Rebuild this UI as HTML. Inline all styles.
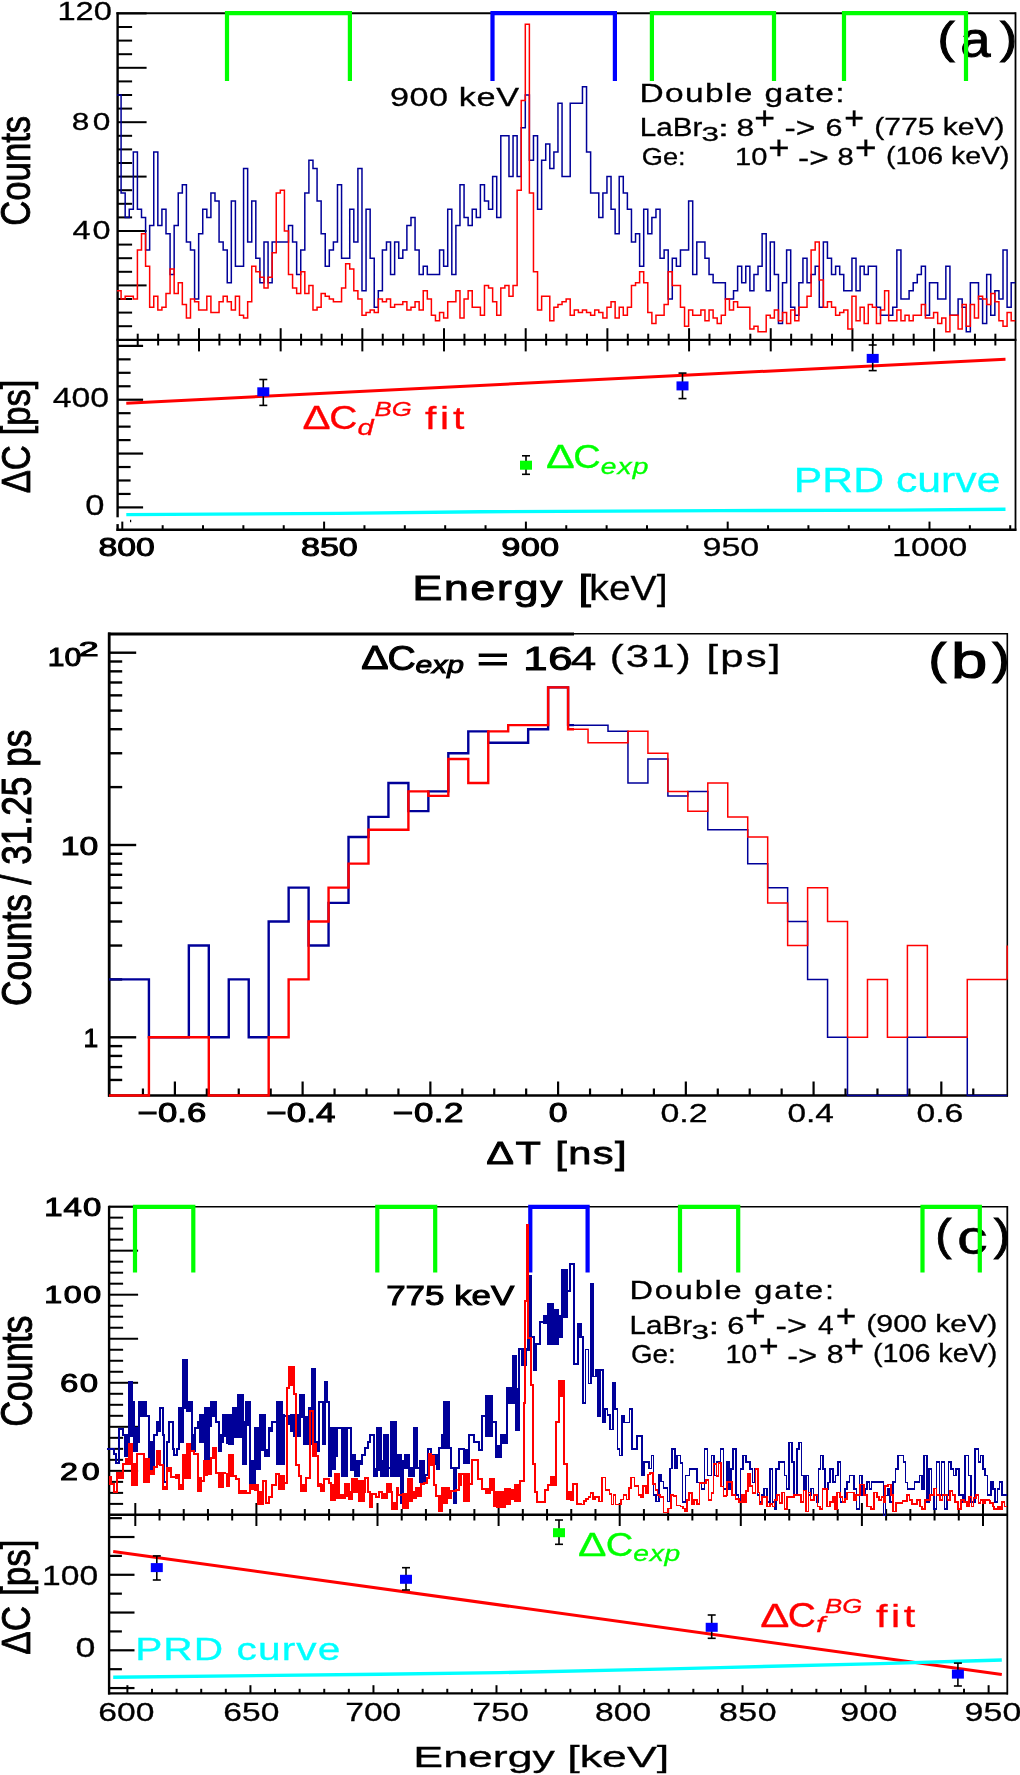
<!DOCTYPE html>
<html><head><meta charset="utf-8"><style>
html,body{margin:0;padding:0;background:#fff;}
svg{display:block;will-change:transform;font-family:"Liberation Sans",sans-serif;font-kerning:none;font-variant-ligatures:none;}
text{font-kerning:none;}
</style></head><body>
<svg width="1020" height="1775" viewBox="0 0 1020 1775">
<rect x="0" y="0" width="1020" height="1775" fill="#fff"/>
<line x1="117.6" y1="12.3" x2="117.6" y2="530.8" stroke="#000" stroke-width="2.4" stroke-linecap="butt"/>
<line x1="116.4" y1="13.3" x2="1015.5" y2="13.3" stroke="#000" stroke-width="2" stroke-linecap="butt"/>
<line x1="1015.5" y1="12.3" x2="1015.5" y2="530.8" stroke="#000" stroke-width="1.8" stroke-linecap="butt"/>
<line x1="116.4" y1="339.9" x2="1016.4" y2="339.9" stroke="#000" stroke-width="2.4" stroke-linecap="butt"/>
<line x1="116.4" y1="529.8" x2="1016.4" y2="529.8" stroke="#000" stroke-width="2.4" stroke-linecap="butt"/>
<line x1="117.6" y1="326.2" x2="132.1" y2="326.2" stroke="#000" stroke-width="2" stroke-linecap="butt"/>
<line x1="117.6" y1="312.6" x2="132.1" y2="312.6" stroke="#000" stroke-width="2" stroke-linecap="butt"/>
<line x1="117.6" y1="299" x2="132.1" y2="299" stroke="#000" stroke-width="2" stroke-linecap="butt"/>
<line x1="117.6" y1="285.4" x2="146.6" y2="285.4" stroke="#000" stroke-width="2" stroke-linecap="butt"/>
<line x1="117.6" y1="271.8" x2="132.1" y2="271.8" stroke="#000" stroke-width="2" stroke-linecap="butt"/>
<line x1="117.6" y1="258.2" x2="132.1" y2="258.2" stroke="#000" stroke-width="2" stroke-linecap="butt"/>
<line x1="117.6" y1="244.6" x2="132.1" y2="244.6" stroke="#000" stroke-width="2" stroke-linecap="butt"/>
<line x1="117.6" y1="231" x2="146.6" y2="231" stroke="#000" stroke-width="2" stroke-linecap="butt"/>
<line x1="117.6" y1="217.4" x2="132.1" y2="217.4" stroke="#000" stroke-width="2" stroke-linecap="butt"/>
<line x1="117.6" y1="203.8" x2="132.1" y2="203.8" stroke="#000" stroke-width="2" stroke-linecap="butt"/>
<line x1="117.6" y1="190.2" x2="132.1" y2="190.2" stroke="#000" stroke-width="2" stroke-linecap="butt"/>
<line x1="117.6" y1="176.6" x2="146.6" y2="176.6" stroke="#000" stroke-width="2" stroke-linecap="butt"/>
<line x1="117.6" y1="163" x2="132.1" y2="163" stroke="#000" stroke-width="2" stroke-linecap="butt"/>
<line x1="117.6" y1="149.4" x2="132.1" y2="149.4" stroke="#000" stroke-width="2" stroke-linecap="butt"/>
<line x1="117.6" y1="135.8" x2="132.1" y2="135.8" stroke="#000" stroke-width="2" stroke-linecap="butt"/>
<line x1="117.6" y1="122.2" x2="146.6" y2="122.2" stroke="#000" stroke-width="2" stroke-linecap="butt"/>
<line x1="117.6" y1="108.6" x2="132.1" y2="108.6" stroke="#000" stroke-width="2" stroke-linecap="butt"/>
<line x1="117.6" y1="95" x2="132.1" y2="95" stroke="#000" stroke-width="2" stroke-linecap="butt"/>
<line x1="117.6" y1="81.4" x2="132.1" y2="81.4" stroke="#000" stroke-width="2" stroke-linecap="butt"/>
<line x1="117.6" y1="67.8" x2="146.6" y2="67.8" stroke="#000" stroke-width="2" stroke-linecap="butt"/>
<line x1="117.6" y1="54.2" x2="132.1" y2="54.2" stroke="#000" stroke-width="2" stroke-linecap="butt"/>
<line x1="117.6" y1="40.6" x2="132.1" y2="40.6" stroke="#000" stroke-width="2" stroke-linecap="butt"/>
<line x1="117.6" y1="27" x2="132.1" y2="27" stroke="#000" stroke-width="2" stroke-linecap="butt"/>
<line x1="117.6" y1="13.4" x2="146.6" y2="13.4" stroke="#000" stroke-width="2" stroke-linecap="butt"/>
<line x1="137.72" y1="333.7" x2="137.72" y2="345.5" stroke="#000" stroke-width="2" stroke-linecap="butt"/>
<line x1="158.14" y1="333.7" x2="158.14" y2="345.5" stroke="#000" stroke-width="2" stroke-linecap="butt"/>
<line x1="178.56" y1="333.7" x2="178.56" y2="345.5" stroke="#000" stroke-width="2" stroke-linecap="butt"/>
<line x1="198.98" y1="328.2" x2="198.98" y2="351.4" stroke="#000" stroke-width="2" stroke-linecap="butt"/>
<line x1="219.4" y1="333.7" x2="219.4" y2="345.5" stroke="#000" stroke-width="2" stroke-linecap="butt"/>
<line x1="239.82" y1="333.7" x2="239.82" y2="345.5" stroke="#000" stroke-width="2" stroke-linecap="butt"/>
<line x1="260.24" y1="333.7" x2="260.24" y2="345.5" stroke="#000" stroke-width="2" stroke-linecap="butt"/>
<line x1="280.66" y1="328.2" x2="280.66" y2="351.4" stroke="#000" stroke-width="2" stroke-linecap="butt"/>
<line x1="301.08" y1="333.7" x2="301.08" y2="345.5" stroke="#000" stroke-width="2" stroke-linecap="butt"/>
<line x1="321.5" y1="333.7" x2="321.5" y2="345.5" stroke="#000" stroke-width="2" stroke-linecap="butt"/>
<line x1="341.92" y1="333.7" x2="341.92" y2="345.5" stroke="#000" stroke-width="2" stroke-linecap="butt"/>
<line x1="362.34" y1="328.2" x2="362.34" y2="351.4" stroke="#000" stroke-width="2" stroke-linecap="butt"/>
<line x1="382.76" y1="333.7" x2="382.76" y2="345.5" stroke="#000" stroke-width="2" stroke-linecap="butt"/>
<line x1="403.18" y1="333.7" x2="403.18" y2="345.5" stroke="#000" stroke-width="2" stroke-linecap="butt"/>
<line x1="423.6" y1="333.7" x2="423.6" y2="345.5" stroke="#000" stroke-width="2" stroke-linecap="butt"/>
<line x1="444.02" y1="328.2" x2="444.02" y2="351.4" stroke="#000" stroke-width="2" stroke-linecap="butt"/>
<line x1="464.44" y1="333.7" x2="464.44" y2="345.5" stroke="#000" stroke-width="2" stroke-linecap="butt"/>
<line x1="484.86" y1="333.7" x2="484.86" y2="345.5" stroke="#000" stroke-width="2" stroke-linecap="butt"/>
<line x1="505.28" y1="333.7" x2="505.28" y2="345.5" stroke="#000" stroke-width="2" stroke-linecap="butt"/>
<line x1="525.7" y1="328.2" x2="525.7" y2="351.4" stroke="#000" stroke-width="2" stroke-linecap="butt"/>
<line x1="546.12" y1="333.7" x2="546.12" y2="345.5" stroke="#000" stroke-width="2" stroke-linecap="butt"/>
<line x1="566.54" y1="333.7" x2="566.54" y2="345.5" stroke="#000" stroke-width="2" stroke-linecap="butt"/>
<line x1="586.96" y1="333.7" x2="586.96" y2="345.5" stroke="#000" stroke-width="2" stroke-linecap="butt"/>
<line x1="607.38" y1="328.2" x2="607.38" y2="351.4" stroke="#000" stroke-width="2" stroke-linecap="butt"/>
<line x1="627.8" y1="333.7" x2="627.8" y2="345.5" stroke="#000" stroke-width="2" stroke-linecap="butt"/>
<line x1="648.22" y1="333.7" x2="648.22" y2="345.5" stroke="#000" stroke-width="2" stroke-linecap="butt"/>
<line x1="668.64" y1="333.7" x2="668.64" y2="345.5" stroke="#000" stroke-width="2" stroke-linecap="butt"/>
<line x1="689.06" y1="328.2" x2="689.06" y2="351.4" stroke="#000" stroke-width="2" stroke-linecap="butt"/>
<line x1="709.48" y1="333.7" x2="709.48" y2="345.5" stroke="#000" stroke-width="2" stroke-linecap="butt"/>
<line x1="729.9" y1="333.7" x2="729.9" y2="345.5" stroke="#000" stroke-width="2" stroke-linecap="butt"/>
<line x1="750.32" y1="333.7" x2="750.32" y2="345.5" stroke="#000" stroke-width="2" stroke-linecap="butt"/>
<line x1="770.74" y1="328.2" x2="770.74" y2="351.4" stroke="#000" stroke-width="2" stroke-linecap="butt"/>
<line x1="791.16" y1="333.7" x2="791.16" y2="345.5" stroke="#000" stroke-width="2" stroke-linecap="butt"/>
<line x1="811.58" y1="333.7" x2="811.58" y2="345.5" stroke="#000" stroke-width="2" stroke-linecap="butt"/>
<line x1="832" y1="333.7" x2="832" y2="345.5" stroke="#000" stroke-width="2" stroke-linecap="butt"/>
<line x1="852.42" y1="328.2" x2="852.42" y2="351.4" stroke="#000" stroke-width="2" stroke-linecap="butt"/>
<line x1="872.84" y1="333.7" x2="872.84" y2="345.5" stroke="#000" stroke-width="2" stroke-linecap="butt"/>
<line x1="893.26" y1="333.7" x2="893.26" y2="345.5" stroke="#000" stroke-width="2" stroke-linecap="butt"/>
<line x1="913.68" y1="333.7" x2="913.68" y2="345.5" stroke="#000" stroke-width="2" stroke-linecap="butt"/>
<line x1="934.1" y1="328.2" x2="934.1" y2="351.4" stroke="#000" stroke-width="2" stroke-linecap="butt"/>
<line x1="954.52" y1="333.7" x2="954.52" y2="345.5" stroke="#000" stroke-width="2" stroke-linecap="butt"/>
<line x1="974.94" y1="333.7" x2="974.94" y2="345.5" stroke="#000" stroke-width="2" stroke-linecap="butt"/>
<line x1="995.36" y1="333.7" x2="995.36" y2="345.5" stroke="#000" stroke-width="2" stroke-linecap="butt"/>
<rect x="115.5" y="517.3" width="4.5" height="6.8" fill="#fff"/>
<rect x="130" y="519.8" width="1.2" height="2.4" fill="#000"/>
<line x1="117.6" y1="507.4" x2="143.1" y2="507.4" stroke="#000" stroke-width="2.2" stroke-linecap="butt"/>
<line x1="117.6" y1="493.94" x2="130.6" y2="493.94" stroke="#000" stroke-width="2.2" stroke-linecap="butt"/>
<line x1="117.6" y1="480.48" x2="130.6" y2="480.48" stroke="#000" stroke-width="2.2" stroke-linecap="butt"/>
<line x1="117.6" y1="467.02" x2="130.6" y2="467.02" stroke="#000" stroke-width="2.2" stroke-linecap="butt"/>
<line x1="117.6" y1="453.56" x2="143.1" y2="453.56" stroke="#000" stroke-width="2.2" stroke-linecap="butt"/>
<line x1="117.6" y1="440.1" x2="130.6" y2="440.1" stroke="#000" stroke-width="2.2" stroke-linecap="butt"/>
<line x1="117.6" y1="426.64" x2="130.6" y2="426.64" stroke="#000" stroke-width="2.2" stroke-linecap="butt"/>
<line x1="117.6" y1="413.18" x2="130.6" y2="413.18" stroke="#000" stroke-width="2.2" stroke-linecap="butt"/>
<line x1="117.6" y1="399.72" x2="143.1" y2="399.72" stroke="#000" stroke-width="2.2" stroke-linecap="butt"/>
<line x1="117.6" y1="386.26" x2="130.6" y2="386.26" stroke="#000" stroke-width="2.2" stroke-linecap="butt"/>
<line x1="117.6" y1="372.8" x2="130.6" y2="372.8" stroke="#000" stroke-width="2.2" stroke-linecap="butt"/>
<line x1="117.6" y1="359.34" x2="130.6" y2="359.34" stroke="#000" stroke-width="2.2" stroke-linecap="butt"/>
<line x1="117.6" y1="345.88" x2="143.1" y2="345.88" stroke="#000" stroke-width="2.2" stroke-linecap="butt"/>
<line x1="122.3" y1="529.8" x2="122.3" y2="521.6" stroke="#000" stroke-width="2" stroke-linecap="butt"/>
<line x1="162.66" y1="529.8" x2="162.66" y2="525.2" stroke="#000" stroke-width="2" stroke-linecap="butt"/>
<line x1="203.02" y1="529.8" x2="203.02" y2="525.2" stroke="#000" stroke-width="2" stroke-linecap="butt"/>
<line x1="243.38" y1="529.8" x2="243.38" y2="525.2" stroke="#000" stroke-width="2" stroke-linecap="butt"/>
<line x1="283.74" y1="529.8" x2="283.74" y2="525.2" stroke="#000" stroke-width="2" stroke-linecap="butt"/>
<line x1="324.1" y1="529.8" x2="324.1" y2="521.6" stroke="#000" stroke-width="2" stroke-linecap="butt"/>
<line x1="364.46" y1="529.8" x2="364.46" y2="525.2" stroke="#000" stroke-width="2" stroke-linecap="butt"/>
<line x1="404.82" y1="529.8" x2="404.82" y2="525.2" stroke="#000" stroke-width="2" stroke-linecap="butt"/>
<line x1="445.18" y1="529.8" x2="445.18" y2="525.2" stroke="#000" stroke-width="2" stroke-linecap="butt"/>
<line x1="485.54" y1="529.8" x2="485.54" y2="525.2" stroke="#000" stroke-width="2" stroke-linecap="butt"/>
<line x1="525.9" y1="529.8" x2="525.9" y2="521.6" stroke="#000" stroke-width="2" stroke-linecap="butt"/>
<line x1="566.26" y1="529.8" x2="566.26" y2="525.2" stroke="#000" stroke-width="2" stroke-linecap="butt"/>
<line x1="606.62" y1="529.8" x2="606.62" y2="525.2" stroke="#000" stroke-width="2" stroke-linecap="butt"/>
<line x1="646.98" y1="529.8" x2="646.98" y2="525.2" stroke="#000" stroke-width="2" stroke-linecap="butt"/>
<line x1="687.34" y1="529.8" x2="687.34" y2="525.2" stroke="#000" stroke-width="2" stroke-linecap="butt"/>
<line x1="727.7" y1="529.8" x2="727.7" y2="521.6" stroke="#000" stroke-width="2" stroke-linecap="butt"/>
<line x1="768.06" y1="529.8" x2="768.06" y2="525.2" stroke="#000" stroke-width="2" stroke-linecap="butt"/>
<line x1="808.42" y1="529.8" x2="808.42" y2="525.2" stroke="#000" stroke-width="2" stroke-linecap="butt"/>
<line x1="848.78" y1="529.8" x2="848.78" y2="525.2" stroke="#000" stroke-width="2" stroke-linecap="butt"/>
<line x1="889.14" y1="529.8" x2="889.14" y2="525.2" stroke="#000" stroke-width="2" stroke-linecap="butt"/>
<line x1="929.5" y1="529.8" x2="929.5" y2="521.6" stroke="#000" stroke-width="2" stroke-linecap="butt"/>
<line x1="969.86" y1="529.8" x2="969.86" y2="525.2" stroke="#000" stroke-width="2" stroke-linecap="butt"/>
<line x1="1010.22" y1="529.8" x2="1010.22" y2="525.2" stroke="#000" stroke-width="2" stroke-linecap="butt"/>
<text transform="translate(57.41,19.7) scale(1.2592,1)" font-size="25.92" fill="#000" style="stroke:#000;stroke-width:0.3px;">120</text>
<text transform="translate(71.82,129.5) scale(1.3000,1)" font-size="24.35" fill="#000" style="letter-spacing:2.62px;stroke:#000;stroke-width:0.3px;">80</text>
<text transform="translate(72.46,239.2) scale(1.3000,1)" font-size="24.92" fill="#000" style="letter-spacing:1.52px;stroke:#000;stroke-width:0.3px;">40</text>
<text transform="translate(30.3,225.76) rotate(-90) scale(0.8191,1)" font-size="42.39" fill="#000" style="stroke:#000;stroke-width:0.8px;">Counts</text>
<text transform="translate(52.73,407.3) scale(1.2081,1)" font-size="27.93" fill="#000" style="stroke:#000;stroke-width:0.3px;">400</text>
<text transform="translate(85.35,514.6) scale(1.1814,1)" font-size="29.22" fill="#000" style="stroke:#000;stroke-width:0.3px;">0</text>
<text transform="translate(30.2,493.33) rotate(-90) scale(0.8531,1)" font-size="40.67" fill="#000" style="stroke:#000;stroke-width:0.8px;">ΔC [ps]</text>
<text transform="translate(98.53,556) scale(1.2732,1)" font-size="26.5" fill="#000" style="stroke:#000;stroke-width:1.0px;">800</text>
<text transform="translate(300.92,556) scale(1.2875,1)" font-size="26.5" fill="#000" style="stroke:#000;stroke-width:1.0px;">850</text>
<text transform="translate(501.29,556) scale(1.3000,1)" font-size="26.5" fill="#000" style="letter-spacing:0.19px;stroke:#000;stroke-width:1.0px;">900</text>
<text transform="translate(702.5,556.3) scale(1.2786,1)" font-size="26.64" fill="#000" style="stroke:#000;stroke-width:0.3px;">950</text>
<text transform="translate(892.23,556.3) scale(1.2653,1)" font-size="26.64" fill="#000" style="stroke:#000;stroke-width:0.3px;">1000</text>
<text transform="translate(412.56,599.7) scale(1.3000,1)" font-size="34.16" fill="#000" style="letter-spacing:1.42px;stroke:#000;stroke-width:1.0px;">Energy [</text>
<text transform="translate(589.37,599.7) scale(1.1429,1)" font-size="34.16" fill="#000" style="stroke:#000;stroke-width:0.3px;">keV]</text>
<text transform="translate(389.89,106.2) scale(1.3000,1)" font-size="26.35" fill="#000" style="letter-spacing:0.44px;stroke:#000;stroke-width:0.3px;">900 keV</text>
<text transform="translate(639.46,101.5) scale(1.3000,1)" font-size="25.73" fill="#000" style="letter-spacing:1.08px;stroke:#000;stroke-width:0.3px;">Double gate:</text>
<text transform="translate(639.87,135.6) scale(1.1770,1)" font-size="25.15" fill="#000" style="stroke:#000;stroke-width:0.3px;">LaBr</text>
<text transform="translate(701.5,140.89) scale(1.4933,1)" font-size="21.04" fill="#000" style="stroke:#000;stroke-width:0.3px;">3</text>
<text transform="translate(717.76,135.6) scale(1.8339,1)" font-size="22.33" fill="#000" style="stroke:#000;stroke-width:0.3px;">:</text>
<text transform="translate(736.62,135.6) scale(1.2816,1)" font-size="24.78" fill="#000" style="stroke:#000;stroke-width:0.3px;">8</text>
<text transform="translate(754.26,128.88) scale(1.1692,1)" font-size="30.45" fill="#000" style="stroke:#000;stroke-width:0.3px;">+</text>
<text transform="translate(784.51,137.11) scale(1.2556,1)" font-size="26.78" fill="#000" style="stroke:#000;stroke-width:0.3px;">-&gt;</text>
<text transform="translate(825.55,135.6) scale(1.2333,1)" font-size="24.78" fill="#000" style="stroke:#000;stroke-width:0.3px;">6</text>
<text transform="translate(844.24,128.93) scale(1.0932,1)" font-size="31.07" fill="#000" style="stroke:#000;stroke-width:0.3px;">+</text>
<text transform="translate(874.13,134.6) scale(1.2467,1)" font-size="24.15" fill="#000" style="stroke:#000;stroke-width:0.3px;">(775 keV)</text>
<text transform="translate(641.73,165.4) scale(1.0981,1)" font-size="24.78" fill="#000" style="stroke:#000;stroke-width:0.3px;">Ge:</text>
<text transform="translate(734.98,165.4) scale(1.1739,1)" font-size="24.78" fill="#000" style="stroke:#000;stroke-width:0.3px;">10</text>
<text transform="translate(768.32,158.91) scale(1.1003,1)" font-size="33.11" fill="#000" style="stroke:#000;stroke-width:0.3px;">+</text>
<text transform="translate(798.12,167.11) scale(1.2466,1)" font-size="26.78" fill="#000" style="stroke:#000;stroke-width:0.3px;">-&gt;</text>
<text transform="translate(837.53,165.4) scale(1.1784,1)" font-size="24.78" fill="#000" style="stroke:#000;stroke-width:0.3px;">8</text>
<text transform="translate(855.09,159) scale(1.0854,1)" font-size="34.13" fill="#000" style="stroke:#000;stroke-width:0.3px;">+</text>
<text transform="translate(886.03,164.4) scale(1.1808,1)" font-size="24.15" fill="#000" style="stroke:#000;stroke-width:0.3px;">(106 keV)</text>
<text transform="translate(302.55,428.5) scale(1.2820,1)" font-size="32.85" fill="#ff0000" style="stroke:#ff0000;stroke-width:0.3px;">Δ</text>
<text transform="translate(329.22,429.07) scale(1.1602,1)" font-size="33.62" fill="#ff0000" style="stroke:#ff0000;stroke-width:0.3px;">C</text>
<text transform="translate(357.52,434.97) scale(1.2981,1)" font-size="22.32" fill="#ff0000" style="font-style:italic;stroke:#ff0000;stroke-width:0.3px;">d</text>
<text transform="translate(374.51,416.3) scale(1.2659,1)" font-size="20.34" fill="#ff0000" style="font-style:italic;stroke:#ff0000;stroke-width:0.3px;">BG</text>
<text transform="translate(425.02,428.65) scale(1.3000,1)" font-size="31.4" fill="#ff0000" style="letter-spacing:2.89px;stroke:#ff0000;stroke-width:0.3px;">fit</text>
<text transform="translate(546.02,467.7) scale(1.3297,1)" font-size="32.41" fill="#00ff00" style="stroke:#00ff00;stroke-width:0.3px;">Δ</text>
<text transform="translate(573.37,468.17) scale(1.1180,1)" font-size="34.04" fill="#00ff00" style="stroke:#00ff00;stroke-width:0.3px;">C</text>
<text transform="translate(600.85,473.99) scale(1.3000,1)" font-size="21.73" fill="#00ff00" style="font-style:italic;letter-spacing:0.82px;stroke:#00ff00;stroke-width:0.3px;">exp</text>
<text transform="translate(937.4,53.34) scale(1.1434,1)" font-size="45.19" fill="#000" style="stroke:#000;stroke-width:1.0px;">(</text>
<text transform="translate(960.28,56.82) scale(1.1102,1)" font-size="49.1" fill="#000" style="stroke:#000;stroke-width:0.9px;">a</text>
<text transform="translate(1000.1,53.34) scale(1.1434,1)" font-size="45.19" fill="#000" style="stroke:#000;stroke-width:1.0px;">)</text>
<path d="M227 81 L227 13.2 L349.9 13.2 L349.9 81" fill="none" stroke="#00ff00" stroke-width="4.2" stroke-linejoin="miter"/>
<path d="M492.5 81 L492.5 13.2 L614.9 13.2 L614.9 81" fill="none" stroke="#0000ff" stroke-width="4.2" stroke-linejoin="miter"/>
<path d="M651.9 81 L651.9 13.2 L774 13.2 L774 81" fill="none" stroke="#00ff00" stroke-width="4.2" stroke-linejoin="miter"/>
<path d="M844 81 L844 13.2 L966 13.2 L966 81" fill="none" stroke="#00ff00" stroke-width="4.2" stroke-linejoin="miter"/>
<line x1="126.3" y1="403.2" x2="1005.5" y2="359.2" stroke="#ff0000" stroke-width="3" stroke-linecap="butt"/>
<path d="M126.3 514.6 L340 513.4 L480 511.8 L720 510.6 L900 510.1 L1005.5 509.3" fill="none" stroke="#00ffff" stroke-width="3.4" stroke-linejoin="round"/>
<line x1="263.3" y1="379.5" x2="263.3" y2="405.4" stroke="#000" stroke-width="1.6" stroke-linecap="butt"/>
<line x1="259.3" y1="379.5" x2="267.3" y2="379.5" stroke="#000" stroke-width="1.6" stroke-linecap="butt"/>
<line x1="259.3" y1="405.4" x2="267.3" y2="405.4" stroke="#000" stroke-width="1.6" stroke-linecap="butt"/>
<rect x="257.3" y="387.3" width="12" height="9" fill="#0000ff"/>
<line x1="682.5" y1="373.1" x2="682.5" y2="398.6" stroke="#000" stroke-width="1.6" stroke-linecap="butt"/>
<line x1="678.5" y1="373.1" x2="686.5" y2="373.1" stroke="#000" stroke-width="1.6" stroke-linecap="butt"/>
<line x1="678.5" y1="398.6" x2="686.5" y2="398.6" stroke="#000" stroke-width="1.6" stroke-linecap="butt"/>
<rect x="676.5" y="381.4" width="12" height="9" fill="#0000ff"/>
<line x1="872.7" y1="345" x2="872.7" y2="370.6" stroke="#000" stroke-width="1.6" stroke-linecap="butt"/>
<line x1="868.7" y1="345" x2="876.7" y2="345" stroke="#000" stroke-width="1.6" stroke-linecap="butt"/>
<line x1="868.7" y1="370.6" x2="876.7" y2="370.6" stroke="#000" stroke-width="1.6" stroke-linecap="butt"/>
<rect x="866.7" y="353.9" width="12" height="9" fill="#0000ff"/>
<line x1="526" y1="455.8" x2="526" y2="474.3" stroke="#000" stroke-width="1.6" stroke-linecap="butt"/>
<line x1="522" y1="455.8" x2="530" y2="455.8" stroke="#000" stroke-width="1.6" stroke-linecap="butt"/>
<line x1="522" y1="474.3" x2="530" y2="474.3" stroke="#000" stroke-width="1.6" stroke-linecap="butt"/>
<rect x="520" y="460.7" width="12" height="9" fill="#00ff00"/>
<text transform="translate(793.79,492) scale(1.2518,1)" font-size="34.16" fill="#00ffff" style="stroke:#00ffff;stroke-width:0.3px;">PRD curve</text>
<line x1="109.2" y1="632.5" x2="109.2" y2="1096.8" stroke="#000" stroke-width="2.8" stroke-linecap="butt"/>
<line x1="108" y1="634" x2="574" y2="634" stroke="#000" stroke-width="3" stroke-linecap="butt"/>
<line x1="574" y1="633.8" x2="1008" y2="633.8" stroke="#000" stroke-width="1.6" stroke-linecap="butt"/>
<line x1="1007.3" y1="633" x2="1007.3" y2="1096.5" stroke="#000" stroke-width="1.6" stroke-linecap="butt"/>
<line x1="108" y1="1095.5" x2="1008" y2="1095.5" stroke="#000" stroke-width="2.4" stroke-linecap="butt"/>
<line x1="109.2" y1="1079.96" x2="122.2" y2="1079.96" stroke="#000" stroke-width="2.4" stroke-linecap="butt"/>
<line x1="109.2" y1="1067.09" x2="122.2" y2="1067.09" stroke="#000" stroke-width="2.4" stroke-linecap="butt"/>
<line x1="109.2" y1="1055.94" x2="122.2" y2="1055.94" stroke="#000" stroke-width="2.4" stroke-linecap="butt"/>
<line x1="109.2" y1="1046.1" x2="122.2" y2="1046.1" stroke="#000" stroke-width="2.4" stroke-linecap="butt"/>
<line x1="109.2" y1="1037.3" x2="136.2" y2="1037.3" stroke="#000" stroke-width="2.4" stroke-linecap="butt"/>
<line x1="109.2" y1="979.41" x2="122.2" y2="979.41" stroke="#000" stroke-width="2.4" stroke-linecap="butt"/>
<line x1="109.2" y1="945.55" x2="122.2" y2="945.55" stroke="#000" stroke-width="2.4" stroke-linecap="butt"/>
<line x1="109.2" y1="921.52" x2="122.2" y2="921.52" stroke="#000" stroke-width="2.4" stroke-linecap="butt"/>
<line x1="109.2" y1="902.89" x2="122.2" y2="902.89" stroke="#000" stroke-width="2.4" stroke-linecap="butt"/>
<line x1="109.2" y1="887.66" x2="122.2" y2="887.66" stroke="#000" stroke-width="2.4" stroke-linecap="butt"/>
<line x1="109.2" y1="874.79" x2="122.2" y2="874.79" stroke="#000" stroke-width="2.4" stroke-linecap="butt"/>
<line x1="109.2" y1="863.64" x2="122.2" y2="863.64" stroke="#000" stroke-width="2.4" stroke-linecap="butt"/>
<line x1="109.2" y1="853.8" x2="122.2" y2="853.8" stroke="#000" stroke-width="2.4" stroke-linecap="butt"/>
<line x1="109.2" y1="845" x2="136.2" y2="845" stroke="#000" stroke-width="2.4" stroke-linecap="butt"/>
<line x1="109.2" y1="787.11" x2="122.2" y2="787.11" stroke="#000" stroke-width="2.4" stroke-linecap="butt"/>
<line x1="109.2" y1="753.25" x2="122.2" y2="753.25" stroke="#000" stroke-width="2.4" stroke-linecap="butt"/>
<line x1="109.2" y1="729.22" x2="122.2" y2="729.22" stroke="#000" stroke-width="2.4" stroke-linecap="butt"/>
<line x1="109.2" y1="710.59" x2="122.2" y2="710.59" stroke="#000" stroke-width="2.4" stroke-linecap="butt"/>
<line x1="109.2" y1="695.36" x2="122.2" y2="695.36" stroke="#000" stroke-width="2.4" stroke-linecap="butt"/>
<line x1="109.2" y1="682.49" x2="122.2" y2="682.49" stroke="#000" stroke-width="2.4" stroke-linecap="butt"/>
<line x1="109.2" y1="671.34" x2="122.2" y2="671.34" stroke="#000" stroke-width="2.4" stroke-linecap="butt"/>
<line x1="109.2" y1="661.5" x2="122.2" y2="661.5" stroke="#000" stroke-width="2.4" stroke-linecap="butt"/>
<line x1="109.2" y1="652.7" x2="136.2" y2="652.7" stroke="#000" stroke-width="2.4" stroke-linecap="butt"/>
<text transform="translate(47.71,666) scale(1.1869,1)" font-size="25.35" fill="#000" style="stroke:#000;stroke-width:1.0px;">10</text>
<text transform="translate(78.71,656.3) scale(1.8257,1)" font-size="19.48" fill="#000" style="stroke:#000;stroke-width:1.0px;">2</text>
<text transform="translate(60.83,855) scale(1.2929,1)" font-size="26.07" fill="#000" style="stroke:#000;stroke-width:1.0px;">10</text>
<text transform="translate(83.59,1047.4) scale(1.0576,1)" font-size="25" fill="#000" style="stroke:#000;stroke-width:0.9px;">1</text>
<line x1="142.94" y1="1095.5" x2="142.94" y2="1088.5" stroke="#000" stroke-width="2.2" stroke-linecap="butt"/>
<line x1="174.88" y1="1095.5" x2="174.88" y2="1081.5" stroke="#000" stroke-width="2.2" stroke-linecap="butt"/>
<line x1="206.81" y1="1095.5" x2="206.81" y2="1088.5" stroke="#000" stroke-width="2.2" stroke-linecap="butt"/>
<line x1="238.75" y1="1095.5" x2="238.75" y2="1088.5" stroke="#000" stroke-width="2.2" stroke-linecap="butt"/>
<line x1="270.69" y1="1095.5" x2="270.69" y2="1088.5" stroke="#000" stroke-width="2.2" stroke-linecap="butt"/>
<line x1="302.62" y1="1095.5" x2="302.62" y2="1081.5" stroke="#000" stroke-width="2.2" stroke-linecap="butt"/>
<line x1="334.55" y1="1095.5" x2="334.55" y2="1088.5" stroke="#000" stroke-width="2.2" stroke-linecap="butt"/>
<line x1="366.49" y1="1095.5" x2="366.49" y2="1088.5" stroke="#000" stroke-width="2.2" stroke-linecap="butt"/>
<line x1="398.43" y1="1095.5" x2="398.43" y2="1088.5" stroke="#000" stroke-width="2.2" stroke-linecap="butt"/>
<line x1="430.36" y1="1095.5" x2="430.36" y2="1081.5" stroke="#000" stroke-width="2.2" stroke-linecap="butt"/>
<line x1="462.3" y1="1095.5" x2="462.3" y2="1088.5" stroke="#000" stroke-width="2.2" stroke-linecap="butt"/>
<line x1="494.23" y1="1095.5" x2="494.23" y2="1088.5" stroke="#000" stroke-width="2.2" stroke-linecap="butt"/>
<line x1="526.16" y1="1095.5" x2="526.16" y2="1088.5" stroke="#000" stroke-width="2.2" stroke-linecap="butt"/>
<line x1="558.1" y1="1095.5" x2="558.1" y2="1081.5" stroke="#000" stroke-width="2.2" stroke-linecap="butt"/>
<line x1="590.04" y1="1095.5" x2="590.04" y2="1088.5" stroke="#000" stroke-width="2.2" stroke-linecap="butt"/>
<line x1="621.97" y1="1095.5" x2="621.97" y2="1088.5" stroke="#000" stroke-width="2.2" stroke-linecap="butt"/>
<line x1="653.91" y1="1095.5" x2="653.91" y2="1088.5" stroke="#000" stroke-width="2.2" stroke-linecap="butt"/>
<line x1="685.84" y1="1095.5" x2="685.84" y2="1081.5" stroke="#000" stroke-width="2.2" stroke-linecap="butt"/>
<line x1="717.78" y1="1095.5" x2="717.78" y2="1088.5" stroke="#000" stroke-width="2.2" stroke-linecap="butt"/>
<line x1="749.71" y1="1095.5" x2="749.71" y2="1088.5" stroke="#000" stroke-width="2.2" stroke-linecap="butt"/>
<line x1="781.65" y1="1095.5" x2="781.65" y2="1088.5" stroke="#000" stroke-width="2.2" stroke-linecap="butt"/>
<line x1="813.58" y1="1095.5" x2="813.58" y2="1081.5" stroke="#000" stroke-width="2.2" stroke-linecap="butt"/>
<line x1="845.52" y1="1095.5" x2="845.52" y2="1088.5" stroke="#000" stroke-width="2.2" stroke-linecap="butt"/>
<line x1="877.45" y1="1095.5" x2="877.45" y2="1088.5" stroke="#000" stroke-width="2.2" stroke-linecap="butt"/>
<line x1="909.38" y1="1095.5" x2="909.38" y2="1088.5" stroke="#000" stroke-width="2.2" stroke-linecap="butt"/>
<line x1="941.32" y1="1095.5" x2="941.32" y2="1081.5" stroke="#000" stroke-width="2.2" stroke-linecap="butt"/>
<line x1="973.26" y1="1095.5" x2="973.26" y2="1088.5" stroke="#000" stroke-width="2.2" stroke-linecap="butt"/>
<text transform="translate(137.79,1122.1) scale(1.2895,1)" font-size="26.92" fill="#000" style="stroke:#000;stroke-width:1.0px;">−0.6</text>
<text transform="translate(266.48,1122.1) scale(1.2971,1)" font-size="26.92" fill="#000" style="stroke:#000;stroke-width:1.0px;">−0.4</text>
<text transform="translate(393.07,1122.1) scale(1.3000,1)" font-size="26.92" fill="#000" style="letter-spacing:0.33px;stroke:#000;stroke-width:1.0px;">−0.2</text>
<text transform="translate(548.68,1122.1) scale(1.2587,1)" font-size="26.92" fill="#000" style="stroke:#000;stroke-width:1.0px;">0</text>
<text transform="translate(660.48,1121.6) scale(1.3000,1)" font-size="26.07" fill="#000" style="letter-spacing:0.01px;stroke:#000;stroke-width:0.3px;">0.2</text>
<text transform="translate(787.49,1121.6) scale(1.2829,1)" font-size="26.07" fill="#000" style="stroke:#000;stroke-width:0.3px;">0.4</text>
<text transform="translate(916.38,1121.6) scale(1.2944,1)" font-size="26.07" fill="#000" style="stroke:#000;stroke-width:0.3px;">0.6</text>
<text transform="translate(486.36,1163.5) scale(1.3000,1)" font-size="31.98" fill="#000" style="letter-spacing:1.08px;stroke:#000;stroke-width:0.8px;">ΔT [ns]</text>
<text transform="translate(30.8,1005.89) rotate(-90) scale(0.8432,1)" font-size="41.82" fill="#000" style="stroke:#000;stroke-width:1.0px;">Counts / 31.25 ps</text>
<text transform="translate(928.5,674.23) scale(1.1881,1)" font-size="44.76" fill="#000" style="stroke:#000;stroke-width:1.2px;">(</text>
<text transform="translate(951.09,677.52) scale(1.3263,1)" font-size="49.29" fill="#000" style="stroke:#000;stroke-width:1.1px;">b</text>
<text transform="translate(992.6,674.23) scale(1.1460,1)" font-size="44.76" fill="#000" style="stroke:#000;stroke-width:1.2px;">)</text>
<line x1="109.1" y1="1205.8" x2="109.1" y2="1694.5" stroke="#000" stroke-width="2.4" stroke-linecap="butt"/>
<line x1="108" y1="1206.8" x2="1007.3" y2="1206.8" stroke="#000" stroke-width="1.6" stroke-linecap="butt"/>
<line x1="1007.3" y1="1206" x2="1007.3" y2="1694.5" stroke="#000" stroke-width="1.8" stroke-linecap="butt"/>
<line x1="108" y1="1514.7" x2="1008" y2="1514.7" stroke="#000" stroke-width="2.4" stroke-linecap="butt"/>
<line x1="108" y1="1693.4" x2="1008" y2="1693.4" stroke="#000" stroke-width="2.4" stroke-linecap="butt"/>
<line x1="109.1" y1="1503.89" x2="123.1" y2="1503.89" stroke="#000" stroke-width="2" stroke-linecap="butt"/>
<line x1="109.1" y1="1492.88" x2="123.1" y2="1492.88" stroke="#000" stroke-width="2" stroke-linecap="butt"/>
<line x1="109.1" y1="1481.87" x2="123.1" y2="1481.87" stroke="#000" stroke-width="2" stroke-linecap="butt"/>
<line x1="109.1" y1="1470.86" x2="138.1" y2="1470.86" stroke="#000" stroke-width="2" stroke-linecap="butt"/>
<line x1="109.1" y1="1459.85" x2="123.1" y2="1459.85" stroke="#000" stroke-width="2" stroke-linecap="butt"/>
<line x1="109.1" y1="1448.84" x2="123.1" y2="1448.84" stroke="#000" stroke-width="2" stroke-linecap="butt"/>
<line x1="109.1" y1="1437.83" x2="123.1" y2="1437.83" stroke="#000" stroke-width="2" stroke-linecap="butt"/>
<line x1="109.1" y1="1426.82" x2="138.1" y2="1426.82" stroke="#000" stroke-width="2" stroke-linecap="butt"/>
<line x1="109.1" y1="1415.81" x2="123.1" y2="1415.81" stroke="#000" stroke-width="2" stroke-linecap="butt"/>
<line x1="109.1" y1="1404.8" x2="123.1" y2="1404.8" stroke="#000" stroke-width="2" stroke-linecap="butt"/>
<line x1="109.1" y1="1393.79" x2="123.1" y2="1393.79" stroke="#000" stroke-width="2" stroke-linecap="butt"/>
<line x1="109.1" y1="1382.78" x2="138.1" y2="1382.78" stroke="#000" stroke-width="2" stroke-linecap="butt"/>
<line x1="109.1" y1="1371.77" x2="123.1" y2="1371.77" stroke="#000" stroke-width="2" stroke-linecap="butt"/>
<line x1="109.1" y1="1360.76" x2="123.1" y2="1360.76" stroke="#000" stroke-width="2" stroke-linecap="butt"/>
<line x1="109.1" y1="1349.75" x2="123.1" y2="1349.75" stroke="#000" stroke-width="2" stroke-linecap="butt"/>
<line x1="109.1" y1="1338.74" x2="138.1" y2="1338.74" stroke="#000" stroke-width="2" stroke-linecap="butt"/>
<line x1="109.1" y1="1327.73" x2="123.1" y2="1327.73" stroke="#000" stroke-width="2" stroke-linecap="butt"/>
<line x1="109.1" y1="1316.72" x2="123.1" y2="1316.72" stroke="#000" stroke-width="2" stroke-linecap="butt"/>
<line x1="109.1" y1="1305.71" x2="123.1" y2="1305.71" stroke="#000" stroke-width="2" stroke-linecap="butt"/>
<line x1="109.1" y1="1294.7" x2="138.1" y2="1294.7" stroke="#000" stroke-width="2" stroke-linecap="butt"/>
<line x1="109.1" y1="1283.69" x2="123.1" y2="1283.69" stroke="#000" stroke-width="2" stroke-linecap="butt"/>
<line x1="109.1" y1="1272.68" x2="123.1" y2="1272.68" stroke="#000" stroke-width="2" stroke-linecap="butt"/>
<line x1="109.1" y1="1261.67" x2="123.1" y2="1261.67" stroke="#000" stroke-width="2" stroke-linecap="butt"/>
<line x1="109.1" y1="1250.66" x2="138.1" y2="1250.66" stroke="#000" stroke-width="2" stroke-linecap="butt"/>
<line x1="109.1" y1="1239.65" x2="123.1" y2="1239.65" stroke="#000" stroke-width="2" stroke-linecap="butt"/>
<line x1="109.1" y1="1228.64" x2="123.1" y2="1228.64" stroke="#000" stroke-width="2" stroke-linecap="butt"/>
<line x1="109.1" y1="1217.63" x2="123.1" y2="1217.63" stroke="#000" stroke-width="2" stroke-linecap="butt"/>
<line x1="109.1" y1="1206.62" x2="138.1" y2="1206.62" stroke="#000" stroke-width="2" stroke-linecap="butt"/>
<line x1="135.3" y1="1503" x2="135.3" y2="1526" stroke="#000" stroke-width="2" stroke-linecap="butt"/>
<line x1="159.52" y1="1509" x2="159.52" y2="1520.5" stroke="#000" stroke-width="2" stroke-linecap="butt"/>
<line x1="183.74" y1="1509" x2="183.74" y2="1520.5" stroke="#000" stroke-width="2" stroke-linecap="butt"/>
<line x1="207.96" y1="1509" x2="207.96" y2="1520.5" stroke="#000" stroke-width="2" stroke-linecap="butt"/>
<line x1="232.18" y1="1509" x2="232.18" y2="1520.5" stroke="#000" stroke-width="2" stroke-linecap="butt"/>
<line x1="256.4" y1="1503" x2="256.4" y2="1526" stroke="#000" stroke-width="2" stroke-linecap="butt"/>
<line x1="280.62" y1="1509" x2="280.62" y2="1520.5" stroke="#000" stroke-width="2" stroke-linecap="butt"/>
<line x1="304.84" y1="1509" x2="304.84" y2="1520.5" stroke="#000" stroke-width="2" stroke-linecap="butt"/>
<line x1="329.06" y1="1509" x2="329.06" y2="1520.5" stroke="#000" stroke-width="2" stroke-linecap="butt"/>
<line x1="353.28" y1="1509" x2="353.28" y2="1520.5" stroke="#000" stroke-width="2" stroke-linecap="butt"/>
<line x1="377.5" y1="1503" x2="377.5" y2="1526" stroke="#000" stroke-width="2" stroke-linecap="butt"/>
<line x1="401.72" y1="1509" x2="401.72" y2="1520.5" stroke="#000" stroke-width="2" stroke-linecap="butt"/>
<line x1="425.94" y1="1509" x2="425.94" y2="1520.5" stroke="#000" stroke-width="2" stroke-linecap="butt"/>
<line x1="450.16" y1="1509" x2="450.16" y2="1520.5" stroke="#000" stroke-width="2" stroke-linecap="butt"/>
<line x1="474.38" y1="1509" x2="474.38" y2="1520.5" stroke="#000" stroke-width="2" stroke-linecap="butt"/>
<line x1="498.6" y1="1503" x2="498.6" y2="1526" stroke="#000" stroke-width="2" stroke-linecap="butt"/>
<line x1="522.82" y1="1509" x2="522.82" y2="1520.5" stroke="#000" stroke-width="2" stroke-linecap="butt"/>
<line x1="547.04" y1="1509" x2="547.04" y2="1520.5" stroke="#000" stroke-width="2" stroke-linecap="butt"/>
<line x1="571.26" y1="1509" x2="571.26" y2="1520.5" stroke="#000" stroke-width="2" stroke-linecap="butt"/>
<line x1="595.48" y1="1509" x2="595.48" y2="1520.5" stroke="#000" stroke-width="2" stroke-linecap="butt"/>
<line x1="619.7" y1="1503" x2="619.7" y2="1526" stroke="#000" stroke-width="2" stroke-linecap="butt"/>
<line x1="643.92" y1="1509" x2="643.92" y2="1520.5" stroke="#000" stroke-width="2" stroke-linecap="butt"/>
<line x1="668.14" y1="1509" x2="668.14" y2="1520.5" stroke="#000" stroke-width="2" stroke-linecap="butt"/>
<line x1="692.36" y1="1509" x2="692.36" y2="1520.5" stroke="#000" stroke-width="2" stroke-linecap="butt"/>
<line x1="716.58" y1="1509" x2="716.58" y2="1520.5" stroke="#000" stroke-width="2" stroke-linecap="butt"/>
<line x1="740.8" y1="1503" x2="740.8" y2="1526" stroke="#000" stroke-width="2" stroke-linecap="butt"/>
<line x1="765.02" y1="1509" x2="765.02" y2="1520.5" stroke="#000" stroke-width="2" stroke-linecap="butt"/>
<line x1="789.24" y1="1509" x2="789.24" y2="1520.5" stroke="#000" stroke-width="2" stroke-linecap="butt"/>
<line x1="813.46" y1="1509" x2="813.46" y2="1520.5" stroke="#000" stroke-width="2" stroke-linecap="butt"/>
<line x1="837.68" y1="1509" x2="837.68" y2="1520.5" stroke="#000" stroke-width="2" stroke-linecap="butt"/>
<line x1="861.9" y1="1503" x2="861.9" y2="1526" stroke="#000" stroke-width="2" stroke-linecap="butt"/>
<line x1="886.12" y1="1509" x2="886.12" y2="1520.5" stroke="#000" stroke-width="2" stroke-linecap="butt"/>
<line x1="910.34" y1="1509" x2="910.34" y2="1520.5" stroke="#000" stroke-width="2" stroke-linecap="butt"/>
<line x1="934.56" y1="1509" x2="934.56" y2="1520.5" stroke="#000" stroke-width="2" stroke-linecap="butt"/>
<line x1="958.78" y1="1509" x2="958.78" y2="1520.5" stroke="#000" stroke-width="2" stroke-linecap="butt"/>
<line x1="983" y1="1503" x2="983" y2="1526" stroke="#000" stroke-width="2" stroke-linecap="butt"/>
<line x1="109.1" y1="1688.06" x2="134.5" y2="1688.06" stroke="#000" stroke-width="2.2" stroke-linecap="butt"/>
<line x1="109.1" y1="1669.18" x2="121.9" y2="1669.18" stroke="#000" stroke-width="2.2" stroke-linecap="butt"/>
<line x1="109.1" y1="1650.3" x2="134.5" y2="1650.3" stroke="#000" stroke-width="2.2" stroke-linecap="butt"/>
<line x1="109.1" y1="1631.42" x2="121.9" y2="1631.42" stroke="#000" stroke-width="2.2" stroke-linecap="butt"/>
<line x1="109.1" y1="1612.54" x2="134.5" y2="1612.54" stroke="#000" stroke-width="2.2" stroke-linecap="butt"/>
<line x1="109.1" y1="1593.66" x2="121.9" y2="1593.66" stroke="#000" stroke-width="2.2" stroke-linecap="butt"/>
<line x1="109.1" y1="1574.78" x2="134.5" y2="1574.78" stroke="#000" stroke-width="2.2" stroke-linecap="butt"/>
<line x1="109.1" y1="1555.9" x2="121.9" y2="1555.9" stroke="#000" stroke-width="2.2" stroke-linecap="butt"/>
<line x1="109.1" y1="1537.02" x2="134.5" y2="1537.02" stroke="#000" stroke-width="2.2" stroke-linecap="butt"/>
<line x1="109.1" y1="1518.14" x2="121.9" y2="1518.14" stroke="#000" stroke-width="2.2" stroke-linecap="butt"/>
<line x1="127.4" y1="1693.4" x2="127.4" y2="1685.2" stroke="#000" stroke-width="2" stroke-linecap="butt"/>
<line x1="152.01" y1="1693.4" x2="152.01" y2="1688.8" stroke="#000" stroke-width="2" stroke-linecap="butt"/>
<line x1="176.61" y1="1693.4" x2="176.61" y2="1688.8" stroke="#000" stroke-width="2" stroke-linecap="butt"/>
<line x1="201.22" y1="1693.4" x2="201.22" y2="1688.8" stroke="#000" stroke-width="2" stroke-linecap="butt"/>
<line x1="225.82" y1="1693.4" x2="225.82" y2="1688.8" stroke="#000" stroke-width="2" stroke-linecap="butt"/>
<line x1="250.43" y1="1693.4" x2="250.43" y2="1685.2" stroke="#000" stroke-width="2" stroke-linecap="butt"/>
<line x1="275.04" y1="1693.4" x2="275.04" y2="1688.8" stroke="#000" stroke-width="2" stroke-linecap="butt"/>
<line x1="299.64" y1="1693.4" x2="299.64" y2="1688.8" stroke="#000" stroke-width="2" stroke-linecap="butt"/>
<line x1="324.25" y1="1693.4" x2="324.25" y2="1688.8" stroke="#000" stroke-width="2" stroke-linecap="butt"/>
<line x1="348.85" y1="1693.4" x2="348.85" y2="1688.8" stroke="#000" stroke-width="2" stroke-linecap="butt"/>
<line x1="373.46" y1="1693.4" x2="373.46" y2="1685.2" stroke="#000" stroke-width="2" stroke-linecap="butt"/>
<line x1="398.07" y1="1693.4" x2="398.07" y2="1688.8" stroke="#000" stroke-width="2" stroke-linecap="butt"/>
<line x1="422.67" y1="1693.4" x2="422.67" y2="1688.8" stroke="#000" stroke-width="2" stroke-linecap="butt"/>
<line x1="447.28" y1="1693.4" x2="447.28" y2="1688.8" stroke="#000" stroke-width="2" stroke-linecap="butt"/>
<line x1="471.88" y1="1693.4" x2="471.88" y2="1688.8" stroke="#000" stroke-width="2" stroke-linecap="butt"/>
<line x1="496.49" y1="1693.4" x2="496.49" y2="1685.2" stroke="#000" stroke-width="2" stroke-linecap="butt"/>
<line x1="521.1" y1="1693.4" x2="521.1" y2="1688.8" stroke="#000" stroke-width="2" stroke-linecap="butt"/>
<line x1="545.7" y1="1693.4" x2="545.7" y2="1688.8" stroke="#000" stroke-width="2" stroke-linecap="butt"/>
<line x1="570.31" y1="1693.4" x2="570.31" y2="1688.8" stroke="#000" stroke-width="2" stroke-linecap="butt"/>
<line x1="594.91" y1="1693.4" x2="594.91" y2="1688.8" stroke="#000" stroke-width="2" stroke-linecap="butt"/>
<line x1="619.52" y1="1693.4" x2="619.52" y2="1685.2" stroke="#000" stroke-width="2" stroke-linecap="butt"/>
<line x1="644.13" y1="1693.4" x2="644.13" y2="1688.8" stroke="#000" stroke-width="2" stroke-linecap="butt"/>
<line x1="668.73" y1="1693.4" x2="668.73" y2="1688.8" stroke="#000" stroke-width="2" stroke-linecap="butt"/>
<line x1="693.34" y1="1693.4" x2="693.34" y2="1688.8" stroke="#000" stroke-width="2" stroke-linecap="butt"/>
<line x1="717.94" y1="1693.4" x2="717.94" y2="1688.8" stroke="#000" stroke-width="2" stroke-linecap="butt"/>
<line x1="742.55" y1="1693.4" x2="742.55" y2="1685.2" stroke="#000" stroke-width="2" stroke-linecap="butt"/>
<line x1="767.16" y1="1693.4" x2="767.16" y2="1688.8" stroke="#000" stroke-width="2" stroke-linecap="butt"/>
<line x1="791.76" y1="1693.4" x2="791.76" y2="1688.8" stroke="#000" stroke-width="2" stroke-linecap="butt"/>
<line x1="816.37" y1="1693.4" x2="816.37" y2="1688.8" stroke="#000" stroke-width="2" stroke-linecap="butt"/>
<line x1="840.97" y1="1693.4" x2="840.97" y2="1688.8" stroke="#000" stroke-width="2" stroke-linecap="butt"/>
<line x1="865.58" y1="1693.4" x2="865.58" y2="1685.2" stroke="#000" stroke-width="2" stroke-linecap="butt"/>
<line x1="890.19" y1="1693.4" x2="890.19" y2="1688.8" stroke="#000" stroke-width="2" stroke-linecap="butt"/>
<line x1="914.79" y1="1693.4" x2="914.79" y2="1688.8" stroke="#000" stroke-width="2" stroke-linecap="butt"/>
<line x1="939.4" y1="1693.4" x2="939.4" y2="1688.8" stroke="#000" stroke-width="2" stroke-linecap="butt"/>
<line x1="964" y1="1693.4" x2="964" y2="1688.8" stroke="#000" stroke-width="2" stroke-linecap="butt"/>
<line x1="988.61" y1="1693.4" x2="988.61" y2="1685.2" stroke="#000" stroke-width="2" stroke-linecap="butt"/>
<text transform="translate(44.19,1216) scale(1.3000,1)" font-size="25.35" fill="#000" style="letter-spacing:0.81px;stroke:#000;stroke-width:1.0px;">140</text>
<text transform="translate(44.25,1303.3) scale(1.3000,1)" font-size="24.78" fill="#000" style="letter-spacing:1.26px;stroke:#000;stroke-width:1.0px;">100</text>
<text transform="translate(60.03,1391.7) scale(1.3000,1)" font-size="25.35" fill="#000" style="letter-spacing:1.00px;stroke:#000;stroke-width:1.0px;">60</text>
<text transform="translate(60.08,1480) scale(1.3000,1)" font-size="24.78" fill="#000" style="letter-spacing:2.81px;stroke:#000;stroke-width:1.0px;">20</text>
<text transform="translate(31.7,1426.83) rotate(-90) scale(0.8000,1)" font-size="44.97" fill="#000" style="letter-spacing:-0.64px;stroke:#000;stroke-width:0.9px;">Counts</text>
<text transform="translate(42.04,1585.1) scale(1.2222,1)" font-size="27.5" fill="#000" style="stroke:#000;stroke-width:0.3px;">100</text>
<text transform="translate(75.5,1657.2) scale(1.2942,1)" font-size="27.64" fill="#000" style="stroke:#000;stroke-width:0.3px;">0</text>
<text transform="translate(30,1654.75) rotate(-90) scale(0.8527,1)" font-size="41.25" fill="#000" style="stroke:#000;stroke-width:0.8px;">ΔC [ps]</text>
<text transform="translate(98.3,1720.7) scale(1.2881,1)" font-size="26.07" fill="#000" style="stroke:#000;stroke-width:0.3px;">600</text>
<text transform="translate(223.3,1720.7) scale(1.2881,1)" font-size="26.07" fill="#000" style="stroke:#000;stroke-width:0.3px;">650</text>
<text transform="translate(345.28,1720.7) scale(1.2885,1)" font-size="26.07" fill="#000" style="stroke:#000;stroke-width:0.3px;">700</text>
<text transform="translate(472.37,1720.7) scale(1.2982,1)" font-size="26.07" fill="#000" style="stroke:#000;stroke-width:0.3px;">750</text>
<text transform="translate(595.04,1720.7) scale(1.2894,1)" font-size="26.07" fill="#000" style="stroke:#000;stroke-width:0.3px;">800</text>
<text transform="translate(718.93,1720.7) scale(1.3000,1)" font-size="26.07" fill="#000" style="letter-spacing:0.45px;stroke:#000;stroke-width:0.3px;">850</text>
<text transform="translate(840.21,1720.7) scale(1.3000,1)" font-size="26.07" fill="#000" style="letter-spacing:0.26px;stroke:#000;stroke-width:0.3px;">900</text>
<text transform="translate(964.41,1720.7) scale(1.3000,1)" font-size="26.07" fill="#000" style="letter-spacing:0.14px;stroke:#000;stroke-width:0.3px;">950</text>
<text transform="translate(413.33,1766.9) scale(1.5078,1)" font-size="29.65" fill="#000" style="stroke:#000;stroke-width:0.3px;">Energy [keV]</text>
<text transform="translate(386.21,1304.6) scale(1.2579,1)" font-size="27.76" fill="#000" style="stroke:#000;stroke-width:1.0px;">775 keV</text>
<text transform="translate(629.53,1299.4) scale(1.3000,1)" font-size="25" fill="#000" style="letter-spacing:1.41px;stroke:#000;stroke-width:0.3px;">Double gate:</text>
<text transform="translate(935.16,1250.19) scale(1.0902,1)" font-size="44.97" fill="#000" style="stroke:#000;stroke-width:0.8px;">(</text>
<text transform="translate(956.99,1253.72) scale(1.2564,1)" font-size="48.92" fill="#000" style="stroke:#000;stroke-width:0.5px;">c</text>
<text transform="translate(993.71,1250.19) scale(1.0986,1)" font-size="44.97" fill="#000" style="stroke:#000;stroke-width:0.8px;">)</text>
<path d="M135 1272.6 L135 1206.8 L193.3 1206.8 L193.3 1272.6" fill="none" stroke="#00ff00" stroke-width="4.2" stroke-linejoin="miter"/>
<path d="M377.3 1272.6 L377.3 1206.8 L435.2 1206.8 L435.2 1272.6" fill="none" stroke="#00ff00" stroke-width="4.2" stroke-linejoin="miter"/>
<path d="M530.3 1272.6 L530.3 1206.8 L587.6 1206.8 L587.6 1272.6" fill="none" stroke="#0000ff" stroke-width="4.2" stroke-linejoin="miter"/>
<path d="M680 1272.6 L680 1206.8 L738.2 1206.8 L738.2 1272.6" fill="none" stroke="#00ff00" stroke-width="4.2" stroke-linejoin="miter"/>
<path d="M922.5 1272.6 L922.5 1206.8 L979.8 1206.8 L979.8 1272.6" fill="none" stroke="#00ff00" stroke-width="4.2" stroke-linejoin="miter"/>
<line x1="113.2" y1="1551.5" x2="1001.8" y2="1674.4" stroke="#ff0000" stroke-width="3" stroke-linecap="butt"/>
<path d="M113.2 1677.2 L380 1674.2 L500 1672.6 L660 1669.1 L720 1667.6 L880 1663.6 L960 1661.3 L1001.8 1660" fill="none" stroke="#00ffff" stroke-width="3.4" stroke-linejoin="round"/>
<line x1="156.8" y1="1555.9" x2="156.8" y2="1580" stroke="#000" stroke-width="1.6" stroke-linecap="butt"/>
<line x1="152.8" y1="1555.9" x2="160.8" y2="1555.9" stroke="#000" stroke-width="1.6" stroke-linecap="butt"/>
<line x1="152.8" y1="1580" x2="160.8" y2="1580" stroke="#000" stroke-width="1.6" stroke-linecap="butt"/>
<rect x="150.8" y="1563.1" width="12" height="9" fill="#0000ff"/>
<line x1="406" y1="1567.7" x2="406" y2="1590" stroke="#000" stroke-width="1.6" stroke-linecap="butt"/>
<line x1="402" y1="1567.7" x2="410" y2="1567.7" stroke="#000" stroke-width="1.6" stroke-linecap="butt"/>
<line x1="402" y1="1590" x2="410" y2="1590" stroke="#000" stroke-width="1.6" stroke-linecap="butt"/>
<rect x="400" y="1574.8" width="12" height="9" fill="#0000ff"/>
<line x1="711.7" y1="1615" x2="711.7" y2="1638.3" stroke="#000" stroke-width="1.6" stroke-linecap="butt"/>
<line x1="707.7" y1="1615" x2="715.7" y2="1615" stroke="#000" stroke-width="1.6" stroke-linecap="butt"/>
<line x1="707.7" y1="1638.3" x2="715.7" y2="1638.3" stroke="#000" stroke-width="1.6" stroke-linecap="butt"/>
<rect x="705.7" y="1622.8" width="12" height="9" fill="#0000ff"/>
<line x1="957.9" y1="1663.1" x2="957.9" y2="1686" stroke="#000" stroke-width="1.6" stroke-linecap="butt"/>
<line x1="953.9" y1="1663.1" x2="961.9" y2="1663.1" stroke="#000" stroke-width="1.6" stroke-linecap="butt"/>
<line x1="953.9" y1="1686" x2="961.9" y2="1686" stroke="#000" stroke-width="1.6" stroke-linecap="butt"/>
<rect x="951.9" y="1669.6" width="12" height="9" fill="#0000ff"/>
<line x1="559" y1="1520" x2="559" y2="1544.3" stroke="#000" stroke-width="1.6" stroke-linecap="butt"/>
<line x1="555" y1="1520" x2="563" y2="1520" stroke="#000" stroke-width="1.6" stroke-linecap="butt"/>
<line x1="555" y1="1544.3" x2="563" y2="1544.3" stroke="#000" stroke-width="1.6" stroke-linecap="butt"/>
<rect x="553" y="1528.2" width="12" height="9" fill="#00ff00"/>
<text transform="translate(135.17,1660.3) scale(1.3000,1)" font-size="31.25" fill="#00ffff" style="letter-spacing:0.84px;stroke:#00ffff;stroke-width:0.3px;">PRD curve</text>
<text transform="translate(629.57,1333.6) scale(1.1770,1)" font-size="25.15" fill="#000" style="stroke:#000;stroke-width:0.3px;">LaBr</text>
<text transform="translate(691.5,1338.6) scale(1.5240,1)" font-size="20.62" fill="#000" style="stroke:#000;stroke-width:0.3px;">3</text>
<text transform="translate(708.45,1333.6) scale(1.7399,1)" font-size="22.33" fill="#000" style="stroke:#000;stroke-width:0.3px;">:</text>
<text transform="translate(727.14,1333.6) scale(1.2421,1)" font-size="24.78" fill="#000" style="stroke:#000;stroke-width:0.3px;">6</text>
<text transform="translate(745.07,1326.93) scale(1.1395,1)" font-size="31.07" fill="#000" style="stroke:#000;stroke-width:0.3px;">+</text>
<text transform="translate(775.58,1335.11) scale(1.2783,1)" font-size="26.78" fill="#000" style="stroke:#000;stroke-width:0.3px;">-&gt;</text>
<text transform="translate(817.96,1333.6) scale(1.1128,1)" font-size="25.15" fill="#000" style="stroke:#000;stroke-width:0.3px;">4</text>
<text transform="translate(835.77,1326.93) scale(1.1395,1)" font-size="31.07" fill="#000" style="stroke:#000;stroke-width:0.3px;">+</text>
<text transform="translate(866.22,1332.43) scale(1.2371,1)" font-size="24.47" fill="#000" style="stroke:#000;stroke-width:0.3px;">(900 keV)</text>
<text transform="translate(630.9,1363.4) scale(1.0765,1)" font-size="25.78" fill="#000" style="stroke:#000;stroke-width:0.3px;">Ge:</text>
<text transform="translate(725.42,1363.4) scale(1.1127,1)" font-size="25.78" fill="#000" style="stroke:#000;stroke-width:0.3px;">10</text>
<text transform="translate(758.96,1357.32) scale(1.0455,1)" font-size="32.09" fill="#000" style="stroke:#000;stroke-width:0.3px;">+</text>
<text transform="translate(787.36,1365.11) scale(1.2103,1)" font-size="26.78" fill="#000" style="stroke:#000;stroke-width:0.3px;">-&gt;</text>
<text transform="translate(826.68,1363.4) scale(1.1739,1)" font-size="25.78" fill="#000" style="stroke:#000;stroke-width:0.3px;">8</text>
<text transform="translate(843.57,1357.32) scale(1.1032,1)" font-size="32.09" fill="#000" style="stroke:#000;stroke-width:0.3px;">+</text>
<text transform="translate(872.92,1362.38) scale(1.1381,1)" font-size="25.22" fill="#000" style="stroke:#000;stroke-width:0.3px;">(106 keV)</text>
<text transform="translate(577.93,1555.5) scale(1.2913,1)" font-size="32.99" fill="#00ff00" style="stroke:#00ff00;stroke-width:0.3px;">Δ</text>
<text transform="translate(605.66,1555.77) scale(1.1226,1)" font-size="34.04" fill="#00ff00" style="stroke:#00ff00;stroke-width:0.3px;">C</text>
<text transform="translate(633.15,1561.29) scale(1.3000,1)" font-size="21.73" fill="#00ff00" style="font-style:italic;letter-spacing:0.62px;stroke:#00ff00;stroke-width:0.3px;">exp</text>
<text transform="translate(760.2,1626.8) scale(1.2872,1)" font-size="33.87" fill="#ff0000" style="stroke:#ff0000;stroke-width:0.3px;">Δ</text>
<text transform="translate(787.72,1627.26) scale(1.1225,1)" font-size="34.75" fill="#ff0000" style="stroke:#ff0000;stroke-width:0.3px;">C</text>
<text transform="translate(816.03,1632.4) scale(1.4946,1)" font-size="21.25" fill="#ff0000" style="font-style:italic;stroke:#ff0000;stroke-width:0.3px;">f</text>
<text transform="translate(825.11,1613.31) scale(1.2928,1)" font-size="19.92" fill="#ff0000" style="font-style:italic;stroke:#ff0000;stroke-width:0.3px;">BG</text>
<text transform="translate(876.11,1626.55) scale(1.3000,1)" font-size="31.81" fill="#ff0000" style="letter-spacing:2.70px;stroke:#ff0000;stroke-width:0.3px;">fit</text>
<text transform="translate(361.28,669.3) scale(1.2199,1)" font-size="33.58" fill="#000" style="stroke:#000;stroke-width:1.0px;">Δ</text>
<text transform="translate(387.51,669.96) scale(1.1180,1)" font-size="35.03" fill="#000" style="stroke:#000;stroke-width:1.0px;">C</text>
<text transform="translate(415.49,673.41) scale(1.2225,1)" font-size="24.54" fill="#000" style="font-style:italic;stroke:#000;stroke-width:1.0px;">exp</text>
<text transform="translate(476.95,670.93) scale(1.5920,1)" font-size="34.13" fill="#000" style="stroke:#000;stroke-width:1.2px;">=</text>
<text transform="translate(523.27,669.97) scale(1.3000,1)" font-size="33.62" fill="#000" style="letter-spacing:0.57px;stroke:#000;stroke-width:1.0px;">16</text>
<text transform="translate(570.43,669.8) scale(1.3770,1)" font-size="33.87" fill="#000" style="stroke:#000;stroke-width:0.3px;">4</text>
<text transform="translate(609.71,667.32) scale(1.3000,1)" font-size="32.18" fill="#000" style="letter-spacing:1.67px;stroke:#000;stroke-width:0.3px;">(31) [ps]</text>
<path d="M117 95 L121.08 95 L121.08 192.92 L125.17 192.92 L125.17 217.4 L129.25 217.4 L129.25 209.24 L133.33 209.24 L133.33 152.12 L137.41 152.12 L137.41 209.24 L141.5 209.24 L141.5 217.4 L145.58 217.4 L145.58 250.04 L149.66 250.04 L149.66 225.56 L153.75 225.56 L153.75 152.12 L157.83 152.12 L157.83 225.56 L161.91 225.56 L161.91 209.24 L166 209.24 L166 233.72 L170.08 233.72 L170.08 274.52 L174.16 274.52 L174.16 225.56 L178.25 225.56 L178.25 192.92 L182.33 192.92 L182.33 184.76 L186.41 184.76 L186.41 241.88 L190.49 241.88 L190.49 250.04 L194.58 250.04 L194.58 299 L198.66 299 L198.66 233.72 L202.74 233.72 L202.74 209.24 L206.83 209.24 L206.83 217.4 L210.91 217.4 L210.91 192.92 L214.99 192.92 L214.99 201.08 L219.07 201.08 L219.07 241.88 L223.16 241.88 L223.16 250.04 L227.24 250.04 L227.24 282.68 L231.32 282.68 L231.32 201.08 L235.41 201.08 L235.41 266.36 L239.49 266.36 L239.49 266.36 L243.57 266.36 L243.57 168.44 L247.66 168.44 L247.66 241.88 L251.74 241.88 L251.74 201.08 L255.82 201.08 L255.82 258.2 L259.9 258.2 L259.9 282.68 L263.99 282.68 L263.99 241.88 L268.07 241.88 L268.07 282.68 L272.15 282.68 L272.15 241.88 L276.24 241.88 L276.24 241.88 L280.32 241.88 L280.32 241.88 L284.4 241.88 L284.4 241.88 L288.49 241.88 L288.49 225.56 L292.57 225.56 L292.57 241.88 L296.65 241.88 L296.65 274.52 L300.74 274.52 L300.74 250.04 L304.82 250.04 L304.82 192.92 L308.9 192.92 L308.9 160.28 L312.98 160.28 L312.98 168.44 L317.07 168.44 L317.07 201.08 L321.15 201.08 L321.15 233.72 L325.23 233.72 L325.23 266.36 L329.32 266.36 L329.32 250.04 L333.4 250.04 L333.4 241.88 L337.48 241.88 L337.48 184.76 L341.56 184.76 L341.56 258.2 L345.65 258.2 L345.65 258.2 L349.73 258.2 L349.73 209.24 L353.81 209.24 L353.81 241.88 L357.9 241.88 L357.9 168.44 L361.98 168.44 L361.98 290.84 L366.06 290.84 L366.06 209.24 L370.15 209.24 L370.15 258.2 L374.23 258.2 L374.23 307.16 L378.31 307.16 L378.31 290.84 L382.4 290.84 L382.4 250.04 L386.48 250.04 L386.48 241.88 L390.56 241.88 L390.56 274.52 L394.64 274.52 L394.64 241.88 L398.73 241.88 L398.73 258.2 L402.81 258.2 L402.81 250.04 L406.89 250.04 L406.89 225.56 L410.98 225.56 L410.98 217.4 L415.06 217.4 L415.06 250.04 L419.14 250.04 L419.14 274.52 L423.23 274.52 L423.23 266.36 L427.31 266.36 L427.31 274.52 L431.39 274.52 L431.39 274.52 L435.47 274.52 L435.47 274.52 L439.56 274.52 L439.56 250.04 L443.64 250.04 L443.64 266.36 L447.72 266.36 L447.72 209.24 L451.81 209.24 L451.81 274.52 L455.89 274.52 L455.89 225.56 L459.97 225.56 L459.97 184.76 L464.06 184.76 L464.06 217.4 L468.14 217.4 L468.14 225.56 L472.22 225.56 L472.22 209.24 L476.3 209.24 L476.3 217.4 L480.39 217.4 L480.39 184.76 L484.47 184.76 L484.47 201.08 L488.55 201.08 L488.55 209.24 L492.64 209.24 L492.64 176.6 L496.72 176.6 L496.72 217.4 L500.8 217.4 L500.8 135.8 L504.88 135.8 L504.88 135.8 L508.97 135.8 L508.97 176.6 L513.05 176.6 L513.05 135.8 L517.13 135.8 L517.13 176.6 L521.22 176.6 L521.22 127.64 L525.3 127.64 L525.3 95 L529.38 95 L529.38 160.28 L533.47 160.28 L533.47 135.8 L537.55 135.8 L537.55 209.24 L541.63 209.24 L541.63 160.28 L545.72 160.28 L545.72 143.96 L549.8 143.96 L549.8 168.44 L553.88 168.44 L553.88 152.12 L557.96 152.12 L557.96 103.16 L562.05 103.16 L562.05 176.6 L566.13 176.6 L566.13 176.6 L570.21 176.6 L570.21 103.16 L574.3 103.16 L574.3 103.16 L578.38 103.16 L578.38 103.16 L582.46 103.16 L582.46 86.84 L586.55 86.84 L586.55 152.12 L590.63 152.12 L590.63 192.92 L594.71 192.92 L594.71 192.92 L598.79 192.92 L598.79 217.4 L602.88 217.4 L602.88 192.92 L606.96 192.92 L606.96 176.6 L611.04 176.6 L611.04 209.24 L615.13 209.24 L615.13 233.72 L619.21 233.72 L619.21 176.6 L623.29 176.6 L623.29 192.92 L627.38 192.92 L627.38 209.24 L631.46 209.24 L631.46 241.88 L635.54 241.88 L635.54 233.72 L639.62 233.72 L639.62 266.36 L643.71 266.36 L643.71 209.24 L647.79 209.24 L647.79 233.72 L651.87 233.72 L651.87 217.4 L655.96 217.4 L655.96 209.24 L660.04 209.24 L660.04 258.2 L664.12 258.2 L664.12 250.04 L668.21 250.04 L668.21 299 L672.29 299 L672.29 258.2 L676.37 258.2 L676.37 266.36 L680.45 266.36 L680.45 250.04 L684.54 250.04 L684.54 250.04 L688.62 250.04 L688.62 201.08 L692.7 201.08 L692.7 274.52 L696.79 274.52 L696.79 241.88 L700.87 241.88 L700.87 241.88 L704.95 241.88 L704.95 258.2 L709.04 258.2 L709.04 274.52 L713.12 274.52 L713.12 282.68 L717.2 282.68 L717.2 282.68 L721.28 282.68 L721.28 282.68 L725.37 282.68 L725.37 299 L729.45 299 L729.45 299 L733.53 299 L733.53 290.84 L737.62 290.84 L737.62 266.36 L741.7 266.36 L741.7 282.68 L745.78 282.68 L745.78 266.36 L749.87 266.36 L749.87 290.84 L753.95 290.84 L753.95 274.52 L758.03 274.52 L758.03 266.36 L762.11 266.36 L762.11 233.72 L766.2 233.72 L766.2 290.84 L770.28 290.84 L770.28 241.88 L774.36 241.88 L774.36 274.52 L778.45 274.52 L778.45 323.48 L782.53 323.48 L782.53 282.68 L786.61 282.68 L786.61 250.04 L790.7 250.04 L790.7 307.16 L794.78 307.16 L794.78 315.32 L798.86 315.32 L798.86 282.68 L802.94 282.68 L802.94 258.2 L807.03 258.2 L807.03 282.68 L811.11 282.68 L811.11 274.52 L815.19 274.52 L815.19 266.36 L819.28 266.36 L819.28 307.16 L823.36 307.16 L823.36 241.88 L827.44 241.88 L827.44 258.2 L831.52 258.2 L831.52 274.52 L835.61 274.52 L835.61 266.36 L839.69 266.36 L839.69 274.52 L843.77 274.52 L843.77 290.84 L847.86 290.84 L847.86 290.84 L851.94 290.84 L851.94 258.2 L856.02 258.2 L856.02 290.84 L860.11 290.84 L860.11 266.36 L864.19 266.36 L864.19 274.52 L868.27 274.52 L868.27 266.36 L872.36 266.36 L872.36 266.36 L876.44 266.36 L876.44 307.16 L880.52 307.16 L880.52 315.32 L884.6 315.32 L884.6 315.32 L888.69 315.32 L888.69 315.32 L892.77 315.32 L892.77 307.16 L896.85 307.16 L896.85 250.04 L900.94 250.04 L900.94 299 L905.02 299 L905.02 299 L909.1 299 L909.1 290.84 L913.19 290.84 L913.19 282.68 L917.27 282.68 L917.27 274.52 L921.35 274.52 L921.35 266.36 L925.43 266.36 L925.43 315.32 L929.52 315.32 L929.52 282.68 L933.6 282.68 L933.6 282.68 L937.68 282.68 L937.68 299 L941.77 299 L941.77 299 L945.85 299 L945.85 266.36 L949.93 266.36 L949.93 315.32 L954.01 315.32 L954.01 315.32 L958.1 315.32 L958.1 299 L962.18 299 L962.18 307.16 L966.26 307.16 L966.26 331.64 L970.35 331.64 L970.35 282.68 L974.43 282.68 L974.43 282.68 L978.51 282.68 L978.51 299 L982.6 299 L982.6 323.48 L986.68 323.48 L986.68 274.52 L990.76 274.52 L990.76 315.32 L994.85 315.32 L994.85 290.84 L998.93 290.84 L998.93 299 L1003.01 299 L1003.01 250.04 L1007.09 250.04 L1007.09 307.16 L1011.18 307.16 L1011.18 282.68 L1015.26 282.68" fill="none" stroke="#000099" stroke-width="1.5" stroke-linejoin="miter"/>
<path d="M117 290.84 L121.08 290.84 L121.08 299 L125.17 299 L125.17 296.28 L129.25 296.28 L129.25 296.28 L133.33 296.28 L133.33 299 L137.41 299 L137.41 250.04 L141.5 250.04 L141.5 233.72 L145.58 233.72 L145.58 266.36 L149.66 266.36 L149.66 307.16 L153.75 307.16 L153.75 296.28 L157.83 296.28 L157.83 309.88 L161.91 309.88 L161.91 307.16 L166 307.16 L166 293.56 L170.08 293.56 L170.08 269.08 L174.16 269.08 L174.16 293.56 L178.25 293.56 L178.25 282.68 L182.33 282.68 L182.33 304.44 L186.41 304.44 L186.41 318.04 L190.49 318.04 L190.49 299 L194.58 299 L194.58 301.72 L198.66 301.72 L198.66 309.88 L202.74 309.88 L202.74 309.88 L206.83 309.88 L206.83 296.28 L210.91 296.28 L210.91 312.6 L214.99 312.6 L214.99 312.6 L219.07 312.6 L219.07 301.72 L223.16 301.72 L223.16 296.28 L227.24 296.28 L227.24 301.72 L231.32 301.72 L231.32 309.88 L235.41 309.88 L235.41 296.28 L239.49 296.28 L239.49 315.32 L243.57 315.32 L243.57 318.04 L247.66 318.04 L247.66 301.72 L251.74 301.72 L251.74 266.36 L255.82 266.36 L255.82 271.8 L259.9 271.8 L259.9 277.24 L263.99 277.24 L263.99 288.12 L268.07 288.12 L268.07 277.24 L272.15 277.24 L272.15 252.76 L276.24 252.76 L276.24 192.92 L280.32 192.92 L280.32 190.2 L284.4 190.2 L284.4 231 L288.49 231 L288.49 274.52 L292.57 274.52 L292.57 288.12 L296.65 288.12 L296.65 293.56 L300.74 293.56 L300.74 271.8 L304.82 271.8 L304.82 293.56 L308.9 293.56 L308.9 285.4 L312.98 285.4 L312.98 309.88 L317.07 309.88 L317.07 307.16 L321.15 307.16 L321.15 293.56 L325.23 293.56 L325.23 296.28 L329.32 296.28 L329.32 299 L333.4 299 L333.4 301.72 L337.48 301.72 L337.48 301.72 L341.56 301.72 L341.56 288.12 L345.65 288.12 L345.65 263.64 L349.73 263.64 L349.73 269.08 L353.81 269.08 L353.81 290.84 L357.9 290.84 L357.9 299 L361.98 299 L361.98 315.32 L366.06 315.32 L366.06 312.6 L370.15 312.6 L370.15 309.88 L374.23 309.88 L374.23 312.6 L378.31 312.6 L378.31 299 L382.4 299 L382.4 301.72 L386.48 301.72 L386.48 299 L390.56 299 L390.56 307.16 L394.64 307.16 L394.64 304.44 L398.73 304.44 L398.73 304.44 L402.81 304.44 L402.81 301.72 L406.89 301.72 L406.89 309.88 L410.98 309.88 L410.98 307.16 L415.06 307.16 L415.06 301.72 L419.14 301.72 L419.14 309.88 L423.23 309.88 L423.23 290.84 L427.31 290.84 L427.31 299 L431.39 299 L431.39 315.32 L435.47 315.32 L435.47 320.76 L439.56 320.76 L439.56 312.6 L443.64 312.6 L443.64 318.04 L447.72 318.04 L447.72 301.72 L451.81 301.72 L451.81 301.72 L455.89 301.72 L455.89 290.84 L459.97 290.84 L459.97 318.04 L464.06 318.04 L464.06 299 L468.14 299 L468.14 290.84 L472.22 290.84 L472.22 307.16 L476.3 307.16 L476.3 307.16 L480.39 307.16 L480.39 315.32 L484.47 315.32 L484.47 285.4 L488.55 285.4 L488.55 288.12 L492.64 288.12 L492.64 301.72 L496.72 301.72 L496.72 315.32 L500.8 315.32 L500.8 288.12 L504.88 288.12 L504.88 285.4 L508.97 285.4 L508.97 296.28 L513.05 296.28 L513.05 285.4 L517.13 285.4 L517.13 190.2 L521.22 190.2 L521.22 100.44 L525.3 100.44 L525.3 24.28 L529.38 24.28 L529.38 192.92 L533.47 192.92 L533.47 271.8 L537.55 271.8 L537.55 309.88 L541.63 309.88 L541.63 296.28 L545.72 296.28 L545.72 296.28 L549.8 296.28 L549.8 320.76 L553.88 320.76 L553.88 307.16 L557.96 307.16 L557.96 304.44 L562.05 304.44 L562.05 301.72 L566.13 301.72 L566.13 299 L570.21 299 L570.21 315.32 L574.3 315.32 L574.3 309.88 L578.38 309.88 L578.38 312.6 L582.46 312.6 L582.46 309.88 L586.55 309.88 L586.55 312.6 L590.63 312.6 L590.63 315.32 L594.71 315.32 L594.71 309.88 L598.79 309.88 L598.79 312.6 L602.88 312.6 L602.88 318.04 L606.96 318.04 L606.96 307.16 L611.04 307.16 L611.04 301.72 L615.13 301.72 L615.13 318.04 L619.21 318.04 L619.21 307.16 L623.29 307.16 L623.29 315.32 L627.38 315.32 L627.38 307.16 L631.46 307.16 L631.46 285.4 L635.54 285.4 L635.54 282.68 L639.62 282.68 L639.62 271.8 L643.71 271.8 L643.71 282.68 L647.79 282.68 L647.79 312.6 L651.87 312.6 L651.87 323.48 L655.96 323.48 L655.96 315.32 L660.04 315.32 L660.04 315.32 L664.12 315.32 L664.12 304.44 L668.21 304.44 L668.21 271.8 L672.29 271.8 L672.29 285.4 L676.37 285.4 L676.37 285.4 L680.45 285.4 L680.45 307.16 L684.54 307.16 L684.54 326.2 L688.62 326.2 L688.62 309.88 L692.7 309.88 L692.7 315.32 L696.79 315.32 L696.79 315.32 L700.87 315.32 L700.87 309.88 L704.95 309.88 L704.95 320.76 L709.04 320.76 L709.04 309.88 L713.12 309.88 L713.12 318.04 L717.2 318.04 L717.2 323.48 L721.28 323.48 L721.28 315.32 L725.37 315.32 L725.37 299 L729.45 299 L729.45 309.88 L733.53 309.88 L733.53 301.72 L737.62 301.72 L737.62 307.16 L741.7 307.16 L741.7 307.16 L745.78 307.16 L745.78 307.16 L749.87 307.16 L749.87 328.92 L753.95 328.92 L753.95 326.2 L758.03 326.2 L758.03 331.64 L762.11 331.64 L762.11 331.64 L766.2 331.64 L766.2 315.32 L770.28 315.32 L770.28 318.04 L774.36 318.04 L774.36 309.88 L778.45 309.88 L778.45 320.76 L782.53 320.76 L782.53 312.6 L786.61 312.6 L786.61 323.48 L790.7 323.48 L790.7 309.88 L794.78 309.88 L794.78 320.76 L798.86 320.76 L798.86 307.16 L802.94 307.16 L802.94 307.16 L807.03 307.16 L807.03 296.28 L811.11 296.28 L811.11 250.04 L815.19 250.04 L815.19 241.88 L819.28 241.88 L819.28 279.96 L823.36 279.96 L823.36 307.16 L827.44 307.16 L827.44 301.72 L831.52 301.72 L831.52 307.16 L835.61 307.16 L835.61 315.32 L839.69 315.32 L839.69 312.6 L843.77 312.6 L843.77 309.88 L847.86 309.88 L847.86 328.92 L851.94 328.92 L851.94 296.28 L856.02 296.28 L856.02 320.76 L860.11 320.76 L860.11 307.16 L864.19 307.16 L864.19 323.48 L868.27 323.48 L868.27 304.44 L872.36 304.44 L872.36 307.16 L876.44 307.16 L876.44 323.48 L880.52 323.48 L880.52 309.88 L884.6 309.88 L884.6 290.84 L888.69 290.84 L888.69 320.76 L892.77 320.76 L892.77 320.76 L896.85 320.76 L896.85 309.88 L900.94 309.88 L900.94 320.76 L905.02 320.76 L905.02 315.32 L909.1 315.32 L909.1 320.76 L913.19 320.76 L913.19 315.32 L917.27 315.32 L917.27 315.32 L921.35 315.32 L921.35 304.44 L925.43 304.44 L925.43 318.04 L929.52 318.04 L929.52 318.04 L933.6 318.04 L933.6 312.6 L937.68 312.6 L937.68 323.48 L941.77 323.48 L941.77 318.04 L945.85 318.04 L945.85 331.64 L949.93 331.64 L949.93 315.32 L954.01 315.32 L954.01 315.32 L958.1 315.32 L958.1 328.92 L962.18 328.92 L962.18 304.44 L966.26 304.44 L966.26 326.2 L970.35 326.2 L970.35 304.44 L974.43 304.44 L974.43 318.04 L978.51 318.04 L978.51 296.28 L982.6 296.28 L982.6 299 L986.68 299 L986.68 304.44 L990.76 304.44 L990.76 293.56 L994.85 293.56 L994.85 301.72 L998.93 301.72 L998.93 320.76 L1003.01 320.76 L1003.01 326.2 L1007.09 326.2 L1007.09 312.6 L1011.18 312.6 L1011.18 320.76 L1015.26 320.76" fill="none" stroke="#ff0000" stroke-width="1.5" stroke-linejoin="miter"/>
<defs><clipPath id="clL"><rect x="0" y="600" width="574" height="520"/></clipPath><clipPath id="clR"><rect x="574" y="600" width="446" height="520"/></clipPath></defs>
<g clip-path="url(#clL)">
<path d="M109 979.41 L128.96 979.41 L128.96 979.41 L148.92 979.41 L148.92 1037.3 L168.88 1037.3 L168.88 1037.3 L188.84 1037.3 L188.84 945.55 L208.8 945.55 L208.8 1037.3 L228.76 1037.3 L228.76 979.41 L248.72 979.41 L248.72 1037.3 L268.68 1037.3 L268.68 921.52 L288.64 921.52 L288.64 887.66 L308.6 887.66 L308.6 945.55 L328.56 945.55 L328.56 902.89 L348.52 902.89 L348.52 837.04 L368.48 837.04 L368.48 816.9 L388.44 816.9 L388.44 783.04 L408.4 783.04 L408.4 811.14 L428.36 811.14 L428.36 791.4 L448.32 791.4 L448.32 753.25 L468.28 753.25 L468.28 731.34 L488.24 731.34 L488.24 742.8 L508.2 742.8 L508.2 742.8 L528.16 742.8 L528.16 729.22 L548.12 729.22 L548.12 687.4 L568.08 687.4 L568.08 725.15 L588.04 725.15 L588.04 725.15 L608 725.15 L608 731.34 L627.96 731.34 L627.96 783.04 L647.92 783.04 L647.92 759.01 L667.88 759.01 L667.88 795.91 L687.84 795.91 L687.84 791.4 L707.8 791.4 L707.8 829.77 L727.76 829.77 L727.76 829.77 L747.72 829.77 L747.72 863.64 L767.68 863.64 L767.68 887.66 L787.64 887.66 L787.64 921.52 L807.6 921.52 L807.6 979.41 L827.56 979.41 L827.56 1037.3 L847.52 1037.3 L847.52 1095.5 L867.48 1095.5 L867.48 1095.5 L887.44 1095.5 L887.44 1095.5 L907.4 1095.5 L907.4 1037.3 L927.36 1037.3 L927.36 1037.3 L947.32 1037.3 L947.32 1037.3 L967.28 1037.3 L967.28 1095.5 L987.24 1095.5 L987.24 1095.5 L1007.2 1095.5" fill="none" stroke="#000099" stroke-width="2.4" stroke-linejoin="miter"/>
<path d="M109 1095.5 L128.96 1095.5 L128.96 1095.5 L148.92 1095.5 L148.92 1037.3 L168.88 1037.3 L168.88 1037.3 L188.84 1037.3 L188.84 1037.3 L208.8 1037.3 L208.8 1095.5 L228.76 1095.5 L228.76 1095.5 L248.72 1095.5 L248.72 1095.5 L268.68 1095.5 L268.68 1037.3 L288.64 1037.3 L288.64 979.41 L308.6 979.41 L308.6 921.52 L328.56 921.52 L328.56 887.66 L348.52 887.66 L348.52 863.64 L368.48 863.64 L368.48 829.77 L388.44 829.77 L388.44 829.77 L408.4 829.77 L408.4 791.4 L428.36 791.4 L428.36 795.91 L448.32 795.91 L448.32 759.01 L468.28 759.01 L468.28 783.04 L488.24 783.04 L488.24 731.34 L508.2 731.34 L508.2 725.15 L528.16 725.15 L528.16 725.15 L548.12 725.15 L548.12 687.4 L568.08 687.4 L568.08 729.22 L588.04 729.22 L588.04 742.8 L608 742.8 L608 742.8 L627.96 742.8 L627.96 731.34 L647.92 731.34 L647.92 753.25 L667.88 753.25 L667.88 791.4 L687.84 791.4 L687.84 811.14 L707.8 811.14 L707.8 783.04 L727.76 783.04 L727.76 816.9 L747.72 816.9 L747.72 837.04 L767.68 837.04 L767.68 902.89 L787.64 902.89 L787.64 945.55 L807.6 945.55 L807.6 887.66 L827.56 887.66 L827.56 921.52 L847.52 921.52 L847.52 1037.3 L867.48 1037.3 L867.48 979.41 L887.44 979.41 L887.44 1037.3 L907.4 1037.3 L907.4 945.55 L927.36 945.55 L927.36 1037.3 L947.32 1037.3 L947.32 1037.3 L967.28 1037.3 L967.28 979.41 L987.24 979.41 L987.24 979.41 L1007.2 979.41" fill="none" stroke="#ff0000" stroke-width="2.4" stroke-linejoin="miter"/>
</g><g clip-path="url(#clR)">
<path d="M109 979.41 L128.96 979.41 L128.96 979.41 L148.92 979.41 L148.92 1037.3 L168.88 1037.3 L168.88 1037.3 L188.84 1037.3 L188.84 945.55 L208.8 945.55 L208.8 1037.3 L228.76 1037.3 L228.76 979.41 L248.72 979.41 L248.72 1037.3 L268.68 1037.3 L268.68 921.52 L288.64 921.52 L288.64 887.66 L308.6 887.66 L308.6 945.55 L328.56 945.55 L328.56 902.89 L348.52 902.89 L348.52 837.04 L368.48 837.04 L368.48 816.9 L388.44 816.9 L388.44 783.04 L408.4 783.04 L408.4 811.14 L428.36 811.14 L428.36 791.4 L448.32 791.4 L448.32 753.25 L468.28 753.25 L468.28 731.34 L488.24 731.34 L488.24 742.8 L508.2 742.8 L508.2 742.8 L528.16 742.8 L528.16 729.22 L548.12 729.22 L548.12 687.4 L568.08 687.4 L568.08 725.15 L588.04 725.15 L588.04 725.15 L608 725.15 L608 731.34 L627.96 731.34 L627.96 783.04 L647.92 783.04 L647.92 759.01 L667.88 759.01 L667.88 795.91 L687.84 795.91 L687.84 791.4 L707.8 791.4 L707.8 829.77 L727.76 829.77 L727.76 829.77 L747.72 829.77 L747.72 863.64 L767.68 863.64 L767.68 887.66 L787.64 887.66 L787.64 921.52 L807.6 921.52 L807.6 979.41 L827.56 979.41 L827.56 1037.3 L847.52 1037.3 L847.52 1095.5 L867.48 1095.5 L867.48 1095.5 L887.44 1095.5 L887.44 1095.5 L907.4 1095.5 L907.4 1037.3 L927.36 1037.3 L927.36 1037.3 L947.32 1037.3 L947.32 1037.3 L967.28 1037.3 L967.28 1095.5 L987.24 1095.5 L987.24 1095.5 L1007.2 1095.5" fill="none" stroke="#000099" stroke-width="1.5" stroke-linejoin="miter"/>
<path d="M109 1095.5 L128.96 1095.5 L128.96 1095.5 L148.92 1095.5 L148.92 1037.3 L168.88 1037.3 L168.88 1037.3 L188.84 1037.3 L188.84 1037.3 L208.8 1037.3 L208.8 1095.5 L228.76 1095.5 L228.76 1095.5 L248.72 1095.5 L248.72 1095.5 L268.68 1095.5 L268.68 1037.3 L288.64 1037.3 L288.64 979.41 L308.6 979.41 L308.6 921.52 L328.56 921.52 L328.56 887.66 L348.52 887.66 L348.52 863.64 L368.48 863.64 L368.48 829.77 L388.44 829.77 L388.44 829.77 L408.4 829.77 L408.4 791.4 L428.36 791.4 L428.36 795.91 L448.32 795.91 L448.32 759.01 L468.28 759.01 L468.28 783.04 L488.24 783.04 L488.24 731.34 L508.2 731.34 L508.2 725.15 L528.16 725.15 L528.16 725.15 L548.12 725.15 L548.12 687.4 L568.08 687.4 L568.08 729.22 L588.04 729.22 L588.04 742.8 L608 742.8 L608 742.8 L627.96 742.8 L627.96 731.34 L647.92 731.34 L647.92 753.25 L667.88 753.25 L667.88 791.4 L687.84 791.4 L687.84 811.14 L707.8 811.14 L707.8 783.04 L727.76 783.04 L727.76 816.9 L747.72 816.9 L747.72 837.04 L767.68 837.04 L767.68 902.89 L787.64 902.89 L787.64 945.55 L807.6 945.55 L807.6 887.66 L827.56 887.66 L827.56 921.52 L847.52 921.52 L847.52 1037.3 L867.48 1037.3 L867.48 979.41 L887.44 979.41 L887.44 1037.3 L907.4 1037.3 L907.4 945.55 L927.36 945.55 L927.36 1037.3 L947.32 1037.3 L947.32 1037.3 L967.28 1037.3 L967.28 979.41 L987.24 979.41 L987.24 979.41 L1007.2 979.41" fill="none" stroke="#ff0000" stroke-width="1.5" stroke-linejoin="miter"/>
</g>
<line x1="1007.2" y1="979.41" x2="1007.2" y2="945.55" stroke="#ff0000" stroke-width="1.5" stroke-linecap="butt"/>
<g shape-rendering="crispEdges"><rect x="106.94" y="1448.41" width="8.47" height="2.00" fill="#000099"/><line x1="114.41" y1="1449.41" x2="114.41" y2="1454.12" stroke="#000099" stroke-width="2.0"/><rect x="113.41" y="1453.12" width="3.41" height="2.00" fill="#000099"/><line x1="115.82" y1="1454.12" x2="115.82" y2="1462.94" stroke="#000099" stroke-width="2.0"/><rect x="114.82" y="1461.94" width="4.71" height="2.00" fill="#000099"/><line x1="118.53" y1="1462.94" x2="118.53" y2="1428.82" stroke="#000099" stroke-width="2.0"/><rect x="117.53" y="1427.82" width="6.71" height="2.00" fill="#000099"/><line x1="123.24" y1="1428.82" x2="123.24" y2="1435.29" stroke="#000099" stroke-width="2.0"/><rect x="122.24" y="1434.29" width="4.00" height="2.00" fill="#000099"/><line x1="125.24" y1="1435.29" x2="125.24" y2="1435.29" stroke="#000099" stroke-width="2.0"/><rect x="124.24" y="1434.29" width="5.88" height="23.18" fill="#000099"/><line x1="129.12" y1="1435.29" x2="129.12" y2="1435.29" stroke="#000099" stroke-width="2.0"/><rect x="128.12" y="1381.35" width="4.71" height="56.12" fill="#000099"/><line x1="131.82" y1="1403.24" x2="131.82" y2="1403.24" stroke="#000099" stroke-width="2.0"/><rect x="130.82" y="1401.35" width="4.00" height="3.76" fill="#000099"/><line x1="133.82" y1="1404.12" x2="133.82" y2="1427.65" stroke="#000099" stroke-width="2.0"/><rect x="132.82" y="1426.65" width="4.94" height="24.94" fill="#000099"/><line x1="136.76" y1="1435.00" x2="136.76" y2="1435.00" stroke="#000099" stroke-width="2.0"/><rect x="135.76" y="1426.65" width="4.35" height="16.71" fill="#000099"/><line x1="139.12" y1="1427.65" x2="139.12" y2="1402.35" stroke="#000099" stroke-width="2.0"/><rect x="138.12" y="1401.35" width="4.35" height="2.00" fill="#000099"/><line x1="141.47" y1="1402.35" x2="141.47" y2="1402.35" stroke="#000099" stroke-width="2.0"/><rect x="140.47" y="1401.35" width="6.12" height="16.12" fill="#000099"/><line x1="145.59" y1="1416.47" x2="145.59" y2="1416.47" stroke="#000099" stroke-width="2.0"/><rect x="144.59" y="1415.47" width="5.53" height="2.00" fill="#000099"/><line x1="149.12" y1="1416.47" x2="149.12" y2="1442.35" stroke="#000099" stroke-width="2.0"/><rect x="148.12" y="1441.35" width="6.71" height="29.06" fill="#000099"/><line x1="153.82" y1="1442.35" x2="153.82" y2="1435.29" stroke="#000099" stroke-width="2.0"/><rect x="152.82" y="1434.29" width="4.94" height="2.00" fill="#000099"/><line x1="156.76" y1="1435.29" x2="156.76" y2="1430.59" stroke="#000099" stroke-width="2.0"/><rect x="155.76" y="1421.35" width="4.94" height="10.24" fill="#000099"/><line x1="159.71" y1="1422.35" x2="159.71" y2="1408.24" stroke="#000099" stroke-width="2.0"/><rect x="158.71" y="1407.24" width="4.94" height="2.00" fill="#000099"/><line x1="162.65" y1="1408.24" x2="162.65" y2="1435.29" stroke="#000099" stroke-width="2.0"/><rect x="161.65" y="1434.29" width="3.76" height="2.00" fill="#000099"/><line x1="164.41" y1="1435.29" x2="164.41" y2="1482.35" stroke="#000099" stroke-width="2.0"/><rect x="163.41" y="1481.35" width="4.94" height="2.00" fill="#000099"/><line x1="167.35" y1="1482.35" x2="167.35" y2="1442.35" stroke="#000099" stroke-width="2.0"/><rect x="166.35" y="1441.35" width="3.76" height="2.00" fill="#000099"/><line x1="169.12" y1="1442.35" x2="169.12" y2="1422.35" stroke="#000099" stroke-width="2.0"/><rect x="168.12" y="1421.35" width="5.53" height="2.00" fill="#000099"/><line x1="172.65" y1="1422.35" x2="172.65" y2="1449.41" stroke="#000099" stroke-width="2.0"/><rect x="171.65" y="1448.41" width="3.76" height="2.00" fill="#000099"/><line x1="174.41" y1="1449.41" x2="174.41" y2="1455.29" stroke="#000099" stroke-width="2.0"/><rect x="173.41" y="1454.29" width="4.35" height="2.00" fill="#000099"/><line x1="176.76" y1="1455.29" x2="176.76" y2="1449.41" stroke="#000099" stroke-width="2.0"/><rect x="175.76" y="1448.41" width="3.76" height="2.00" fill="#000099"/><line x1="178.53" y1="1449.41" x2="178.53" y2="1442.35" stroke="#000099" stroke-width="2.0"/><rect x="177.53" y="1407.24" width="6.12" height="36.12" fill="#000099"/><line x1="182.65" y1="1408.24" x2="182.65" y2="1408.24" stroke="#000099" stroke-width="2.0"/><rect x="181.65" y="1359.00" width="6.12" height="50.24" fill="#000099"/><line x1="186.76" y1="1406.47" x2="186.76" y2="1406.47" stroke="#000099" stroke-width="2.0"/><rect x="185.76" y="1401.35" width="7.29" height="10.24" fill="#000099"/><line x1="192.06" y1="1410.59" x2="192.06" y2="1435.29" stroke="#000099" stroke-width="2.0"/><rect x="191.06" y="1434.29" width="4.94" height="17.29" fill="#000099"/><line x1="195.00" y1="1435.29" x2="195.00" y2="1428.24" stroke="#000099" stroke-width="2.0"/><rect x="194.00" y="1427.24" width="4.94" height="2.00" fill="#000099"/><line x1="197.94" y1="1428.24" x2="197.94" y2="1422.35" stroke="#000099" stroke-width="2.0"/><rect x="196.94" y="1421.35" width="4.35" height="2.00" fill="#000099"/><line x1="200.29" y1="1422.35" x2="200.29" y2="1422.35" stroke="#000099" stroke-width="2.0"/><rect x="199.29" y="1414.29" width="6.71" height="29.06" fill="#000099"/><line x1="205.00" y1="1435.88" x2="205.00" y2="1435.88" stroke="#000099" stroke-width="2.0"/><rect x="204.00" y="1407.24" width="5.53" height="57.29" fill="#000099"/><line x1="208.53" y1="1420.59" x2="208.53" y2="1420.59" stroke="#000099" stroke-width="2.0"/><rect x="207.53" y="1414.29" width="4.94" height="12.59" fill="#000099"/><line x1="211.47" y1="1415.29" x2="211.47" y2="1415.29" stroke="#000099" stroke-width="2.0"/><rect x="210.47" y="1401.35" width="6.12" height="16.12" fill="#000099"/><line x1="215.59" y1="1416.47" x2="215.59" y2="1422.35" stroke="#000099" stroke-width="2.0"/><rect x="214.59" y="1421.35" width="4.94" height="2.00" fill="#000099"/><line x1="218.53" y1="1422.35" x2="218.53" y2="1435.29" stroke="#000099" stroke-width="2.0"/><rect x="217.53" y="1434.29" width="4.35" height="17.29" fill="#000099"/><line x1="220.88" y1="1442.35" x2="220.88" y2="1442.35" stroke="#000099" stroke-width="2.0"/><rect x="219.88" y="1441.35" width="4.35" height="2.00" fill="#000099"/><line x1="223.24" y1="1442.35" x2="223.24" y2="1436.47" stroke="#000099" stroke-width="2.0"/><rect x="222.24" y="1414.29" width="3.76" height="23.18" fill="#000099"/><line x1="227.00" y1="1429.12" x2="227.00" y2="1429.12" stroke="#000099" stroke-width="2.0"/><rect x="226.00" y="1414.29" width="3.53" height="29.65" fill="#000099"/><line x1="228.53" y1="1429.41" x2="228.53" y2="1429.41" stroke="#000099" stroke-width="2.0"/><rect x="227.53" y="1414.29" width="6.71" height="30.24" fill="#000099"/><line x1="233.24" y1="1422.65" x2="233.24" y2="1422.65" stroke="#000099" stroke-width="2.0"/><rect x="232.24" y="1407.24" width="6.71" height="30.82" fill="#000099"/><line x1="237.94" y1="1416.18" x2="237.94" y2="1416.18" stroke="#000099" stroke-width="2.0"/><rect x="236.94" y="1394.29" width="6.71" height="43.76" fill="#000099"/><line x1="242.65" y1="1437.06" x2="242.65" y2="1437.06" stroke="#000099" stroke-width="2.0"/><rect x="241.65" y="1420.76" width="4.94" height="43.76" fill="#000099"/><line x1="245.59" y1="1421.76" x2="245.59" y2="1421.76" stroke="#000099" stroke-width="2.0"/><rect x="244.59" y="1401.35" width="6.12" height="24.94" fill="#000099"/><line x1="249.71" y1="1425.29" x2="249.71" y2="1461.18" stroke="#000099" stroke-width="2.0"/><rect x="248.71" y="1460.18" width="7.29" height="30.24" fill="#000099"/><line x1="255.00" y1="1461.18" x2="255.00" y2="1461.18" stroke="#000099" stroke-width="2.0"/><rect x="254.00" y="1427.24" width="7.29" height="43.18" fill="#000099"/><line x1="260.29" y1="1432.65" x2="260.29" y2="1432.65" stroke="#000099" stroke-width="2.0"/><rect x="259.29" y="1414.29" width="6.71" height="36.71" fill="#000099"/><line x1="265.00" y1="1450.00" x2="265.00" y2="1450.00" stroke="#000099" stroke-width="2.0"/><rect x="264.00" y="1449.00" width="6.12" height="8.47" fill="#000099"/><line x1="269.12" y1="1450.00" x2="269.12" y2="1431.18" stroke="#000099" stroke-width="2.0"/><rect x="268.12" y="1427.24" width="4.94" height="4.94" fill="#000099"/><line x1="272.06" y1="1428.24" x2="272.06" y2="1422.35" stroke="#000099" stroke-width="2.0"/><rect x="271.06" y="1421.35" width="7.29" height="2.00" fill="#000099"/><line x1="277.35" y1="1422.35" x2="277.35" y2="1422.35" stroke="#000099" stroke-width="2.0"/><rect x="276.35" y="1401.35" width="6.71" height="63.18" fill="#000099"/><line x1="282.06" y1="1439.41" x2="282.06" y2="1439.41" stroke="#000099" stroke-width="2.0"/><rect x="281.06" y="1414.29" width="3.76" height="50.24" fill="#000099"/><line x1="283.82" y1="1415.88" x2="283.82" y2="1415.88" stroke="#000099" stroke-width="2.0"/><rect x="282.82" y="1414.88" width="6.71" height="2.00" fill="#000099"/><line x1="288.53" y1="1415.88" x2="288.53" y2="1423.53" stroke="#000099" stroke-width="2.0"/><rect x="287.53" y="1422.53" width="4.35" height="2.00" fill="#000099"/><line x1="290.88" y1="1423.53" x2="290.88" y2="1423.53" stroke="#000099" stroke-width="2.0"/><rect x="289.88" y="1414.29" width="5.53" height="17.88" fill="#000099"/><line x1="294.41" y1="1425.88" x2="294.41" y2="1425.88" stroke="#000099" stroke-width="2.0"/><rect x="293.41" y="1414.29" width="7.88" height="23.18" fill="#000099"/><line x1="300.29" y1="1415.29" x2="300.29" y2="1415.29" stroke="#000099" stroke-width="2.0"/><rect x="299.29" y="1394.29" width="6.12" height="23.76" fill="#000099"/><line x1="304.41" y1="1417.06" x2="304.41" y2="1417.06" stroke="#000099" stroke-width="2.0"/><rect x="303.41" y="1416.06" width="6.71" height="28.47" fill="#000099"/><line x1="309.12" y1="1417.94" x2="309.12" y2="1417.94" stroke="#000099" stroke-width="2.0"/><rect x="308.12" y="1407.24" width="4.94" height="21.41" fill="#000099"/><line x1="312.06" y1="1408.24" x2="312.06" y2="1408.24" stroke="#000099" stroke-width="2.0"/><rect x="311.06" y="1367.82" width="4.94" height="77.29" fill="#000099"/><line x1="315.00" y1="1444.12" x2="315.00" y2="1444.12" stroke="#000099" stroke-width="2.0"/><rect x="314.00" y="1440.76" width="6.12" height="10.82" fill="#000099"/><line x1="319.12" y1="1441.76" x2="319.12" y2="1402.35" stroke="#000099" stroke-width="2.0"/><rect x="318.12" y="1401.35" width="5.53" height="2.00" fill="#000099"/><line x1="322.65" y1="1402.35" x2="322.65" y2="1402.35" stroke="#000099" stroke-width="2.0"/><rect x="321.65" y="1401.35" width="4.35" height="43.18" fill="#000099"/><line x1="325.00" y1="1402.35" x2="325.00" y2="1382.35" stroke="#000099" stroke-width="2.0"/><rect x="324.00" y="1381.35" width="4.35" height="2.00" fill="#000099"/><line x1="327.35" y1="1382.35" x2="327.35" y2="1402.35" stroke="#000099" stroke-width="2.0"/><rect x="326.35" y="1401.35" width="3.76" height="2.00" fill="#000099"/><line x1="329.12" y1="1402.35" x2="329.12" y2="1476.47" stroke="#000099" stroke-width="2.0"/><rect x="328.12" y="1475.47" width="4.35" height="2.00" fill="#000099"/><line x1="331.47" y1="1476.47" x2="331.47" y2="1469.41" stroke="#000099" stroke-width="2.0"/><rect x="330.47" y="1427.24" width="5.53" height="43.18" fill="#000099"/><line x1="335.00" y1="1456.47" x2="335.00" y2="1456.47" stroke="#000099" stroke-width="2.0"/><rect x="334.00" y="1455.47" width="4.35" height="2.00" fill="#000099"/><line x1="337.35" y1="1456.47" x2="337.35" y2="1428.24" stroke="#000099" stroke-width="2.0"/><rect x="336.35" y="1427.24" width="6.71" height="2.00" fill="#000099"/><line x1="342.06" y1="1428.24" x2="342.06" y2="1428.24" stroke="#000099" stroke-width="2.0"/><rect x="341.06" y="1427.24" width="4.94" height="50.24" fill="#000099"/><line x1="345.00" y1="1452.35" x2="345.00" y2="1452.35" stroke="#000099" stroke-width="2.0"/><rect x="344.00" y="1427.24" width="4.12" height="50.24" fill="#000099"/><line x1="347.12" y1="1428.24" x2="347.12" y2="1428.24" stroke="#000099" stroke-width="2.0"/><rect x="346.12" y="1427.24" width="6.12" height="2.00" fill="#000099"/><line x1="351.24" y1="1428.24" x2="351.24" y2="1455.29" stroke="#000099" stroke-width="2.0"/><rect x="350.24" y="1454.29" width="5.53" height="16.71" fill="#000099"/><line x1="354.76" y1="1468.53" x2="354.76" y2="1468.53" stroke="#000099" stroke-width="2.0"/><rect x="353.76" y="1459.59" width="6.12" height="17.88" fill="#000099"/><line x1="358.88" y1="1462.35" x2="358.88" y2="1462.35" stroke="#000099" stroke-width="2.0"/><rect x="357.88" y="1460.18" width="5.53" height="4.35" fill="#000099"/><line x1="362.41" y1="1461.18" x2="362.41" y2="1455.29" stroke="#000099" stroke-width="2.0"/><rect x="361.41" y="1454.29" width="4.35" height="2.00" fill="#000099"/><line x1="364.76" y1="1455.29" x2="364.76" y2="1448.24" stroke="#000099" stroke-width="2.0"/><rect x="363.76" y="1447.24" width="4.94" height="2.00" fill="#000099"/><line x1="367.71" y1="1448.24" x2="367.71" y2="1442.35" stroke="#000099" stroke-width="2.0"/><rect x="366.71" y="1441.35" width="4.35" height="2.00" fill="#000099"/><line x1="370.06" y1="1442.35" x2="370.06" y2="1435.29" stroke="#000099" stroke-width="2.0"/><rect x="369.06" y="1434.29" width="5.53" height="2.00" fill="#000099"/><line x1="373.59" y1="1435.29" x2="373.59" y2="1469.41" stroke="#000099" stroke-width="2.0"/><rect x="372.59" y="1468.41" width="5.53" height="9.06" fill="#000099"/><line x1="377.12" y1="1469.41" x2="377.12" y2="1469.41" stroke="#000099" stroke-width="2.0"/><rect x="376.12" y="1427.24" width="6.12" height="43.76" fill="#000099"/><line x1="381.24" y1="1468.82" x2="381.24" y2="1468.82" stroke="#000099" stroke-width="2.0"/><rect x="380.24" y="1460.18" width="4.35" height="17.29" fill="#000099"/><line x1="383.59" y1="1461.18" x2="383.59" y2="1461.18" stroke="#000099" stroke-width="2.0"/><rect x="382.59" y="1434.29" width="6.12" height="43.18" fill="#000099"/><line x1="387.71" y1="1468.24" x2="387.71" y2="1468.24" stroke="#000099" stroke-width="2.0"/><rect x="386.71" y="1467.24" width="5.53" height="2.00" fill="#000099"/><line x1="391.24" y1="1468.24" x2="391.24" y2="1468.24" stroke="#000099" stroke-width="2.0"/><rect x="390.24" y="1421.35" width="6.71" height="56.12" fill="#000099"/><line x1="395.94" y1="1465.88" x2="395.94" y2="1465.88" stroke="#000099" stroke-width="2.0"/><rect x="394.94" y="1454.29" width="6.71" height="23.18" fill="#000099"/><line x1="400.65" y1="1476.47" x2="400.65" y2="1476.47" stroke="#000099" stroke-width="2.0"/><rect x="399.65" y="1459.59" width="4.35" height="44.35" fill="#000099"/><line x1="403.00" y1="1460.59" x2="403.00" y2="1460.59" stroke="#000099" stroke-width="2.0"/><rect x="402.00" y="1459.59" width="4.35" height="2.00" fill="#000099"/><line x1="405.35" y1="1460.59" x2="405.35" y2="1460.59" stroke="#000099" stroke-width="2.0"/><rect x="404.35" y="1454.29" width="6.12" height="14.94" fill="#000099"/><line x1="409.47" y1="1468.24" x2="409.47" y2="1468.24" stroke="#000099" stroke-width="2.0"/><rect x="408.47" y="1467.24" width="6.12" height="10.24" fill="#000099"/><line x1="413.59" y1="1468.24" x2="413.59" y2="1468.24" stroke="#000099" stroke-width="2.0"/><rect x="412.59" y="1427.24" width="5.53" height="42.00" fill="#000099"/><line x1="417.12" y1="1468.24" x2="417.12" y2="1468.24" stroke="#000099" stroke-width="2.0"/><rect x="416.12" y="1467.24" width="4.94" height="2.00" fill="#000099"/><line x1="420.06" y1="1468.24" x2="420.06" y2="1468.24" stroke="#000099" stroke-width="2.0"/><rect x="419.06" y="1460.18" width="5.53" height="23.18" fill="#000099"/><line x1="423.59" y1="1479.12" x2="423.59" y2="1479.12" stroke="#000099" stroke-width="2.0"/><rect x="422.59" y="1474.88" width="3.76" height="8.47" fill="#000099"/><line x1="425.35" y1="1475.88" x2="425.35" y2="1475.29" stroke="#000099" stroke-width="2.0"/><rect x="424.35" y="1474.29" width="4.35" height="2.00" fill="#000099"/><line x1="427.71" y1="1475.29" x2="427.71" y2="1448.82" stroke="#000099" stroke-width="2.0"/><rect x="426.71" y="1447.82" width="5.53" height="2.00" fill="#000099"/><line x1="431.24" y1="1448.82" x2="431.24" y2="1455.29" stroke="#000099" stroke-width="2.0"/><rect x="430.24" y="1454.29" width="4.94" height="3.18" fill="#000099"/><line x1="434.18" y1="1456.47" x2="434.18" y2="1456.47" stroke="#000099" stroke-width="2.0"/><rect x="433.18" y="1454.29" width="4.94" height="10.24" fill="#000099"/><line x1="437.12" y1="1463.53" x2="437.12" y2="1463.53" stroke="#000099" stroke-width="2.0"/><rect x="436.12" y="1460.18" width="4.35" height="10.24" fill="#000099"/><line x1="439.47" y1="1461.18" x2="439.47" y2="1448.24" stroke="#000099" stroke-width="2.0"/><rect x="438.47" y="1447.24" width="4.94" height="2.00" fill="#000099"/><line x1="442.41" y1="1448.24" x2="442.41" y2="1435.29" stroke="#000099" stroke-width="2.0"/><rect x="441.41" y="1434.29" width="3.76" height="2.00" fill="#000099"/><line x1="444.18" y1="1435.29" x2="444.18" y2="1435.29" stroke="#000099" stroke-width="2.0"/><rect x="443.18" y="1401.35" width="6.71" height="47.29" fill="#000099"/><line x1="448.88" y1="1447.65" x2="448.88" y2="1448.24" stroke="#000099" stroke-width="2.0"/><rect x="447.88" y="1447.24" width="3.76" height="2.00" fill="#000099"/><line x1="450.65" y1="1448.24" x2="450.65" y2="1468.24" stroke="#000099" stroke-width="2.0"/><rect x="449.65" y="1467.24" width="4.94" height="2.00" fill="#000099"/><line x1="453.59" y1="1468.24" x2="453.59" y2="1468.24" stroke="#000099" stroke-width="2.0"/><rect x="452.59" y="1467.24" width="4.35" height="36.71" fill="#000099"/><line x1="455.94" y1="1468.24" x2="455.94" y2="1468.24" stroke="#000099" stroke-width="2.0"/><rect x="454.94" y="1467.24" width="5.53" height="2.00" fill="#000099"/><line x1="459.47" y1="1468.24" x2="459.47" y2="1448.82" stroke="#000099" stroke-width="2.0"/><rect x="458.47" y="1447.82" width="5.53" height="2.00" fill="#000099"/><line x1="462.99" y1="1448.82" x2="462.99" y2="1449.00" stroke="#000099" stroke-width="2.0"/><rect x="461.99" y="1448.00" width="3.39" height="2.00" fill="#000099"/><line x1="464.38" y1="1449.00" x2="464.38" y2="1449.85" stroke="#000099" stroke-width="2.0"/><rect x="463.38" y="1448.85" width="6.23" height="15.52" fill="#000099"/><line x1="468.61" y1="1449.85" x2="468.61" y2="1435.48" stroke="#000099" stroke-width="2.0"/><rect x="467.61" y="1434.48" width="7.07" height="2.00" fill="#000099"/><line x1="473.68" y1="1435.48" x2="473.68" y2="1442.24" stroke="#000099" stroke-width="2.0"/><rect x="472.68" y="1441.24" width="7.07" height="2.00" fill="#000099"/><line x1="478.75" y1="1442.24" x2="478.75" y2="1449.85" stroke="#000099" stroke-width="2.0"/><rect x="477.75" y="1448.85" width="5.38" height="2.00" fill="#000099"/><line x1="482.13" y1="1449.85" x2="482.13" y2="1416.05" stroke="#000099" stroke-width="2.0"/><rect x="481.13" y="1415.05" width="6.23" height="2.00" fill="#000099"/><line x1="486.35" y1="1416.05" x2="486.35" y2="1416.05" stroke="#000099" stroke-width="2.0"/><rect x="485.35" y="1394.76" width="7.92" height="42.56" fill="#000099"/><line x1="492.27" y1="1421.96" x2="492.27" y2="1421.96" stroke="#000099" stroke-width="2.0"/><rect x="491.27" y="1420.96" width="5.38" height="2.00" fill="#000099"/><line x1="495.65" y1="1421.96" x2="495.65" y2="1446.47" stroke="#000099" stroke-width="2.0"/><rect x="494.65" y="1445.47" width="7.07" height="12.14" fill="#000099"/><line x1="500.72" y1="1446.47" x2="500.72" y2="1443.09" stroke="#000099" stroke-width="2.0"/><rect x="499.72" y="1434.48" width="7.92" height="9.61" fill="#000099"/><line x1="506.63" y1="1435.48" x2="506.63" y2="1402.52" stroke="#000099" stroke-width="2.0"/><rect x="505.63" y="1387.16" width="7.92" height="16.37" fill="#000099"/><line x1="512.55" y1="1388.16" x2="512.55" y2="1388.16" stroke="#000099" stroke-width="2.0"/><rect x="511.55" y="1355.05" width="5.38" height="48.48" fill="#000099"/><line x1="515.93" y1="1402.52" x2="515.93" y2="1402.52" stroke="#000099" stroke-width="2.0"/><rect x="514.93" y="1388.00" width="5.38" height="43.41" fill="#000099"/><line x1="519.31" y1="1389.00" x2="519.31" y2="1349.29" stroke="#000099" stroke-width="2.0"/><rect x="518.31" y="1348.29" width="4.54" height="2.00" fill="#000099"/><line x1="521.84" y1="1349.29" x2="521.84" y2="1349.29" stroke="#000099" stroke-width="2.0"/><rect x="520.84" y="1348.29" width="6.23" height="17.21" fill="#000099"/><line x1="526.07" y1="1349.29" x2="526.07" y2="1349.29" stroke="#000099" stroke-width="2.0"/><rect x="525.07" y="1348.29" width="3.69" height="2.00" fill="#000099"/><line x1="527.76" y1="1349.29" x2="527.76" y2="1349.29" stroke="#000099" stroke-width="2.0"/><rect x="526.76" y="1274.77" width="5.38" height="76.36" fill="#000099"/><line x1="531.14" y1="1336.61" x2="531.14" y2="1336.61" stroke="#000099" stroke-width="2.0"/><rect x="530.14" y="1335.61" width="4.54" height="2.00" fill="#000099"/><line x1="533.67" y1="1336.61" x2="533.67" y2="1355.20" stroke="#000099" stroke-width="2.0"/><rect x="532.67" y="1354.20" width="4.54" height="17.21" fill="#000099"/><line x1="536.21" y1="1355.20" x2="536.21" y2="1344.22" stroke="#000099" stroke-width="2.0"/><rect x="535.21" y="1343.22" width="5.38" height="2.00" fill="#000099"/><line x1="539.59" y1="1344.22" x2="539.59" y2="1322.25" stroke="#000099" stroke-width="2.0"/><rect x="538.59" y="1321.25" width="6.23" height="2.00" fill="#000099"/><line x1="543.81" y1="1322.25" x2="543.81" y2="1322.25" stroke="#000099" stroke-width="2.0"/><rect x="542.81" y="1315.33" width="6.23" height="8.76" fill="#000099"/><line x1="548.04" y1="1323.09" x2="548.04" y2="1323.09" stroke="#000099" stroke-width="2.0"/><rect x="547.04" y="1302.66" width="7.07" height="42.56" fill="#000099"/><line x1="553.11" y1="1326.90" x2="553.11" y2="1326.90" stroke="#000099" stroke-width="2.0"/><rect x="552.11" y="1308.57" width="7.07" height="36.65" fill="#000099"/><line x1="558.18" y1="1326.90" x2="558.18" y2="1326.90" stroke="#000099" stroke-width="2.0"/><rect x="557.18" y="1315.33" width="6.23" height="23.13" fill="#000099"/><line x1="562.40" y1="1316.33" x2="562.40" y2="1316.33" stroke="#000099" stroke-width="2.0"/><rect x="561.40" y="1268.86" width="7.07" height="49.32" fill="#000099"/><line x1="567.47" y1="1290.98" x2="567.47" y2="1290.98" stroke="#000099" stroke-width="2.0"/><rect x="566.47" y="1289.98" width="4.54" height="2.00" fill="#000099"/><line x1="570.01" y1="1290.98" x2="570.01" y2="1263.94" stroke="#000099" stroke-width="2.0"/><rect x="569.01" y="1262.94" width="6.23" height="2.00" fill="#000099"/><line x1="574.23" y1="1263.94" x2="574.23" y2="1363.65" stroke="#000099" stroke-width="2.0"/><rect x="573.23" y="1362.65" width="5.38" height="2.00" fill="#000099"/><line x1="577.61" y1="1363.65" x2="577.61" y2="1336.61" stroke="#000099" stroke-width="2.0"/><rect x="576.61" y="1322.94" width="5.38" height="14.68" fill="#000099"/></g>
<g shape-rendering="crispEdges"><rect x="580.20" y="1335.96" width="3.65" height="1.60" fill="#000099"/><line x1="583.05" y1="1336.76" x2="583.05" y2="1402.97" stroke="#000099" stroke-width="1.6"/><rect x="582.25" y="1402.17" width="4.03" height="1.60" fill="#000099"/><line x1="585.49" y1="1402.97" x2="585.49" y2="1349.59" stroke="#000099" stroke-width="1.6"/><rect x="584.69" y="1348.79" width="4.57" height="1.60" fill="#000099"/><line x1="588.46" y1="1349.59" x2="588.46" y2="1383.38" stroke="#000099" stroke-width="1.6"/><rect x="587.66" y="1382.58" width="4.03" height="1.60" fill="#000099"/><line x1="590.89" y1="1383.38" x2="590.89" y2="1283.78" stroke="#000099" stroke-width="1.6"/><rect x="590.09" y="1282.98" width="3.90" height="1.60" fill="#000099"/><line x1="593.19" y1="1283.78" x2="593.19" y2="1376.62" stroke="#000099" stroke-width="1.6"/><rect x="592.39" y="1375.82" width="4.30" height="1.60" fill="#000099"/><line x1="595.89" y1="1376.62" x2="595.89" y2="1369.86" stroke="#000099" stroke-width="1.6"/><rect x="595.09" y="1369.06" width="3.63" height="1.60" fill="#000099"/><line x1="597.92" y1="1369.86" x2="597.92" y2="1369.86" stroke="#000099" stroke-width="1.6"/><rect x="597.12" y="1369.06" width="4.30" height="47.55" fill="#000099"/><line x1="600.62" y1="1369.86" x2="600.62" y2="1369.86" stroke="#000099" stroke-width="1.6"/><rect x="599.82" y="1369.06" width="4.03" height="1.60" fill="#000099"/><line x1="603.05" y1="1369.86" x2="603.05" y2="1422.57" stroke="#000099" stroke-width="1.6"/><rect x="602.25" y="1421.77" width="3.49" height="1.60" fill="#000099"/><line x1="604.95" y1="1422.57" x2="604.95" y2="1409.05" stroke="#000099" stroke-width="1.6"/><rect x="604.15" y="1408.25" width="4.03" height="1.60" fill="#000099"/><line x1="607.38" y1="1409.05" x2="607.38" y2="1415.14" stroke="#000099" stroke-width="1.6"/><rect x="606.58" y="1414.34" width="4.03" height="1.60" fill="#000099"/><line x1="609.81" y1="1415.14" x2="609.81" y2="1429.32" stroke="#000099" stroke-width="1.6"/><rect x="609.01" y="1428.52" width="4.57" height="1.60" fill="#000099"/><line x1="612.78" y1="1429.32" x2="612.78" y2="1382.70" stroke="#000099" stroke-width="1.6"/><rect x="611.98" y="1381.90" width="4.03" height="1.60" fill="#000099"/><line x1="615.22" y1="1382.70" x2="615.22" y2="1409.05" stroke="#000099" stroke-width="1.6"/><rect x="614.42" y="1408.25" width="3.90" height="1.60" fill="#000099"/><line x1="617.51" y1="1409.05" x2="617.51" y2="1448.92" stroke="#000099" stroke-width="1.6"/><rect x="616.71" y="1448.12" width="3.63" height="1.60" fill="#000099"/><line x1="619.54" y1="1448.92" x2="619.54" y2="1455.68" stroke="#000099" stroke-width="1.6"/><rect x="618.74" y="1454.88" width="4.03" height="1.60" fill="#000099"/><line x1="621.97" y1="1455.68" x2="621.97" y2="1415.81" stroke="#000099" stroke-width="1.6"/><rect x="621.17" y="1415.01" width="3.90" height="1.60" fill="#000099"/><line x1="624.27" y1="1415.81" x2="624.27" y2="1422.57" stroke="#000099" stroke-width="1.6"/><rect x="623.47" y="1421.77" width="7.01" height="1.60" fill="#000099"/><line x1="629.68" y1="1422.57" x2="629.68" y2="1409.05" stroke="#000099" stroke-width="1.6"/><rect x="628.88" y="1408.25" width="3.63" height="1.60" fill="#000099"/><line x1="631.70" y1="1409.05" x2="631.70" y2="1448.92" stroke="#000099" stroke-width="1.6"/><rect x="630.90" y="1448.12" width="6.74" height="1.60" fill="#000099"/><line x1="636.84" y1="1448.92" x2="636.84" y2="1436.08" stroke="#000099" stroke-width="1.6"/><rect x="636.04" y="1435.28" width="6.60" height="1.60" fill="#000099"/><line x1="641.84" y1="1436.08" x2="641.84" y2="1475.27" stroke="#000099" stroke-width="1.6"/><rect x="641.04" y="1474.47" width="3.63" height="1.60" fill="#000099"/><line x1="643.86" y1="1475.27" x2="643.86" y2="1461.76" stroke="#000099" stroke-width="1.6"/><rect x="643.06" y="1460.96" width="7.01" height="1.60" fill="#000099"/><line x1="649.27" y1="1461.76" x2="649.27" y2="1468.51" stroke="#000099" stroke-width="1.6"/><rect x="648.47" y="1467.71" width="3.63" height="1.60" fill="#000099"/><line x1="651.30" y1="1468.51" x2="651.30" y2="1455.68" stroke="#000099" stroke-width="1.6"/><rect x="650.50" y="1454.88" width="3.63" height="1.60" fill="#000099"/><line x1="653.32" y1="1455.68" x2="653.32" y2="1494.86" stroke="#000099" stroke-width="1.6"/><rect x="652.52" y="1494.06" width="4.30" height="1.60" fill="#000099"/><line x1="656.03" y1="1494.86" x2="656.03" y2="1501.62" stroke="#000099" stroke-width="1.6"/><rect x="655.23" y="1500.82" width="4.30" height="1.60" fill="#000099"/><line x1="658.73" y1="1501.62" x2="658.73" y2="1475.27" stroke="#000099" stroke-width="1.6"/><rect x="657.93" y="1474.47" width="3.63" height="1.60" fill="#000099"/><line x1="660.76" y1="1475.27" x2="660.76" y2="1481.35" stroke="#000099" stroke-width="1.6"/><rect x="659.96" y="1480.55" width="4.30" height="1.60" fill="#000099"/><line x1="663.46" y1="1481.35" x2="663.46" y2="1488.11" stroke="#000099" stroke-width="1.6"/><rect x="662.66" y="1487.31" width="5.65" height="1.60" fill="#000099"/><line x1="667.51" y1="1488.11" x2="667.51" y2="1501.62" stroke="#000099" stroke-width="1.6"/><rect x="666.71" y="1500.82" width="4.30" height="1.60" fill="#000099"/><line x1="670.22" y1="1501.62" x2="670.22" y2="1468.51" stroke="#000099" stroke-width="1.6"/><rect x="669.42" y="1467.71" width="3.63" height="1.60" fill="#000099"/><line x1="672.24" y1="1468.51" x2="672.24" y2="1448.92" stroke="#000099" stroke-width="1.6"/><rect x="671.44" y="1448.12" width="4.57" height="1.60" fill="#000099"/><line x1="675.22" y1="1448.92" x2="675.22" y2="1468.51" stroke="#000099" stroke-width="1.6"/><rect x="674.42" y="1467.71" width="3.36" height="1.60" fill="#000099"/><line x1="676.97" y1="1468.51" x2="676.97" y2="1455.68" stroke="#000099" stroke-width="1.6"/><rect x="676.17" y="1454.88" width="3.63" height="1.60" fill="#000099"/><line x1="679.00" y1="1455.68" x2="679.00" y2="1455.62" stroke="#000099" stroke-width="1.6"/><rect x="678.20" y="1454.82" width="3.15" height="1.60" fill="#000099"/><line x1="680.55" y1="1455.62" x2="680.55" y2="1462.72" stroke="#000099" stroke-width="1.6"/><rect x="679.75" y="1461.92" width="3.63" height="1.60" fill="#000099"/><line x1="682.58" y1="1462.72" x2="682.58" y2="1502.27" stroke="#000099" stroke-width="1.6"/><rect x="681.78" y="1501.47" width="4.64" height="1.60" fill="#000099"/><line x1="685.62" y1="1502.27" x2="685.62" y2="1475.40" stroke="#000099" stroke-width="1.6"/><rect x="684.82" y="1474.60" width="5.66" height="1.60" fill="#000099"/><line x1="689.68" y1="1475.40" x2="689.68" y2="1468.80" stroke="#000099" stroke-width="1.6"/><rect x="688.88" y="1468.00" width="9.21" height="1.60" fill="#000099"/><line x1="697.28" y1="1468.80" x2="697.28" y2="1482.49" stroke="#000099" stroke-width="1.6"/><rect x="696.48" y="1481.69" width="5.66" height="1.60" fill="#000099"/><line x1="701.34" y1="1482.49" x2="701.34" y2="1489.09" stroke="#000099" stroke-width="1.6"/><rect x="700.54" y="1488.29" width="4.64" height="1.60" fill="#000099"/><line x1="704.38" y1="1489.09" x2="704.38" y2="1449.03" stroke="#000099" stroke-width="1.6"/><rect x="703.58" y="1448.23" width="4.64" height="1.60" fill="#000099"/><line x1="707.43" y1="1449.03" x2="707.43" y2="1475.40" stroke="#000099" stroke-width="1.6"/><rect x="706.63" y="1474.60" width="5.66" height="1.60" fill="#000099"/><line x1="711.48" y1="1475.40" x2="711.48" y2="1455.62" stroke="#000099" stroke-width="1.6"/><rect x="710.68" y="1454.82" width="4.14" height="1.60" fill="#000099"/><line x1="714.02" y1="1455.62" x2="714.02" y2="1475.40" stroke="#000099" stroke-width="1.6"/><rect x="713.22" y="1474.60" width="4.14" height="1.60" fill="#000099"/><line x1="716.55" y1="1475.40" x2="716.55" y2="1462.21" stroke="#000099" stroke-width="1.6"/><rect x="715.75" y="1461.41" width="5.66" height="1.60" fill="#000099"/><line x1="720.61" y1="1462.21" x2="720.61" y2="1449.03" stroke="#000099" stroke-width="1.6"/><rect x="719.81" y="1448.23" width="4.64" height="1.60" fill="#000099"/><line x1="723.65" y1="1449.03" x2="723.65" y2="1489.09" stroke="#000099" stroke-width="1.6"/><rect x="722.85" y="1488.29" width="4.64" height="1.60" fill="#000099"/><line x1="726.70" y1="1489.09" x2="726.70" y2="1462.21" stroke="#000099" stroke-width="1.6"/><rect x="725.90" y="1461.41" width="4.14" height="1.60" fill="#000099"/><line x1="729.23" y1="1462.21" x2="729.23" y2="1489.09" stroke="#000099" stroke-width="1.6"/><rect x="728.43" y="1488.29" width="3.12" height="1.60" fill="#000099"/><line x1="730.75" y1="1489.09" x2="730.75" y2="1468.80" stroke="#000099" stroke-width="1.6"/><rect x="729.95" y="1468.00" width="4.14" height="1.60" fill="#000099"/><line x1="733.29" y1="1468.80" x2="733.29" y2="1449.03" stroke="#000099" stroke-width="1.6"/><rect x="732.49" y="1448.23" width="4.14" height="1.60" fill="#000099"/><line x1="735.82" y1="1449.03" x2="735.82" y2="1495.17" stroke="#000099" stroke-width="1.6"/><rect x="735.02" y="1494.37" width="4.14" height="1.60" fill="#000099"/><line x1="738.36" y1="1495.17" x2="738.36" y2="1502.27" stroke="#000099" stroke-width="1.6"/><rect x="737.56" y="1501.47" width="3.63" height="1.60" fill="#000099"/><line x1="740.39" y1="1502.27" x2="740.39" y2="1468.80" stroke="#000099" stroke-width="1.6"/><rect x="739.59" y="1468.00" width="4.14" height="1.60" fill="#000099"/><line x1="742.92" y1="1468.80" x2="742.92" y2="1455.62" stroke="#000099" stroke-width="1.6"/><rect x="742.12" y="1454.82" width="4.64" height="1.60" fill="#000099"/><line x1="745.97" y1="1455.62" x2="745.97" y2="1462.21" stroke="#000099" stroke-width="1.6"/><rect x="745.17" y="1461.41" width="5.66" height="1.60" fill="#000099"/><line x1="750.02" y1="1462.21" x2="750.02" y2="1468.80" stroke="#000099" stroke-width="1.6"/><rect x="749.22" y="1468.00" width="4.14" height="1.60" fill="#000099"/><line x1="752.56" y1="1468.80" x2="752.56" y2="1482.49" stroke="#000099" stroke-width="1.6"/><rect x="751.76" y="1481.69" width="4.14" height="1.60" fill="#000099"/><line x1="755.09" y1="1482.49" x2="755.09" y2="1468.80" stroke="#000099" stroke-width="1.6"/><rect x="754.29" y="1468.00" width="4.14" height="1.60" fill="#000099"/><line x1="757.63" y1="1468.80" x2="757.63" y2="1495.17" stroke="#000099" stroke-width="1.6"/><rect x="756.83" y="1494.37" width="3.63" height="1.60" fill="#000099"/><line x1="759.66" y1="1495.17" x2="759.66" y2="1502.27" stroke="#000099" stroke-width="1.6"/><rect x="758.86" y="1501.47" width="4.14" height="1.60" fill="#000099"/><line x1="762.19" y1="1502.27" x2="762.19" y2="1495.17" stroke="#000099" stroke-width="1.6"/><rect x="761.39" y="1494.37" width="3.63" height="1.60" fill="#000099"/><line x1="764.22" y1="1495.17" x2="764.22" y2="1488.58" stroke="#000099" stroke-width="1.6"/><rect x="763.42" y="1487.78" width="4.64" height="1.60" fill="#000099"/><line x1="767.26" y1="1488.58" x2="767.26" y2="1502.27" stroke="#000099" stroke-width="1.6"/><rect x="766.46" y="1501.47" width="4.14" height="1.60" fill="#000099"/><line x1="769.80" y1="1502.27" x2="769.80" y2="1468.80" stroke="#000099" stroke-width="1.6"/><rect x="769.00" y="1468.00" width="4.14" height="1.60" fill="#000099"/><line x1="772.33" y1="1468.80" x2="772.33" y2="1502.27" stroke="#000099" stroke-width="1.6"/><rect x="771.53" y="1501.47" width="3.63" height="1.60" fill="#000099"/><line x1="774.36" y1="1502.27" x2="774.36" y2="1508.86" stroke="#000099" stroke-width="1.6"/><rect x="773.56" y="1508.06" width="3.12" height="1.60" fill="#000099"/><line x1="775.88" y1="1508.86" x2="775.88" y2="1468.80" stroke="#000099" stroke-width="1.6"/><rect x="775.08" y="1468.00" width="2.72" height="1.60" fill="#000099"/><line x1="777.00" y1="1468.80" x2="777.00" y2="1468.80" stroke="#000099" stroke-width="1.6"/><rect x="776.20" y="1468.00" width="3.66" height="1.60" fill="#000099"/><line x1="779.06" y1="1468.80" x2="779.06" y2="1462.21" stroke="#000099" stroke-width="1.6"/><rect x="778.26" y="1461.41" width="7.18" height="1.60" fill="#000099"/><line x1="784.63" y1="1462.21" x2="784.63" y2="1475.40" stroke="#000099" stroke-width="1.6"/><rect x="783.83" y="1474.60" width="3.63" height="1.60" fill="#000099"/><line x1="786.66" y1="1475.40" x2="786.66" y2="1489.09" stroke="#000099" stroke-width="1.6"/><rect x="785.86" y="1488.29" width="4.14" height="1.60" fill="#000099"/><line x1="789.20" y1="1489.09" x2="789.20" y2="1442.43" stroke="#000099" stroke-width="1.6"/><rect x="788.40" y="1441.63" width="4.14" height="1.60" fill="#000099"/><line x1="791.73" y1="1442.43" x2="791.73" y2="1462.21" stroke="#000099" stroke-width="1.6"/><rect x="790.93" y="1461.41" width="4.14" height="1.60" fill="#000099"/><line x1="794.27" y1="1462.21" x2="794.27" y2="1495.17" stroke="#000099" stroke-width="1.6"/><rect x="793.47" y="1494.37" width="4.14" height="1.60" fill="#000099"/><line x1="796.81" y1="1495.17" x2="796.81" y2="1449.03" stroke="#000099" stroke-width="1.6"/><rect x="796.01" y="1448.23" width="3.63" height="1.60" fill="#000099"/><line x1="798.83" y1="1449.03" x2="798.83" y2="1442.43" stroke="#000099" stroke-width="1.6"/><rect x="798.03" y="1441.63" width="4.14" height="1.60" fill="#000099"/><line x1="801.37" y1="1442.43" x2="801.37" y2="1475.40" stroke="#000099" stroke-width="1.6"/><rect x="800.57" y="1474.60" width="4.14" height="1.60" fill="#000099"/><line x1="803.90" y1="1475.40" x2="803.90" y2="1489.09" stroke="#000099" stroke-width="1.6"/><rect x="803.10" y="1488.29" width="3.63" height="1.60" fill="#000099"/><line x1="805.93" y1="1489.09" x2="805.93" y2="1475.40" stroke="#000099" stroke-width="1.6"/><rect x="805.13" y="1474.60" width="4.14" height="1.60" fill="#000099"/><line x1="808.47" y1="1475.40" x2="808.47" y2="1495.17" stroke="#000099" stroke-width="1.6"/><rect x="807.67" y="1494.37" width="4.14" height="1.60" fill="#000099"/><line x1="811.00" y1="1495.17" x2="811.00" y2="1488.58" stroke="#000099" stroke-width="1.6"/><rect x="810.20" y="1487.78" width="4.14" height="1.60" fill="#000099"/><line x1="813.54" y1="1488.58" x2="813.54" y2="1495.17" stroke="#000099" stroke-width="1.6"/><rect x="812.74" y="1494.37" width="4.64" height="1.60" fill="#000099"/><line x1="816.58" y1="1495.17" x2="816.58" y2="1502.27" stroke="#000099" stroke-width="1.6"/><rect x="815.78" y="1501.47" width="3.63" height="1.60" fill="#000099"/><line x1="818.61" y1="1502.27" x2="818.61" y2="1468.80" stroke="#000099" stroke-width="1.6"/><rect x="817.81" y="1468.00" width="3.63" height="1.60" fill="#000099"/><line x1="820.64" y1="1468.80" x2="820.64" y2="1455.62" stroke="#000099" stroke-width="1.6"/><rect x="819.84" y="1454.82" width="4.14" height="1.60" fill="#000099"/><line x1="823.17" y1="1455.62" x2="823.17" y2="1468.80" stroke="#000099" stroke-width="1.6"/><rect x="822.37" y="1468.00" width="3.63" height="1.60" fill="#000099"/><line x1="825.20" y1="1468.80" x2="825.20" y2="1489.09" stroke="#000099" stroke-width="1.6"/><rect x="824.40" y="1488.29" width="4.14" height="1.60" fill="#000099"/><line x1="827.74" y1="1489.09" x2="827.74" y2="1482.49" stroke="#000099" stroke-width="1.6"/><rect x="826.94" y="1481.69" width="4.14" height="1.60" fill="#000099"/><line x1="830.27" y1="1482.49" x2="830.27" y2="1468.80" stroke="#000099" stroke-width="1.6"/><rect x="829.47" y="1468.00" width="4.14" height="1.60" fill="#000099"/><line x1="832.81" y1="1468.80" x2="832.81" y2="1481.99" stroke="#000099" stroke-width="1.6"/><rect x="832.01" y="1481.19" width="4.14" height="1.60" fill="#000099"/><line x1="835.34" y1="1481.99" x2="835.34" y2="1475.40" stroke="#000099" stroke-width="1.6"/><rect x="834.54" y="1474.60" width="4.14" height="1.60" fill="#000099"/><line x1="837.88" y1="1475.40" x2="837.88" y2="1462.21" stroke="#000099" stroke-width="1.6"/><rect x="837.08" y="1461.41" width="4.14" height="1.60" fill="#000099"/><line x1="840.42" y1="1462.21" x2="840.42" y2="1502.27" stroke="#000099" stroke-width="1.6"/><rect x="839.62" y="1501.47" width="6.16" height="1.60" fill="#000099"/><line x1="844.98" y1="1502.27" x2="844.98" y2="1489.09" stroke="#000099" stroke-width="1.6"/><rect x="844.18" y="1488.29" width="3.63" height="1.60" fill="#000099"/><line x1="847.01" y1="1489.09" x2="847.01" y2="1481.99" stroke="#000099" stroke-width="1.6"/><rect x="846.21" y="1481.19" width="4.14" height="1.60" fill="#000099"/><line x1="849.54" y1="1481.99" x2="849.54" y2="1475.40" stroke="#000099" stroke-width="1.6"/><rect x="848.74" y="1474.60" width="6.16" height="1.60" fill="#000099"/><line x1="854.11" y1="1475.40" x2="854.11" y2="1489.09" stroke="#000099" stroke-width="1.6"/><rect x="853.31" y="1488.29" width="4.14" height="1.60" fill="#000099"/><line x1="856.64" y1="1489.09" x2="856.64" y2="1508.86" stroke="#000099" stroke-width="1.6"/><rect x="855.84" y="1508.06" width="4.64" height="1.60" fill="#000099"/><line x1="859.69" y1="1508.86" x2="859.69" y2="1475.40" stroke="#000099" stroke-width="1.6"/><rect x="858.89" y="1474.60" width="4.14" height="1.60" fill="#000099"/><line x1="862.22" y1="1475.40" x2="862.22" y2="1495.17" stroke="#000099" stroke-width="1.6"/><rect x="861.42" y="1494.37" width="4.14" height="1.60" fill="#000099"/><line x1="864.76" y1="1495.17" x2="864.76" y2="1489.09" stroke="#000099" stroke-width="1.6"/><rect x="863.96" y="1488.29" width="3.63" height="1.60" fill="#000099"/><line x1="866.78" y1="1489.09" x2="866.78" y2="1481.99" stroke="#000099" stroke-width="1.6"/><rect x="865.98" y="1481.19" width="4.14" height="1.60" fill="#000099"/><line x1="869.32" y1="1481.99" x2="869.32" y2="1489.09" stroke="#000099" stroke-width="1.6"/><rect x="868.52" y="1488.29" width="3.63" height="1.60" fill="#000099"/><line x1="871.35" y1="1489.09" x2="871.35" y2="1481.99" stroke="#000099" stroke-width="1.6"/><rect x="870.55" y="1481.19" width="5.25" height="1.60" fill="#000099"/><line x1="875.00" y1="1481.99" x2="875.00" y2="1481.99" stroke="#000099" stroke-width="1.6"/><rect x="874.20" y="1481.19" width="10.25" height="1.60" fill="#000099"/><line x1="883.65" y1="1481.99" x2="883.65" y2="1515.46" stroke="#000099" stroke-width="1.6"/><rect x="882.85" y="1514.66" width="3.63" height="1.60" fill="#000099"/><line x1="885.68" y1="1515.46" x2="885.68" y2="1495.68" stroke="#000099" stroke-width="1.6"/><rect x="884.88" y="1494.88" width="3.63" height="1.60" fill="#000099"/><line x1="887.71" y1="1495.68" x2="887.71" y2="1489.09" stroke="#000099" stroke-width="1.6"/><rect x="886.91" y="1488.29" width="4.14" height="1.60" fill="#000099"/><line x1="890.24" y1="1489.09" x2="890.24" y2="1502.27" stroke="#000099" stroke-width="1.6"/><rect x="889.44" y="1501.47" width="4.14" height="1.60" fill="#000099"/><line x1="892.78" y1="1502.27" x2="892.78" y2="1481.99" stroke="#000099" stroke-width="1.6"/><rect x="891.98" y="1481.19" width="4.14" height="1.60" fill="#000099"/><line x1="895.31" y1="1481.99" x2="895.31" y2="1468.80" stroke="#000099" stroke-width="1.6"/><rect x="894.51" y="1468.00" width="4.14" height="1.60" fill="#000099"/><line x1="897.85" y1="1468.80" x2="897.85" y2="1455.62" stroke="#000099" stroke-width="1.6"/><rect x="897.05" y="1454.82" width="7.18" height="1.60" fill="#000099"/><line x1="903.43" y1="1455.62" x2="903.43" y2="1462.21" stroke="#000099" stroke-width="1.6"/><rect x="902.63" y="1461.41" width="3.63" height="1.60" fill="#000099"/><line x1="905.45" y1="1462.21" x2="905.45" y2="1482.49" stroke="#000099" stroke-width="1.6"/><rect x="904.65" y="1481.69" width="3.63" height="1.60" fill="#000099"/><line x1="907.48" y1="1482.49" x2="907.48" y2="1489.09" stroke="#000099" stroke-width="1.6"/><rect x="906.68" y="1488.29" width="8.70" height="1.60" fill="#000099"/><line x1="914.58" y1="1489.09" x2="914.58" y2="1481.99" stroke="#000099" stroke-width="1.6"/><rect x="913.78" y="1481.19" width="6.67" height="1.60" fill="#000099"/><line x1="919.65" y1="1481.99" x2="919.65" y2="1475.40" stroke="#000099" stroke-width="1.6"/><rect x="918.85" y="1474.60" width="4.14" height="1.60" fill="#000099"/><line x1="922.19" y1="1475.40" x2="922.19" y2="1489.09" stroke="#000099" stroke-width="1.6"/><rect x="921.39" y="1488.29" width="3.63" height="1.60" fill="#000099"/><line x1="924.22" y1="1489.09" x2="924.22" y2="1455.62" stroke="#000099" stroke-width="1.6"/><rect x="923.42" y="1454.82" width="4.64" height="1.60" fill="#000099"/><line x1="927.26" y1="1455.62" x2="927.26" y2="1502.27" stroke="#000099" stroke-width="1.6"/><rect x="926.46" y="1501.47" width="3.12" height="1.60" fill="#000099"/><line x1="928.78" y1="1502.27" x2="928.78" y2="1468.80" stroke="#000099" stroke-width="1.6"/><rect x="927.98" y="1468.00" width="4.14" height="1.60" fill="#000099"/><line x1="931.32" y1="1468.80" x2="931.32" y2="1495.17" stroke="#000099" stroke-width="1.6"/><rect x="930.52" y="1494.37" width="4.14" height="1.60" fill="#000099"/><line x1="933.85" y1="1495.17" x2="933.85" y2="1508.86" stroke="#000099" stroke-width="1.6"/><rect x="933.05" y="1508.06" width="4.14" height="1.60" fill="#000099"/><line x1="936.39" y1="1508.86" x2="936.39" y2="1462.21" stroke="#000099" stroke-width="1.6"/><rect x="935.59" y="1461.41" width="4.64" height="1.60" fill="#000099"/><line x1="939.43" y1="1462.21" x2="939.43" y2="1495.17" stroke="#000099" stroke-width="1.6"/><rect x="938.63" y="1494.37" width="3.63" height="1.60" fill="#000099"/><line x1="941.46" y1="1495.17" x2="941.46" y2="1462.21" stroke="#000099" stroke-width="1.6"/><rect x="940.66" y="1461.41" width="4.64" height="1.60" fill="#000099"/><line x1="944.50" y1="1462.21" x2="944.50" y2="1508.86" stroke="#000099" stroke-width="1.6"/><rect x="943.70" y="1508.06" width="4.14" height="1.60" fill="#000099"/><line x1="947.04" y1="1508.86" x2="947.04" y2="1495.17" stroke="#000099" stroke-width="1.6"/><rect x="946.24" y="1494.37" width="3.12" height="1.60" fill="#000099"/><line x1="948.56" y1="1495.17" x2="948.56" y2="1462.21" stroke="#000099" stroke-width="1.6"/><rect x="947.76" y="1461.41" width="4.14" height="1.60" fill="#000099"/><line x1="951.09" y1="1462.21" x2="951.09" y2="1468.80" stroke="#000099" stroke-width="1.6"/><rect x="950.29" y="1468.00" width="4.14" height="1.60" fill="#000099"/><line x1="953.63" y1="1468.80" x2="953.63" y2="1475.40" stroke="#000099" stroke-width="1.6"/><rect x="952.83" y="1474.60" width="4.14" height="1.60" fill="#000099"/><line x1="956.16" y1="1475.40" x2="956.16" y2="1468.80" stroke="#000099" stroke-width="1.6"/><rect x="955.36" y="1468.00" width="4.14" height="1.60" fill="#000099"/><line x1="958.70" y1="1468.80" x2="958.70" y2="1495.17" stroke="#000099" stroke-width="1.6"/><rect x="957.90" y="1494.37" width="6.16" height="1.60" fill="#000099"/><line x1="963.26" y1="1495.17" x2="963.26" y2="1502.27" stroke="#000099" stroke-width="1.6"/><rect x="962.46" y="1501.47" width="3.63" height="1.60" fill="#000099"/><line x1="965.29" y1="1502.27" x2="965.29" y2="1455.62" stroke="#000099" stroke-width="1.6"/><rect x="964.49" y="1454.82" width="4.64" height="1.60" fill="#000099"/><line x1="968.33" y1="1455.62" x2="968.33" y2="1475.40" stroke="#000099" stroke-width="1.6"/><rect x="967.53" y="1474.60" width="4.14" height="1.60" fill="#000099"/><line x1="970.87" y1="1475.40" x2="970.87" y2="1502.27" stroke="#000099" stroke-width="1.6"/><rect x="970.07" y="1501.47" width="3.73" height="1.60" fill="#000099"/><line x1="972.96" y1="1502.27" x2="972.96" y2="1502.27" stroke="#000099" stroke-width="1.6"/><rect x="972.16" y="1501.47" width="3.63" height="1.60" fill="#000099"/><line x1="974.99" y1="1502.27" x2="974.99" y2="1449.03" stroke="#000099" stroke-width="1.6"/><rect x="974.19" y="1448.23" width="5.15" height="1.60" fill="#000099"/><line x1="978.54" y1="1449.03" x2="978.54" y2="1462.21" stroke="#000099" stroke-width="1.6"/><rect x="977.74" y="1461.41" width="3.63" height="1.60" fill="#000099"/><line x1="980.57" y1="1462.21" x2="980.57" y2="1455.62" stroke="#000099" stroke-width="1.6"/><rect x="979.77" y="1454.82" width="4.14" height="1.60" fill="#000099"/><line x1="983.10" y1="1455.62" x2="983.10" y2="1468.80" stroke="#000099" stroke-width="1.6"/><rect x="982.30" y="1468.00" width="3.63" height="1.60" fill="#000099"/><line x1="985.13" y1="1468.80" x2="985.13" y2="1475.40" stroke="#000099" stroke-width="1.6"/><rect x="984.33" y="1474.60" width="4.14" height="1.60" fill="#000099"/><line x1="987.67" y1="1475.40" x2="987.67" y2="1495.17" stroke="#000099" stroke-width="1.6"/><rect x="986.87" y="1494.37" width="4.64" height="1.60" fill="#000099"/><line x1="990.71" y1="1495.17" x2="990.71" y2="1481.99" stroke="#000099" stroke-width="1.6"/><rect x="989.91" y="1481.19" width="3.63" height="1.60" fill="#000099"/><line x1="992.74" y1="1481.99" x2="992.74" y2="1489.09" stroke="#000099" stroke-width="1.6"/><rect x="991.94" y="1488.29" width="3.63" height="1.60" fill="#000099"/><line x1="994.77" y1="1489.09" x2="994.77" y2="1502.27" stroke="#000099" stroke-width="1.6"/><rect x="993.97" y="1501.47" width="4.14" height="1.60" fill="#000099"/><line x1="997.30" y1="1502.27" x2="997.30" y2="1489.09" stroke="#000099" stroke-width="1.6"/><rect x="996.50" y="1488.29" width="3.63" height="1.60" fill="#000099"/><line x1="999.33" y1="1489.09" x2="999.33" y2="1481.99" stroke="#000099" stroke-width="1.6"/><rect x="998.53" y="1481.19" width="4.14" height="1.60" fill="#000099"/><line x1="1001.87" y1="1481.99" x2="1001.87" y2="1495.17" stroke="#000099" stroke-width="1.6"/><rect x="1001.07" y="1494.37" width="6.16" height="1.60" fill="#000099"/></g>
<g shape-rendering="crispEdges"><rect x="108.71" y="1476.06" width="3.76" height="8.47" fill="#ff0000"/><line x1="111.47" y1="1483.53" x2="111.47" y2="1483.53" stroke="#ff0000" stroke-width="2.0"/><rect x="110.47" y="1482.53" width="4.35" height="2.00" fill="#ff0000"/><line x1="113.82" y1="1483.53" x2="113.82" y2="1491.76" stroke="#ff0000" stroke-width="2.0"/><rect x="112.82" y="1490.76" width="4.94" height="2.00" fill="#ff0000"/><line x1="116.76" y1="1491.76" x2="116.76" y2="1472.94" stroke="#ff0000" stroke-width="2.0"/><rect x="115.76" y="1471.94" width="4.35" height="2.00" fill="#ff0000"/><line x1="119.12" y1="1472.94" x2="119.12" y2="1472.94" stroke="#ff0000" stroke-width="2.0"/><rect x="118.12" y="1471.94" width="5.53" height="6.71" fill="#ff0000"/><line x1="122.65" y1="1472.94" x2="122.65" y2="1464.12" stroke="#ff0000" stroke-width="2.0"/><rect x="121.65" y="1463.12" width="4.94" height="2.00" fill="#ff0000"/><line x1="125.59" y1="1464.12" x2="125.59" y2="1463.53" stroke="#ff0000" stroke-width="2.0"/><rect x="124.59" y="1457.82" width="5.53" height="6.71" fill="#ff0000"/><line x1="129.12" y1="1458.82" x2="129.12" y2="1458.82" stroke="#ff0000" stroke-width="2.0"/><rect x="128.12" y="1443.12" width="4.94" height="22.00" fill="#ff0000"/><line x1="132.06" y1="1464.12" x2="132.06" y2="1464.12" stroke="#ff0000" stroke-width="2.0"/><rect x="131.06" y="1462.53" width="6.71" height="23.76" fill="#ff0000"/><line x1="136.76" y1="1463.53" x2="136.76" y2="1453.53" stroke="#ff0000" stroke-width="2.0"/><rect x="135.76" y="1452.53" width="4.94" height="2.00" fill="#ff0000"/><line x1="139.71" y1="1453.53" x2="139.71" y2="1453.53" stroke="#ff0000" stroke-width="2.0"/><rect x="138.71" y="1452.53" width="6.12" height="2.00" fill="#ff0000"/><line x1="143.82" y1="1453.53" x2="143.82" y2="1458.82" stroke="#ff0000" stroke-width="2.0"/><rect x="142.82" y="1457.82" width="6.71" height="25.53" fill="#ff0000"/><line x1="148.53" y1="1472.35" x2="148.53" y2="1472.35" stroke="#ff0000" stroke-width="2.0"/><rect x="147.53" y="1469.59" width="7.88" height="5.53" fill="#ff0000"/><line x1="154.41" y1="1470.59" x2="154.41" y2="1467.06" stroke="#ff0000" stroke-width="2.0"/><rect x="153.41" y="1466.06" width="4.35" height="2.00" fill="#ff0000"/><line x1="156.76" y1="1467.06" x2="156.76" y2="1463.53" stroke="#ff0000" stroke-width="2.0"/><rect x="155.76" y="1449.59" width="4.94" height="14.94" fill="#ff0000"/><line x1="159.71" y1="1463.53" x2="159.71" y2="1464.71" stroke="#ff0000" stroke-width="2.0"/><rect x="158.71" y="1463.71" width="4.94" height="2.00" fill="#ff0000"/><line x1="162.65" y1="1464.71" x2="162.65" y2="1487.06" stroke="#ff0000" stroke-width="2.0"/><rect x="161.65" y="1486.06" width="6.71" height="4.35" fill="#ff0000"/><line x1="167.35" y1="1487.06" x2="167.35" y2="1470.59" stroke="#ff0000" stroke-width="2.0"/><rect x="166.35" y="1467.24" width="5.53" height="4.35" fill="#ff0000"/><line x1="170.88" y1="1470.59" x2="170.88" y2="1477.06" stroke="#ff0000" stroke-width="2.0"/><rect x="169.88" y="1476.06" width="6.71" height="2.00" fill="#ff0000"/><line x1="175.59" y1="1477.06" x2="175.59" y2="1477.06" stroke="#ff0000" stroke-width="2.0"/><rect x="174.59" y="1474.29" width="5.53" height="4.35" fill="#ff0000"/><line x1="179.12" y1="1477.65" x2="179.12" y2="1484.71" stroke="#ff0000" stroke-width="2.0"/><rect x="178.12" y="1483.71" width="5.53" height="6.71" fill="#ff0000"/><line x1="182.65" y1="1484.71" x2="182.65" y2="1477.65" stroke="#ff0000" stroke-width="2.0"/><rect x="181.65" y="1454.29" width="6.71" height="24.35" fill="#ff0000"/><line x1="187.35" y1="1460.88" x2="187.35" y2="1460.88" stroke="#ff0000" stroke-width="2.0"/><rect x="186.35" y="1443.12" width="4.35" height="35.53" fill="#ff0000"/><line x1="189.71" y1="1450.59" x2="189.71" y2="1450.59" stroke="#ff0000" stroke-width="2.0"/><rect x="188.71" y="1449.59" width="6.71" height="2.00" fill="#ff0000"/><line x1="194.41" y1="1450.59" x2="194.41" y2="1454.12" stroke="#ff0000" stroke-width="2.0"/><rect x="193.41" y="1453.12" width="5.53" height="2.00" fill="#ff0000"/><line x1="197.94" y1="1454.12" x2="197.94" y2="1477.65" stroke="#ff0000" stroke-width="2.0"/><rect x="196.94" y="1476.65" width="5.53" height="14.94" fill="#ff0000"/><line x1="201.47" y1="1481.18" x2="201.47" y2="1481.18" stroke="#ff0000" stroke-width="2.0"/><rect x="200.47" y="1480.18" width="4.94" height="2.00" fill="#ff0000"/><line x1="204.41" y1="1481.18" x2="204.41" y2="1475.29" stroke="#ff0000" stroke-width="2.0"/><rect x="203.41" y="1460.18" width="4.94" height="16.12" fill="#ff0000"/><line x1="207.35" y1="1467.65" x2="207.35" y2="1467.65" stroke="#ff0000" stroke-width="2.0"/><rect x="206.35" y="1460.18" width="5.53" height="14.94" fill="#ff0000"/><line x1="210.88" y1="1461.18" x2="210.88" y2="1457.65" stroke="#ff0000" stroke-width="2.0"/><rect x="209.88" y="1456.65" width="4.35" height="2.00" fill="#ff0000"/><line x1="213.24" y1="1457.65" x2="213.24" y2="1457.65" stroke="#ff0000" stroke-width="2.0"/><rect x="212.24" y="1447.24" width="4.35" height="11.41" fill="#ff0000"/><line x1="215.59" y1="1457.65" x2="215.59" y2="1472.94" stroke="#ff0000" stroke-width="2.0"/><rect x="214.59" y="1471.94" width="5.53" height="2.00" fill="#ff0000"/><line x1="219.12" y1="1472.94" x2="219.12" y2="1472.94" stroke="#ff0000" stroke-width="2.0"/><rect x="218.12" y="1471.94" width="5.53" height="16.12" fill="#ff0000"/><line x1="222.65" y1="1472.94" x2="222.65" y2="1472.94" stroke="#ff0000" stroke-width="2.0"/><rect x="221.65" y="1471.94" width="4.35" height="2.00" fill="#ff0000"/><line x1="227.00" y1="1472.94" x2="227.00" y2="1484.12" stroke="#ff0000" stroke-width="2.0"/><rect x="226.00" y="1483.12" width="3.53" height="4.35" fill="#ff0000"/><line x1="228.53" y1="1484.12" x2="228.53" y2="1476.47" stroke="#ff0000" stroke-width="2.0"/><rect x="227.53" y="1454.29" width="6.12" height="23.18" fill="#ff0000"/><line x1="232.65" y1="1476.47" x2="232.65" y2="1476.47" stroke="#ff0000" stroke-width="2.0"/><rect x="231.65" y="1475.47" width="5.53" height="2.00" fill="#ff0000"/><line x1="236.18" y1="1476.47" x2="236.18" y2="1478.82" stroke="#ff0000" stroke-width="2.0"/><rect x="235.18" y="1477.82" width="4.35" height="2.00" fill="#ff0000"/><line x1="238.53" y1="1478.82" x2="238.53" y2="1490.59" stroke="#ff0000" stroke-width="2.0"/><rect x="237.53" y="1489.59" width="9.06" height="4.35" fill="#ff0000"/><line x1="245.59" y1="1492.94" x2="245.59" y2="1492.94" stroke="#ff0000" stroke-width="2.0"/><rect x="244.59" y="1491.94" width="6.12" height="2.00" fill="#ff0000"/><line x1="249.71" y1="1492.94" x2="249.71" y2="1488.82" stroke="#ff0000" stroke-width="2.0"/><rect x="248.71" y="1484.29" width="7.29" height="5.53" fill="#ff0000"/><line x1="255.00" y1="1487.65" x2="255.00" y2="1487.65" stroke="#ff0000" stroke-width="2.0"/><rect x="254.00" y="1484.29" width="4.94" height="6.71" fill="#ff0000"/><line x1="257.94" y1="1490.00" x2="257.94" y2="1492.35" stroke="#ff0000" stroke-width="2.0"/><rect x="256.94" y="1491.35" width="6.71" height="13.76" fill="#ff0000"/><line x1="262.65" y1="1492.35" x2="262.65" y2="1481.18" stroke="#ff0000" stroke-width="2.0"/><rect x="261.65" y="1480.18" width="4.94" height="2.00" fill="#ff0000"/><line x1="265.59" y1="1481.18" x2="265.59" y2="1502.94" stroke="#ff0000" stroke-width="2.0"/><rect x="264.59" y="1501.94" width="5.53" height="2.00" fill="#ff0000"/><line x1="269.12" y1="1502.94" x2="269.12" y2="1497.06" stroke="#ff0000" stroke-width="2.0"/><rect x="268.12" y="1496.06" width="4.94" height="2.00" fill="#ff0000"/><line x1="272.06" y1="1497.06" x2="272.06" y2="1485.29" stroke="#ff0000" stroke-width="2.0"/><rect x="271.06" y="1484.29" width="5.53" height="2.00" fill="#ff0000"/><line x1="275.59" y1="1485.29" x2="275.59" y2="1473.53" stroke="#ff0000" stroke-width="2.0"/><rect x="274.59" y="1472.53" width="5.53" height="2.00" fill="#ff0000"/><line x1="279.12" y1="1473.53" x2="279.12" y2="1475.88" stroke="#ff0000" stroke-width="2.0"/><rect x="278.12" y="1474.88" width="6.71" height="15.53" fill="#ff0000"/><line x1="283.82" y1="1482.94" x2="283.82" y2="1482.94" stroke="#ff0000" stroke-width="2.0"/><rect x="282.82" y="1481.94" width="4.94" height="2.00" fill="#ff0000"/><line x1="286.76" y1="1482.94" x2="286.76" y2="1464.71" stroke="#ff0000" stroke-width="2.0"/><rect x="285.76" y="1463.71" width="2.59" height="2.00" fill="#ff0000"/><line x1="287.35" y1="1464.71" x2="287.35" y2="1387.65" stroke="#ff0000" stroke-width="2.0"/><rect x="286.35" y="1386.65" width="3.76" height="2.00" fill="#ff0000"/><line x1="289.12" y1="1387.65" x2="289.12" y2="1385.29" stroke="#ff0000" stroke-width="2.0"/><rect x="288.12" y="1366.06" width="6.71" height="20.24" fill="#ff0000"/><line x1="293.82" y1="1385.29" x2="293.82" y2="1393.53" stroke="#ff0000" stroke-width="2.0"/><rect x="292.82" y="1392.53" width="3.76" height="2.00" fill="#ff0000"/><line x1="295.59" y1="1393.53" x2="295.59" y2="1464.71" stroke="#ff0000" stroke-width="2.0"/><rect x="294.59" y="1463.71" width="5.53" height="2.00" fill="#ff0000"/><line x1="299.12" y1="1464.71" x2="299.12" y2="1476.47" stroke="#ff0000" stroke-width="2.0"/><rect x="298.12" y="1475.47" width="3.76" height="2.00" fill="#ff0000"/><line x1="300.88" y1="1476.47" x2="300.88" y2="1485.29" stroke="#ff0000" stroke-width="2.0"/><rect x="299.88" y="1484.29" width="7.29" height="7.88" fill="#ff0000"/><line x1="306.18" y1="1485.29" x2="306.18" y2="1477.65" stroke="#ff0000" stroke-width="2.0"/><rect x="305.18" y="1476.65" width="5.53" height="2.00" fill="#ff0000"/><line x1="309.71" y1="1477.65" x2="309.71" y2="1411.18" stroke="#ff0000" stroke-width="2.0"/><rect x="308.71" y="1410.18" width="4.94" height="2.00" fill="#ff0000"/><line x1="312.65" y1="1411.18" x2="312.65" y2="1444.12" stroke="#ff0000" stroke-width="2.0"/><rect x="311.65" y="1443.12" width="5.53" height="13.76" fill="#ff0000"/><line x1="316.18" y1="1455.88" x2="316.18" y2="1455.88" stroke="#ff0000" stroke-width="2.0"/><rect x="315.18" y="1454.88" width="3.76" height="2.00" fill="#ff0000"/><line x1="317.94" y1="1455.88" x2="317.94" y2="1484.12" stroke="#ff0000" stroke-width="2.0"/><rect x="316.94" y="1483.12" width="5.53" height="4.35" fill="#ff0000"/><line x1="321.47" y1="1486.47" x2="321.47" y2="1486.47" stroke="#ff0000" stroke-width="2.0"/><rect x="320.47" y="1484.29" width="4.94" height="7.88" fill="#ff0000"/><line x1="324.41" y1="1485.29" x2="324.41" y2="1479.41" stroke="#ff0000" stroke-width="2.0"/><rect x="323.41" y="1478.41" width="6.12" height="2.00" fill="#ff0000"/><line x1="328.53" y1="1479.41" x2="328.53" y2="1482.94" stroke="#ff0000" stroke-width="2.0"/><rect x="327.53" y="1481.94" width="4.35" height="2.00" fill="#ff0000"/><line x1="330.88" y1="1482.94" x2="330.88" y2="1485.29" stroke="#ff0000" stroke-width="2.0"/><rect x="329.88" y="1484.29" width="6.12" height="16.71" fill="#ff0000"/><line x1="335.00" y1="1485.88" x2="335.00" y2="1485.88" stroke="#ff0000" stroke-width="2.0"/><rect x="334.00" y="1472.53" width="6.12" height="26.71" fill="#ff0000"/><line x1="339.12" y1="1496.47" x2="339.12" y2="1496.47" stroke="#ff0000" stroke-width="2.0"/><rect x="338.12" y="1493.71" width="7.88" height="5.53" fill="#ff0000"/><line x1="345.00" y1="1495.88" x2="345.00" y2="1495.88" stroke="#ff0000" stroke-width="2.0"/><rect x="344.00" y="1494.88" width="2.35" height="2.00" fill="#ff0000"/><line x1="345.35" y1="1495.88" x2="345.35" y2="1495.88" stroke="#ff0000" stroke-width="2.0"/><rect x="344.35" y="1483.12" width="6.12" height="14.35" fill="#ff0000"/><line x1="349.47" y1="1495.59" x2="349.47" y2="1495.59" stroke="#ff0000" stroke-width="2.0"/><rect x="348.47" y="1491.35" width="4.94" height="8.47" fill="#ff0000"/><line x1="352.41" y1="1492.35" x2="352.41" y2="1491.76" stroke="#ff0000" stroke-width="2.0"/><rect x="351.41" y="1478.41" width="6.71" height="14.35" fill="#ff0000"/><line x1="357.12" y1="1486.47" x2="357.12" y2="1486.47" stroke="#ff0000" stroke-width="2.0"/><rect x="356.12" y="1480.18" width="3.76" height="12.59" fill="#ff0000"/><line x1="358.88" y1="1490.88" x2="358.88" y2="1490.88" stroke="#ff0000" stroke-width="2.0"/><rect x="357.88" y="1480.18" width="6.71" height="21.41" fill="#ff0000"/><line x1="363.59" y1="1492.35" x2="363.59" y2="1492.35" stroke="#ff0000" stroke-width="2.0"/><rect x="362.59" y="1491.35" width="3.18" height="2.00" fill="#ff0000"/><line x1="364.76" y1="1492.35" x2="364.76" y2="1477.65" stroke="#ff0000" stroke-width="2.0"/><rect x="363.76" y="1476.65" width="5.53" height="2.00" fill="#ff0000"/><line x1="368.29" y1="1477.65" x2="368.29" y2="1492.35" stroke="#ff0000" stroke-width="2.0"/><rect x="367.29" y="1491.35" width="3.76" height="2.00" fill="#ff0000"/><line x1="370.06" y1="1492.35" x2="370.06" y2="1507.06" stroke="#ff0000" stroke-width="2.0"/><rect x="369.06" y="1506.06" width="4.35" height="2.00" fill="#ff0000"/><line x1="372.41" y1="1507.06" x2="372.41" y2="1494.12" stroke="#ff0000" stroke-width="2.0"/><rect x="371.41" y="1493.12" width="5.53" height="2.00" fill="#ff0000"/><line x1="375.94" y1="1494.12" x2="375.94" y2="1497.06" stroke="#ff0000" stroke-width="2.0"/><rect x="374.94" y="1496.06" width="5.53" height="2.00" fill="#ff0000"/><line x1="379.47" y1="1497.06" x2="379.47" y2="1492.35" stroke="#ff0000" stroke-width="2.0"/><rect x="378.47" y="1491.35" width="4.94" height="2.00" fill="#ff0000"/><line x1="382.41" y1="1492.35" x2="382.41" y2="1494.12" stroke="#ff0000" stroke-width="2.0"/><rect x="381.41" y="1493.12" width="6.12" height="6.12" fill="#ff0000"/><line x1="386.53" y1="1494.12" x2="386.53" y2="1492.35" stroke="#ff0000" stroke-width="2.0"/><rect x="385.53" y="1483.12" width="6.12" height="10.24" fill="#ff0000"/><line x1="390.65" y1="1492.35" x2="390.65" y2="1492.35" stroke="#ff0000" stroke-width="2.0"/><rect x="389.65" y="1491.35" width="3.76" height="2.00" fill="#ff0000"/><line x1="392.41" y1="1492.35" x2="392.41" y2="1502.94" stroke="#ff0000" stroke-width="2.0"/><rect x="391.41" y="1501.94" width="6.12" height="8.47" fill="#ff0000"/><line x1="396.53" y1="1502.94" x2="396.53" y2="1488.24" stroke="#ff0000" stroke-width="2.0"/><rect x="395.53" y="1487.24" width="3.76" height="2.00" fill="#ff0000"/><line x1="398.29" y1="1488.24" x2="398.29" y2="1494.71" stroke="#ff0000" stroke-width="2.0"/><rect x="397.29" y="1493.71" width="6.71" height="2.00" fill="#ff0000"/><line x1="403.00" y1="1494.71" x2="403.00" y2="1494.71" stroke="#ff0000" stroke-width="2.0"/><rect x="402.00" y="1493.12" width="6.71" height="15.53" fill="#ff0000"/><line x1="407.71" y1="1494.12" x2="407.71" y2="1494.12" stroke="#ff0000" stroke-width="2.0"/><rect x="406.71" y="1478.41" width="6.71" height="23.18" fill="#ff0000"/><line x1="412.41" y1="1495.29" x2="412.41" y2="1495.29" stroke="#ff0000" stroke-width="2.0"/><rect x="411.41" y="1491.35" width="5.53" height="7.88" fill="#ff0000"/><line x1="415.94" y1="1492.35" x2="415.94" y2="1488.24" stroke="#ff0000" stroke-width="2.0"/><rect x="414.94" y="1487.24" width="4.35" height="2.00" fill="#ff0000"/><line x1="418.29" y1="1488.24" x2="418.29" y2="1488.24" stroke="#ff0000" stroke-width="2.0"/><rect x="417.29" y="1487.24" width="4.94" height="10.24" fill="#ff0000"/><line x1="421.24" y1="1488.24" x2="421.24" y2="1484.12" stroke="#ff0000" stroke-width="2.0"/><rect x="420.24" y="1483.12" width="4.94" height="2.00" fill="#ff0000"/><line x1="424.18" y1="1484.12" x2="424.18" y2="1482.94" stroke="#ff0000" stroke-width="2.0"/><rect x="423.18" y="1481.94" width="4.94" height="2.00" fill="#ff0000"/><line x1="427.12" y1="1482.94" x2="427.12" y2="1477.65" stroke="#ff0000" stroke-width="2.0"/><rect x="426.12" y="1476.65" width="3.76" height="2.00" fill="#ff0000"/><line x1="428.88" y1="1477.65" x2="428.88" y2="1453.53" stroke="#ff0000" stroke-width="2.0"/><rect x="427.88" y="1452.53" width="3.76" height="2.00" fill="#ff0000"/><line x1="430.65" y1="1453.53" x2="430.65" y2="1456.47" stroke="#ff0000" stroke-width="2.0"/><rect x="429.65" y="1455.47" width="4.94" height="10.24" fill="#ff0000"/><line x1="433.59" y1="1464.71" x2="433.59" y2="1485.29" stroke="#ff0000" stroke-width="2.0"/><rect x="432.59" y="1484.29" width="4.35" height="2.00" fill="#ff0000"/><line x1="435.94" y1="1485.29" x2="435.94" y2="1496.47" stroke="#ff0000" stroke-width="2.0"/><rect x="434.94" y="1495.47" width="4.94" height="2.00" fill="#ff0000"/><line x1="438.88" y1="1496.47" x2="438.88" y2="1496.47" stroke="#ff0000" stroke-width="2.0"/><rect x="437.88" y="1495.47" width="4.94" height="16.71" fill="#ff0000"/><line x1="441.82" y1="1496.47" x2="441.82" y2="1496.47" stroke="#ff0000" stroke-width="2.0"/><rect x="440.82" y="1487.24" width="6.71" height="16.71" fill="#ff0000"/><line x1="446.53" y1="1492.35" x2="446.53" y2="1492.35" stroke="#ff0000" stroke-width="2.0"/><rect x="445.53" y="1487.24" width="4.94" height="10.24" fill="#ff0000"/><line x1="449.47" y1="1496.47" x2="449.47" y2="1497.65" stroke="#ff0000" stroke-width="2.0"/><rect x="448.47" y="1496.65" width="3.76" height="2.00" fill="#ff0000"/><line x1="451.24" y1="1497.65" x2="451.24" y2="1491.18" stroke="#ff0000" stroke-width="2.0"/><rect x="450.24" y="1490.18" width="6.71" height="2.00" fill="#ff0000"/><line x1="455.94" y1="1491.18" x2="455.94" y2="1490.00" stroke="#ff0000" stroke-width="2.0"/><rect x="454.94" y="1489.00" width="4.94" height="2.00" fill="#ff0000"/><line x1="458.88" y1="1490.00" x2="458.88" y2="1485.29" stroke="#ff0000" stroke-width="2.0"/><rect x="457.88" y="1472.53" width="3.76" height="13.76" fill="#ff0000"/><line x1="460.65" y1="1473.53" x2="460.65" y2="1473.53" stroke="#ff0000" stroke-width="2.0"/><rect x="459.65" y="1472.53" width="4.35" height="2.00" fill="#ff0000"/><line x1="462.99" y1="1473.53" x2="462.99" y2="1473.51" stroke="#ff0000" stroke-width="2.0"/><rect x="461.99" y="1472.51" width="3.39" height="2.00" fill="#ff0000"/><line x1="464.38" y1="1473.51" x2="464.38" y2="1473.51" stroke="#ff0000" stroke-width="2.0"/><rect x="463.38" y="1472.51" width="7.07" height="29.89" fill="#ff0000"/><line x1="469.45" y1="1484.49" x2="469.45" y2="1484.49" stroke="#ff0000" stroke-width="2.0"/><rect x="468.45" y="1483.49" width="4.54" height="2.00" fill="#ff0000"/><line x1="471.99" y1="1484.49" x2="471.99" y2="1459.99" stroke="#ff0000" stroke-width="2.0"/><rect x="470.99" y="1458.99" width="7.92" height="2.00" fill="#ff0000"/><line x1="477.90" y1="1459.99" x2="477.90" y2="1478.58" stroke="#ff0000" stroke-width="2.0"/><rect x="476.90" y="1477.58" width="6.23" height="2.00" fill="#ff0000"/><line x1="482.13" y1="1478.58" x2="482.13" y2="1488.72" stroke="#ff0000" stroke-width="2.0"/><rect x="481.13" y="1487.72" width="6.23" height="2.00" fill="#ff0000"/><line x1="486.35" y1="1488.72" x2="486.35" y2="1488.72" stroke="#ff0000" stroke-width="2.0"/><rect x="485.35" y="1487.72" width="5.38" height="6.23" fill="#ff0000"/><line x1="489.73" y1="1488.72" x2="489.73" y2="1488.72" stroke="#ff0000" stroke-width="2.0"/><rect x="488.73" y="1477.58" width="6.23" height="13.83" fill="#ff0000"/><line x1="493.96" y1="1490.41" x2="493.96" y2="1492.10" stroke="#ff0000" stroke-width="2.0"/><rect x="492.96" y="1491.10" width="5.38" height="16.37" fill="#ff0000"/><line x1="497.34" y1="1499.70" x2="497.34" y2="1499.70" stroke="#ff0000" stroke-width="2.0"/><rect x="496.34" y="1491.10" width="9.61" height="17.21" fill="#ff0000"/><line x1="504.94" y1="1496.32" x2="504.94" y2="1496.32" stroke="#ff0000" stroke-width="2.0"/><rect x="503.94" y="1487.72" width="7.07" height="17.21" fill="#ff0000"/><line x1="510.01" y1="1494.63" x2="510.01" y2="1494.63" stroke="#ff0000" stroke-width="2.0"/><rect x="509.01" y="1489.41" width="7.07" height="10.45" fill="#ff0000"/><line x1="515.08" y1="1493.36" x2="515.08" y2="1493.36" stroke="#ff0000" stroke-width="2.0"/><rect x="514.08" y="1484.34" width="7.07" height="18.06" fill="#ff0000"/><line x1="520.15" y1="1485.34" x2="520.15" y2="1481.11" stroke="#ff0000" stroke-width="2.0"/><rect x="519.15" y="1480.11" width="5.38" height="2.00" fill="#ff0000"/><line x1="523.53" y1="1481.11" x2="523.53" y2="1402.52" stroke="#ff0000" stroke-width="2.0"/><rect x="522.53" y="1401.52" width="3.69" height="2.00" fill="#ff0000"/><line x1="525.22" y1="1402.52" x2="525.22" y2="1301.12" stroke="#ff0000" stroke-width="2.0"/><rect x="524.22" y="1300.12" width="3.69" height="2.00" fill="#ff0000"/><line x1="526.91" y1="1301.12" x2="526.91" y2="1225.07" stroke="#ff0000" stroke-width="2.0"/><rect x="525.91" y="1224.07" width="3.35" height="2.00" fill="#ff0000"/><line x1="528.26" y1="1225.07" x2="528.26" y2="1338.30" stroke="#ff0000" stroke-width="2.0"/><rect x="527.26" y="1337.30" width="4.87" height="2.00" fill="#ff0000"/><line x1="531.14" y1="1338.30" x2="531.14" y2="1384.78" stroke="#ff0000" stroke-width="2.0"/><rect x="530.14" y="1383.78" width="3.69" height="2.00" fill="#ff0000"/><line x1="532.83" y1="1384.78" x2="532.83" y2="1464.21" stroke="#ff0000" stroke-width="2.0"/><rect x="531.83" y="1463.21" width="3.69" height="2.00" fill="#ff0000"/><line x1="534.52" y1="1464.21" x2="534.52" y2="1492.10" stroke="#ff0000" stroke-width="2.0"/><rect x="533.52" y="1491.10" width="4.54" height="2.00" fill="#ff0000"/><line x1="537.05" y1="1492.10" x2="537.05" y2="1502.24" stroke="#ff0000" stroke-width="2.0"/><rect x="536.05" y="1501.24" width="9.61" height="2.00" fill="#ff0000"/><line x1="544.66" y1="1502.24" x2="544.66" y2="1490.41" stroke="#ff0000" stroke-width="2.0"/><rect x="543.66" y="1489.41" width="5.38" height="2.00" fill="#ff0000"/><line x1="548.04" y1="1490.41" x2="548.04" y2="1485.34" stroke="#ff0000" stroke-width="2.0"/><rect x="547.04" y="1484.34" width="5.38" height="2.00" fill="#ff0000"/><line x1="551.42" y1="1485.34" x2="551.42" y2="1485.34" stroke="#ff0000" stroke-width="2.0"/><rect x="550.42" y="1475.89" width="7.07" height="10.45" fill="#ff0000"/><line x1="556.49" y1="1476.89" x2="556.49" y2="1421.96" stroke="#ff0000" stroke-width="2.0"/><rect x="555.49" y="1420.96" width="4.54" height="2.00" fill="#ff0000"/><line x1="559.02" y1="1421.96" x2="559.02" y2="1395.76" stroke="#ff0000" stroke-width="2.0"/><rect x="558.02" y="1379.55" width="7.07" height="17.21" fill="#ff0000"/><line x1="564.09" y1="1395.76" x2="564.09" y2="1464.21" stroke="#ff0000" stroke-width="2.0"/><rect x="563.09" y="1463.21" width="4.54" height="2.00" fill="#ff0000"/><line x1="566.63" y1="1464.21" x2="566.63" y2="1492.10" stroke="#ff0000" stroke-width="2.0"/><rect x="565.63" y="1491.10" width="6.23" height="8.76" fill="#ff0000"/><line x1="570.85" y1="1498.86" x2="570.85" y2="1499.70" stroke="#ff0000" stroke-width="2.0"/><rect x="569.85" y="1498.70" width="4.54" height="2.00" fill="#ff0000"/><line x1="573.39" y1="1499.70" x2="573.39" y2="1484.49" stroke="#ff0000" stroke-width="2.0"/><rect x="572.39" y="1483.49" width="5.38" height="2.00" fill="#ff0000"/><line x1="576.77" y1="1484.49" x2="576.77" y2="1503.93" stroke="#ff0000" stroke-width="2.0"/><rect x="575.77" y="1502.93" width="6.23" height="2.00" fill="#ff0000"/></g>
<g shape-rendering="crispEdges"><rect x="580.20" y="1503.52" width="4.33" height="1.60" fill="#ff0000"/><line x1="583.73" y1="1504.32" x2="583.73" y2="1500.95" stroke="#ff0000" stroke-width="1.6"/><rect x="582.93" y="1500.15" width="3.63" height="1.60" fill="#ff0000"/><line x1="585.76" y1="1500.95" x2="585.76" y2="1498.92" stroke="#ff0000" stroke-width="1.6"/><rect x="584.96" y="1498.12" width="4.30" height="1.60" fill="#ff0000"/><line x1="588.46" y1="1498.92" x2="588.46" y2="1496.89" stroke="#ff0000" stroke-width="1.6"/><rect x="587.66" y="1496.09" width="3.63" height="1.60" fill="#ff0000"/><line x1="590.49" y1="1496.89" x2="590.49" y2="1492.84" stroke="#ff0000" stroke-width="1.6"/><rect x="589.69" y="1492.04" width="4.30" height="1.60" fill="#ff0000"/><line x1="593.19" y1="1492.84" x2="593.19" y2="1499.59" stroke="#ff0000" stroke-width="1.6"/><rect x="592.39" y="1498.79" width="3.63" height="1.60" fill="#ff0000"/><line x1="595.22" y1="1499.59" x2="595.22" y2="1496.89" stroke="#ff0000" stroke-width="1.6"/><rect x="594.42" y="1496.09" width="5.65" height="1.60" fill="#ff0000"/><line x1="599.27" y1="1496.89" x2="599.27" y2="1501.62" stroke="#ff0000" stroke-width="1.6"/><rect x="598.47" y="1500.82" width="4.03" height="1.60" fill="#ff0000"/><line x1="601.70" y1="1501.62" x2="601.70" y2="1477.30" stroke="#ff0000" stroke-width="1.6"/><rect x="600.90" y="1476.50" width="5.25" height="1.60" fill="#ff0000"/><line x1="605.35" y1="1477.30" x2="605.35" y2="1490.14" stroke="#ff0000" stroke-width="1.6"/><rect x="604.55" y="1489.34" width="5.65" height="1.60" fill="#ff0000"/><line x1="609.41" y1="1490.14" x2="609.41" y2="1494.19" stroke="#ff0000" stroke-width="1.6"/><rect x="608.61" y="1493.39" width="3.63" height="1.60" fill="#ff0000"/><line x1="611.43" y1="1494.19" x2="611.43" y2="1504.32" stroke="#ff0000" stroke-width="1.6"/><rect x="610.63" y="1503.52" width="3.63" height="1.60" fill="#ff0000"/><line x1="613.46" y1="1504.32" x2="613.46" y2="1494.86" stroke="#ff0000" stroke-width="1.6"/><rect x="612.66" y="1494.06" width="3.63" height="1.60" fill="#ff0000"/><line x1="615.49" y1="1494.86" x2="615.49" y2="1504.32" stroke="#ff0000" stroke-width="1.6"/><rect x="614.69" y="1503.52" width="7.01" height="1.60" fill="#ff0000"/><line x1="620.89" y1="1504.32" x2="620.89" y2="1499.59" stroke="#ff0000" stroke-width="1.6"/><rect x="620.09" y="1498.79" width="4.30" height="1.60" fill="#ff0000"/><line x1="623.59" y1="1499.59" x2="623.59" y2="1494.86" stroke="#ff0000" stroke-width="1.6"/><rect x="622.79" y="1494.06" width="4.30" height="1.60" fill="#ff0000"/><line x1="626.30" y1="1494.86" x2="626.30" y2="1499.59" stroke="#ff0000" stroke-width="1.6"/><rect x="625.50" y="1498.79" width="4.30" height="1.60" fill="#ff0000"/><line x1="629.00" y1="1499.59" x2="629.00" y2="1488.11" stroke="#ff0000" stroke-width="1.6"/><rect x="628.20" y="1487.31" width="3.63" height="1.60" fill="#ff0000"/><line x1="631.03" y1="1488.11" x2="631.03" y2="1477.30" stroke="#ff0000" stroke-width="1.6"/><rect x="630.23" y="1476.50" width="4.98" height="1.60" fill="#ff0000"/><line x1="634.41" y1="1477.30" x2="634.41" y2="1486.08" stroke="#ff0000" stroke-width="1.6"/><rect x="633.61" y="1485.28" width="5.65" height="1.60" fill="#ff0000"/><line x1="638.46" y1="1486.08" x2="638.46" y2="1494.86" stroke="#ff0000" stroke-width="1.6"/><rect x="637.66" y="1494.06" width="4.03" height="1.60" fill="#ff0000"/><line x1="640.89" y1="1494.86" x2="640.89" y2="1496.89" stroke="#ff0000" stroke-width="1.6"/><rect x="640.09" y="1496.09" width="3.90" height="1.60" fill="#ff0000"/><line x1="643.19" y1="1496.89" x2="643.19" y2="1486.08" stroke="#ff0000" stroke-width="1.6"/><rect x="642.39" y="1485.28" width="4.30" height="1.60" fill="#ff0000"/><line x1="645.89" y1="1486.08" x2="645.89" y2="1492.84" stroke="#ff0000" stroke-width="1.6"/><rect x="645.09" y="1492.04" width="3.63" height="1.60" fill="#ff0000"/><line x1="647.92" y1="1492.84" x2="647.92" y2="1474.59" stroke="#ff0000" stroke-width="1.6"/><rect x="647.12" y="1473.79" width="3.63" height="1.60" fill="#ff0000"/><line x1="649.95" y1="1474.59" x2="649.95" y2="1473.24" stroke="#ff0000" stroke-width="1.6"/><rect x="649.15" y="1472.44" width="4.71" height="1.60" fill="#ff0000"/><line x1="653.05" y1="1473.24" x2="653.05" y2="1484.05" stroke="#ff0000" stroke-width="1.6"/><rect x="652.25" y="1483.25" width="3.90" height="1.60" fill="#ff0000"/><line x1="655.35" y1="1484.05" x2="655.35" y2="1490.14" stroke="#ff0000" stroke-width="1.6"/><rect x="654.55" y="1489.34" width="3.63" height="1.60" fill="#ff0000"/><line x1="657.38" y1="1490.14" x2="657.38" y2="1494.86" stroke="#ff0000" stroke-width="1.6"/><rect x="656.58" y="1494.06" width="4.30" height="1.60" fill="#ff0000"/><line x1="660.08" y1="1494.86" x2="660.08" y2="1496.89" stroke="#ff0000" stroke-width="1.6"/><rect x="659.28" y="1496.09" width="4.98" height="1.60" fill="#ff0000"/><line x1="663.46" y1="1496.89" x2="663.46" y2="1512.43" stroke="#ff0000" stroke-width="1.6"/><rect x="662.66" y="1511.63" width="6.33" height="1.60" fill="#ff0000"/><line x1="668.19" y1="1512.43" x2="668.19" y2="1508.38" stroke="#ff0000" stroke-width="1.6"/><rect x="667.39" y="1507.58" width="4.30" height="1.60" fill="#ff0000"/><line x1="670.89" y1="1508.38" x2="670.89" y2="1494.86" stroke="#ff0000" stroke-width="1.6"/><rect x="670.09" y="1494.06" width="4.30" height="1.60" fill="#ff0000"/><line x1="673.59" y1="1494.86" x2="673.59" y2="1496.22" stroke="#ff0000" stroke-width="1.6"/><rect x="672.79" y="1495.42" width="4.30" height="1.60" fill="#ff0000"/><line x1="676.30" y1="1496.22" x2="676.30" y2="1505.68" stroke="#ff0000" stroke-width="1.6"/><rect x="675.50" y="1504.88" width="4.30" height="1.60" fill="#ff0000"/><line x1="679.00" y1="1505.68" x2="679.00" y2="1505.31" stroke="#ff0000" stroke-width="1.6"/><rect x="678.20" y="1504.51" width="3.15" height="1.60" fill="#ff0000"/><line x1="680.55" y1="1505.31" x2="680.55" y2="1506.33" stroke="#ff0000" stroke-width="1.6"/><rect x="679.75" y="1505.53" width="4.14" height="1.60" fill="#ff0000"/><line x1="683.09" y1="1506.33" x2="683.09" y2="1508.36" stroke="#ff0000" stroke-width="1.6"/><rect x="682.29" y="1507.56" width="3.63" height="1.60" fill="#ff0000"/><line x1="685.11" y1="1508.36" x2="685.11" y2="1511.40" stroke="#ff0000" stroke-width="1.6"/><rect x="684.31" y="1510.60" width="3.63" height="1.60" fill="#ff0000"/><line x1="687.14" y1="1511.40" x2="687.14" y2="1500.24" stroke="#ff0000" stroke-width="1.6"/><rect x="686.34" y="1499.44" width="3.63" height="1.60" fill="#ff0000"/><line x1="689.17" y1="1500.24" x2="689.17" y2="1493.14" stroke="#ff0000" stroke-width="1.6"/><rect x="688.37" y="1492.34" width="4.64" height="1.60" fill="#ff0000"/><line x1="692.21" y1="1493.14" x2="692.21" y2="1503.79" stroke="#ff0000" stroke-width="1.6"/><rect x="691.41" y="1502.99" width="3.63" height="1.60" fill="#ff0000"/><line x1="694.24" y1="1503.79" x2="694.24" y2="1499.74" stroke="#ff0000" stroke-width="1.6"/><rect x="693.44" y="1498.94" width="4.64" height="1.60" fill="#ff0000"/><line x1="697.28" y1="1499.74" x2="697.28" y2="1503.79" stroke="#ff0000" stroke-width="1.6"/><rect x="696.48" y="1502.99" width="3.63" height="1.60" fill="#ff0000"/><line x1="699.31" y1="1503.79" x2="699.31" y2="1483.00" stroke="#ff0000" stroke-width="1.6"/><rect x="698.51" y="1482.20" width="8.19" height="1.60" fill="#ff0000"/><line x1="705.90" y1="1483.00" x2="705.90" y2="1479.96" stroke="#ff0000" stroke-width="1.6"/><rect x="705.10" y="1479.16" width="4.14" height="1.60" fill="#ff0000"/><line x1="708.44" y1="1479.96" x2="708.44" y2="1500.24" stroke="#ff0000" stroke-width="1.6"/><rect x="707.64" y="1499.44" width="4.64" height="1.60" fill="#ff0000"/><line x1="711.48" y1="1500.24" x2="711.48" y2="1493.14" stroke="#ff0000" stroke-width="1.6"/><rect x="710.68" y="1492.34" width="3.63" height="1.60" fill="#ff0000"/><line x1="713.51" y1="1493.14" x2="713.51" y2="1464.24" stroke="#ff0000" stroke-width="1.6"/><rect x="712.71" y="1463.44" width="4.64" height="1.60" fill="#ff0000"/><line x1="716.55" y1="1464.24" x2="716.55" y2="1475.90" stroke="#ff0000" stroke-width="1.6"/><rect x="715.75" y="1475.10" width="3.63" height="1.60" fill="#ff0000"/><line x1="718.58" y1="1475.90" x2="718.58" y2="1463.23" stroke="#ff0000" stroke-width="1.6"/><rect x="717.78" y="1462.43" width="4.14" height="1.60" fill="#ff0000"/><line x1="721.12" y1="1463.23" x2="721.12" y2="1486.55" stroke="#ff0000" stroke-width="1.6"/><rect x="720.32" y="1485.75" width="4.14" height="1.60" fill="#ff0000"/><line x1="723.65" y1="1486.55" x2="723.65" y2="1496.19" stroke="#ff0000" stroke-width="1.6"/><rect x="722.85" y="1495.39" width="4.64" height="1.60" fill="#ff0000"/><line x1="726.70" y1="1496.19" x2="726.70" y2="1481.99" stroke="#ff0000" stroke-width="1.6"/><rect x="725.90" y="1481.19" width="7.18" height="1.60" fill="#ff0000"/><line x1="732.27" y1="1481.99" x2="732.27" y2="1495.17" stroke="#ff0000" stroke-width="1.6"/><rect x="731.47" y="1494.37" width="4.64" height="1.60" fill="#ff0000"/><line x1="735.32" y1="1495.17" x2="735.32" y2="1498.72" stroke="#ff0000" stroke-width="1.6"/><rect x="734.52" y="1497.92" width="5.15" height="1.60" fill="#ff0000"/><line x1="738.87" y1="1498.72" x2="738.87" y2="1502.27" stroke="#ff0000" stroke-width="1.6"/><rect x="738.07" y="1501.47" width="4.64" height="1.60" fill="#ff0000"/><line x1="741.91" y1="1502.27" x2="741.91" y2="1495.17" stroke="#ff0000" stroke-width="1.6"/><rect x="741.11" y="1494.37" width="3.63" height="1.60" fill="#ff0000"/><line x1="743.94" y1="1495.17" x2="743.94" y2="1502.27" stroke="#ff0000" stroke-width="1.6"/><rect x="743.14" y="1501.47" width="3.63" height="1.60" fill="#ff0000"/><line x1="745.97" y1="1502.27" x2="745.97" y2="1491.12" stroke="#ff0000" stroke-width="1.6"/><rect x="745.17" y="1490.32" width="3.63" height="1.60" fill="#ff0000"/><line x1="747.99" y1="1491.12" x2="747.99" y2="1473.37" stroke="#ff0000" stroke-width="1.6"/><rect x="747.19" y="1472.57" width="3.63" height="1.60" fill="#ff0000"/><line x1="750.02" y1="1473.37" x2="750.02" y2="1486.04" stroke="#ff0000" stroke-width="1.6"/><rect x="749.22" y="1485.24" width="4.14" height="1.60" fill="#ff0000"/><line x1="752.56" y1="1486.04" x2="752.56" y2="1493.14" stroke="#ff0000" stroke-width="1.6"/><rect x="751.76" y="1492.34" width="4.64" height="1.60" fill="#ff0000"/><line x1="755.60" y1="1493.14" x2="755.60" y2="1468.80" stroke="#ff0000" stroke-width="1.6"/><rect x="754.80" y="1468.00" width="4.14" height="1.60" fill="#ff0000"/><line x1="758.14" y1="1468.80" x2="758.14" y2="1492.64" stroke="#ff0000" stroke-width="1.6"/><rect x="757.34" y="1491.84" width="3.12" height="1.60" fill="#ff0000"/><line x1="759.66" y1="1492.64" x2="759.66" y2="1503.79" stroke="#ff0000" stroke-width="1.6"/><rect x="758.86" y="1502.99" width="4.14" height="1.60" fill="#ff0000"/><line x1="762.19" y1="1503.79" x2="762.19" y2="1497.20" stroke="#ff0000" stroke-width="1.6"/><rect x="761.39" y="1496.40" width="4.14" height="1.60" fill="#ff0000"/><line x1="764.73" y1="1497.20" x2="764.73" y2="1497.20" stroke="#ff0000" stroke-width="1.6"/><rect x="763.93" y="1496.40" width="4.14" height="1.60" fill="#ff0000"/><line x1="767.26" y1="1497.20" x2="767.26" y2="1506.33" stroke="#ff0000" stroke-width="1.6"/><rect x="766.46" y="1505.53" width="4.14" height="1.60" fill="#ff0000"/><line x1="769.80" y1="1506.33" x2="769.80" y2="1503.79" stroke="#ff0000" stroke-width="1.6"/><rect x="769.00" y="1502.99" width="4.14" height="1.60" fill="#ff0000"/><line x1="772.33" y1="1503.79" x2="772.33" y2="1506.33" stroke="#ff0000" stroke-width="1.6"/><rect x="771.53" y="1505.53" width="3.63" height="1.60" fill="#ff0000"/><line x1="774.36" y1="1506.33" x2="774.36" y2="1500.24" stroke="#ff0000" stroke-width="1.6"/><rect x="773.56" y="1499.44" width="4.24" height="1.60" fill="#ff0000"/><line x1="777.00" y1="1500.24" x2="777.00" y2="1495.17" stroke="#ff0000" stroke-width="1.6"/><rect x="776.20" y="1494.37" width="4.17" height="1.60" fill="#ff0000"/><line x1="779.56" y1="1495.17" x2="779.56" y2="1503.29" stroke="#ff0000" stroke-width="1.6"/><rect x="778.76" y="1502.49" width="4.14" height="1.60" fill="#ff0000"/><line x1="782.10" y1="1503.29" x2="782.10" y2="1492.64" stroke="#ff0000" stroke-width="1.6"/><rect x="781.30" y="1491.84" width="4.14" height="1.60" fill="#ff0000"/><line x1="784.63" y1="1492.64" x2="784.63" y2="1508.86" stroke="#ff0000" stroke-width="1.6"/><rect x="783.83" y="1508.06" width="4.14" height="1.60" fill="#ff0000"/><line x1="787.17" y1="1508.86" x2="787.17" y2="1497.20" stroke="#ff0000" stroke-width="1.6"/><rect x="786.37" y="1496.40" width="8.70" height="1.60" fill="#ff0000"/><line x1="794.27" y1="1497.20" x2="794.27" y2="1495.17" stroke="#ff0000" stroke-width="1.6"/><rect x="793.47" y="1494.37" width="4.64" height="1.60" fill="#ff0000"/><line x1="797.31" y1="1495.17" x2="797.31" y2="1495.17" stroke="#ff0000" stroke-width="1.6"/><rect x="796.51" y="1494.37" width="5.15" height="1.60" fill="#ff0000"/><line x1="800.86" y1="1495.17" x2="800.86" y2="1502.27" stroke="#ff0000" stroke-width="1.6"/><rect x="800.06" y="1501.47" width="4.14" height="1.60" fill="#ff0000"/><line x1="803.40" y1="1502.27" x2="803.40" y2="1490.61" stroke="#ff0000" stroke-width="1.6"/><rect x="802.60" y="1489.81" width="4.14" height="1.60" fill="#ff0000"/><line x1="805.93" y1="1490.61" x2="805.93" y2="1511.40" stroke="#ff0000" stroke-width="1.6"/><rect x="805.13" y="1510.60" width="4.14" height="1.60" fill="#ff0000"/><line x1="808.47" y1="1511.40" x2="808.47" y2="1492.64" stroke="#ff0000" stroke-width="1.6"/><rect x="807.67" y="1491.84" width="3.63" height="1.60" fill="#ff0000"/><line x1="810.50" y1="1492.64" x2="810.50" y2="1499.74" stroke="#ff0000" stroke-width="1.6"/><rect x="809.70" y="1498.94" width="5.15" height="1.60" fill="#ff0000"/><line x1="814.05" y1="1499.74" x2="814.05" y2="1495.17" stroke="#ff0000" stroke-width="1.6"/><rect x="813.25" y="1494.37" width="5.15" height="1.60" fill="#ff0000"/><line x1="817.60" y1="1495.17" x2="817.60" y2="1506.33" stroke="#ff0000" stroke-width="1.6"/><rect x="816.80" y="1505.53" width="4.14" height="1.60" fill="#ff0000"/><line x1="820.13" y1="1506.33" x2="820.13" y2="1508.86" stroke="#ff0000" stroke-width="1.6"/><rect x="819.33" y="1508.06" width="4.14" height="1.60" fill="#ff0000"/><line x1="822.67" y1="1508.86" x2="822.67" y2="1489.09" stroke="#ff0000" stroke-width="1.6"/><rect x="821.87" y="1488.29" width="6.16" height="1.60" fill="#ff0000"/><line x1="827.23" y1="1489.09" x2="827.23" y2="1506.33" stroke="#ff0000" stroke-width="1.6"/><rect x="826.43" y="1505.53" width="4.64" height="1.60" fill="#ff0000"/><line x1="830.27" y1="1506.33" x2="830.27" y2="1502.27" stroke="#ff0000" stroke-width="1.6"/><rect x="829.47" y="1501.47" width="4.14" height="1.60" fill="#ff0000"/><line x1="832.81" y1="1502.27" x2="832.81" y2="1497.20" stroke="#ff0000" stroke-width="1.6"/><rect x="832.01" y="1496.40" width="3.63" height="1.60" fill="#ff0000"/><line x1="834.84" y1="1497.20" x2="834.84" y2="1508.86" stroke="#ff0000" stroke-width="1.6"/><rect x="834.04" y="1508.06" width="3.63" height="1.60" fill="#ff0000"/><line x1="836.87" y1="1508.86" x2="836.87" y2="1492.64" stroke="#ff0000" stroke-width="1.6"/><rect x="836.07" y="1491.84" width="4.64" height="1.60" fill="#ff0000"/><line x1="839.91" y1="1492.64" x2="839.91" y2="1497.20" stroke="#ff0000" stroke-width="1.6"/><rect x="839.11" y="1496.40" width="4.14" height="1.60" fill="#ff0000"/><line x1="842.44" y1="1497.20" x2="842.44" y2="1502.27" stroke="#ff0000" stroke-width="1.6"/><rect x="841.64" y="1501.47" width="4.14" height="1.60" fill="#ff0000"/><line x1="844.98" y1="1502.27" x2="844.98" y2="1499.23" stroke="#ff0000" stroke-width="1.6"/><rect x="844.18" y="1498.43" width="3.63" height="1.60" fill="#ff0000"/><line x1="847.01" y1="1499.23" x2="847.01" y2="1492.64" stroke="#ff0000" stroke-width="1.6"/><rect x="846.21" y="1491.84" width="8.70" height="1.60" fill="#ff0000"/><line x1="854.11" y1="1492.64" x2="854.11" y2="1499.74" stroke="#ff0000" stroke-width="1.6"/><rect x="853.31" y="1498.94" width="3.63" height="1.60" fill="#ff0000"/><line x1="856.14" y1="1499.74" x2="856.14" y2="1495.17" stroke="#ff0000" stroke-width="1.6"/><rect x="855.34" y="1494.37" width="5.66" height="1.60" fill="#ff0000"/><line x1="860.19" y1="1495.17" x2="860.19" y2="1484.52" stroke="#ff0000" stroke-width="1.6"/><rect x="859.39" y="1483.72" width="5.66" height="1.60" fill="#ff0000"/><line x1="864.25" y1="1484.52" x2="864.25" y2="1495.17" stroke="#ff0000" stroke-width="1.6"/><rect x="863.45" y="1494.37" width="4.14" height="1.60" fill="#ff0000"/><line x1="866.78" y1="1495.17" x2="866.78" y2="1506.33" stroke="#ff0000" stroke-width="1.6"/><rect x="865.98" y="1505.53" width="5.66" height="1.60" fill="#ff0000"/><line x1="870.84" y1="1506.33" x2="870.84" y2="1508.86" stroke="#ff0000" stroke-width="1.6"/><rect x="870.04" y="1508.06" width="4.64" height="1.60" fill="#ff0000"/><line x1="873.88" y1="1508.86" x2="873.88" y2="1492.64" stroke="#ff0000" stroke-width="1.6"/><rect x="873.08" y="1491.84" width="2.72" height="1.60" fill="#ff0000"/><line x1="875.00" y1="1492.64" x2="875.00" y2="1492.64" stroke="#ff0000" stroke-width="1.6"/><rect x="874.20" y="1491.84" width="3.66" height="1.60" fill="#ff0000"/><line x1="877.06" y1="1492.64" x2="877.06" y2="1497.20" stroke="#ff0000" stroke-width="1.6"/><rect x="876.26" y="1496.40" width="3.63" height="1.60" fill="#ff0000"/><line x1="879.09" y1="1497.20" x2="879.09" y2="1499.74" stroke="#ff0000" stroke-width="1.6"/><rect x="878.29" y="1498.94" width="4.14" height="1.60" fill="#ff0000"/><line x1="881.62" y1="1499.74" x2="881.62" y2="1497.20" stroke="#ff0000" stroke-width="1.6"/><rect x="880.82" y="1496.40" width="3.63" height="1.60" fill="#ff0000"/><line x1="883.65" y1="1497.20" x2="883.65" y2="1502.27" stroke="#ff0000" stroke-width="1.6"/><rect x="882.85" y="1501.47" width="3.12" height="1.60" fill="#ff0000"/><line x1="885.17" y1="1502.27" x2="885.17" y2="1486.04" stroke="#ff0000" stroke-width="1.6"/><rect x="884.37" y="1485.24" width="4.14" height="1.60" fill="#ff0000"/><line x1="887.71" y1="1486.04" x2="887.71" y2="1484.52" stroke="#ff0000" stroke-width="1.6"/><rect x="886.91" y="1483.72" width="4.64" height="1.60" fill="#ff0000"/><line x1="890.75" y1="1484.52" x2="890.75" y2="1495.17" stroke="#ff0000" stroke-width="1.6"/><rect x="889.95" y="1494.37" width="4.14" height="1.60" fill="#ff0000"/><line x1="893.28" y1="1495.17" x2="893.28" y2="1511.40" stroke="#ff0000" stroke-width="1.6"/><rect x="892.48" y="1510.60" width="4.14" height="1.60" fill="#ff0000"/><line x1="895.82" y1="1511.40" x2="895.82" y2="1503.29" stroke="#ff0000" stroke-width="1.6"/><rect x="895.02" y="1502.49" width="8.19" height="1.60" fill="#ff0000"/><line x1="902.41" y1="1503.29" x2="902.41" y2="1501.26" stroke="#ff0000" stroke-width="1.6"/><rect x="901.61" y="1500.46" width="6.16" height="1.60" fill="#ff0000"/><line x1="906.98" y1="1501.26" x2="906.98" y2="1495.17" stroke="#ff0000" stroke-width="1.6"/><rect x="906.18" y="1494.37" width="4.14" height="1.60" fill="#ff0000"/><line x1="909.51" y1="1495.17" x2="909.51" y2="1499.74" stroke="#ff0000" stroke-width="1.6"/><rect x="908.71" y="1498.94" width="4.14" height="1.60" fill="#ff0000"/><line x1="912.05" y1="1499.74" x2="912.05" y2="1503.79" stroke="#ff0000" stroke-width="1.6"/><rect x="911.25" y="1502.99" width="6.67" height="1.60" fill="#ff0000"/><line x1="917.12" y1="1503.79" x2="917.12" y2="1499.74" stroke="#ff0000" stroke-width="1.6"/><rect x="916.32" y="1498.94" width="4.64" height="1.60" fill="#ff0000"/><line x1="920.16" y1="1499.74" x2="920.16" y2="1506.33" stroke="#ff0000" stroke-width="1.6"/><rect x="919.36" y="1505.53" width="3.63" height="1.60" fill="#ff0000"/><line x1="922.19" y1="1506.33" x2="922.19" y2="1508.86" stroke="#ff0000" stroke-width="1.6"/><rect x="921.39" y="1508.06" width="4.64" height="1.60" fill="#ff0000"/><line x1="925.23" y1="1508.86" x2="925.23" y2="1499.74" stroke="#ff0000" stroke-width="1.6"/><rect x="924.43" y="1498.94" width="6.16" height="1.60" fill="#ff0000"/><line x1="929.80" y1="1499.74" x2="929.80" y2="1495.17" stroke="#ff0000" stroke-width="1.6"/><rect x="929.00" y="1494.37" width="5.66" height="1.60" fill="#ff0000"/><line x1="933.85" y1="1495.17" x2="933.85" y2="1488.58" stroke="#ff0000" stroke-width="1.6"/><rect x="933.05" y="1487.78" width="4.14" height="1.60" fill="#ff0000"/><line x1="936.39" y1="1488.58" x2="936.39" y2="1495.17" stroke="#ff0000" stroke-width="1.6"/><rect x="935.59" y="1494.37" width="5.15" height="1.60" fill="#ff0000"/><line x1="939.94" y1="1495.17" x2="939.94" y2="1499.74" stroke="#ff0000" stroke-width="1.6"/><rect x="939.14" y="1498.94" width="4.14" height="1.60" fill="#ff0000"/><line x1="942.47" y1="1499.74" x2="942.47" y2="1495.17" stroke="#ff0000" stroke-width="1.6"/><rect x="941.67" y="1494.37" width="6.67" height="1.60" fill="#ff0000"/><line x1="947.54" y1="1495.17" x2="947.54" y2="1499.74" stroke="#ff0000" stroke-width="1.6"/><rect x="946.74" y="1498.94" width="4.14" height="1.60" fill="#ff0000"/><line x1="950.08" y1="1499.74" x2="950.08" y2="1491.12" stroke="#ff0000" stroke-width="1.6"/><rect x="949.28" y="1490.32" width="4.14" height="1.60" fill="#ff0000"/><line x1="952.61" y1="1491.12" x2="952.61" y2="1495.17" stroke="#ff0000" stroke-width="1.6"/><rect x="951.81" y="1494.37" width="4.14" height="1.60" fill="#ff0000"/><line x1="955.15" y1="1495.17" x2="955.15" y2="1502.27" stroke="#ff0000" stroke-width="1.6"/><rect x="954.35" y="1501.47" width="4.64" height="1.60" fill="#ff0000"/><line x1="958.19" y1="1502.27" x2="958.19" y2="1508.86" stroke="#ff0000" stroke-width="1.6"/><rect x="957.39" y="1508.06" width="4.64" height="1.60" fill="#ff0000"/><line x1="961.24" y1="1508.86" x2="961.24" y2="1499.74" stroke="#ff0000" stroke-width="1.6"/><rect x="960.44" y="1498.94" width="4.64" height="1.60" fill="#ff0000"/><line x1="964.28" y1="1499.74" x2="964.28" y2="1502.27" stroke="#ff0000" stroke-width="1.6"/><rect x="963.48" y="1501.47" width="4.14" height="1.60" fill="#ff0000"/><line x1="966.81" y1="1502.27" x2="966.81" y2="1506.33" stroke="#ff0000" stroke-width="1.6"/><rect x="966.01" y="1505.53" width="3.63" height="1.60" fill="#ff0000"/><line x1="968.84" y1="1506.33" x2="968.84" y2="1497.20" stroke="#ff0000" stroke-width="1.6"/><rect x="968.04" y="1496.40" width="4.14" height="1.60" fill="#ff0000"/><line x1="971.38" y1="1497.20" x2="971.38" y2="1506.33" stroke="#ff0000" stroke-width="1.6"/><rect x="970.58" y="1505.53" width="3.22" height="1.60" fill="#ff0000"/><line x1="972.96" y1="1506.33" x2="972.96" y2="1506.33" stroke="#ff0000" stroke-width="1.6"/><rect x="972.16" y="1505.53" width="2.11" height="1.60" fill="#ff0000"/><line x1="973.47" y1="1506.33" x2="973.47" y2="1497.71" stroke="#ff0000" stroke-width="1.6"/><rect x="972.67" y="1496.91" width="4.14" height="1.60" fill="#ff0000"/><line x1="976.00" y1="1497.71" x2="976.00" y2="1495.17" stroke="#ff0000" stroke-width="1.6"/><rect x="975.20" y="1494.37" width="4.14" height="1.60" fill="#ff0000"/><line x1="978.54" y1="1495.17" x2="978.54" y2="1503.29" stroke="#ff0000" stroke-width="1.6"/><rect x="977.74" y="1502.49" width="3.63" height="1.60" fill="#ff0000"/><line x1="980.57" y1="1503.29" x2="980.57" y2="1499.74" stroke="#ff0000" stroke-width="1.6"/><rect x="979.77" y="1498.94" width="4.14" height="1.60" fill="#ff0000"/><line x1="983.10" y1="1499.74" x2="983.10" y2="1503.29" stroke="#ff0000" stroke-width="1.6"/><rect x="982.30" y="1502.49" width="3.63" height="1.60" fill="#ff0000"/><line x1="985.13" y1="1503.29" x2="985.13" y2="1499.74" stroke="#ff0000" stroke-width="1.6"/><rect x="984.33" y="1498.94" width="6.16" height="1.60" fill="#ff0000"/><line x1="989.70" y1="1499.74" x2="989.70" y2="1503.29" stroke="#ff0000" stroke-width="1.6"/><rect x="988.90" y="1502.49" width="4.64" height="1.60" fill="#ff0000"/><line x1="992.74" y1="1503.29" x2="992.74" y2="1506.33" stroke="#ff0000" stroke-width="1.6"/><rect x="991.94" y="1505.53" width="3.12" height="1.60" fill="#ff0000"/><line x1="994.26" y1="1506.33" x2="994.26" y2="1508.86" stroke="#ff0000" stroke-width="1.6"/><rect x="993.46" y="1508.06" width="5.15" height="1.60" fill="#ff0000"/><line x1="997.81" y1="1508.86" x2="997.81" y2="1506.33" stroke="#ff0000" stroke-width="1.6"/><rect x="997.01" y="1505.53" width="3.63" height="1.60" fill="#ff0000"/><line x1="999.84" y1="1506.33" x2="999.84" y2="1508.86" stroke="#ff0000" stroke-width="1.6"/><rect x="999.04" y="1508.06" width="3.63" height="1.60" fill="#ff0000"/><line x1="1001.87" y1="1508.86" x2="1001.87" y2="1502.27" stroke="#ff0000" stroke-width="1.6"/><rect x="1001.07" y="1501.47" width="4.14" height="1.60" fill="#ff0000"/><line x1="1004.40" y1="1502.27" x2="1004.40" y2="1506.33" stroke="#ff0000" stroke-width="1.6"/><rect x="1003.60" y="1505.53" width="3.63" height="1.60" fill="#ff0000"/></g>
</svg>
</body></html>
